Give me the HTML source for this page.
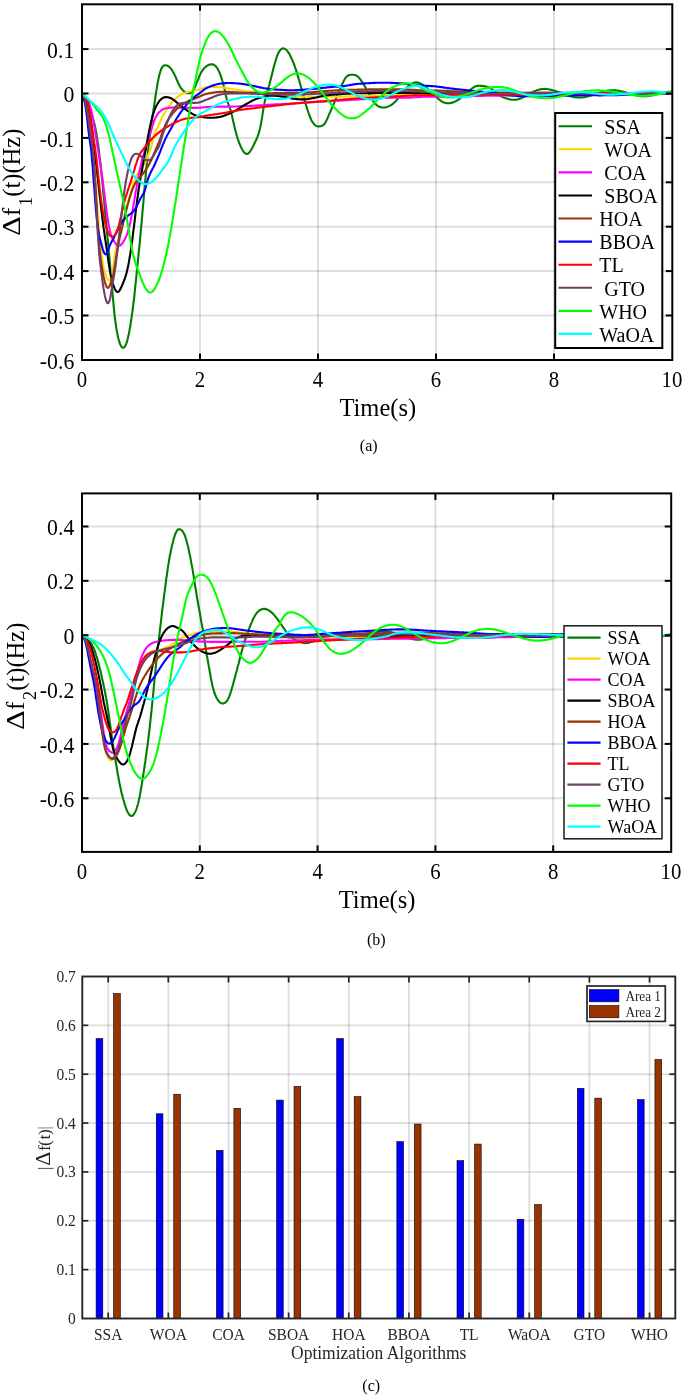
<!DOCTYPE html>
<html><head><meta charset="utf-8"><title>Frequency deviation comparison</title>
<style>html,body{margin:0;padding:0;background:#fff;}body{width:685px;height:1397px;overflow:hidden;font-family:"Liberation Serif",serif;}svg{display:block;}</style>
</head><body>
<svg width="685" height="1397" viewBox="0 0 685 1397" style="will-change:transform">
<rect width="685" height="1397" fill="#fff"/>
<g id="plota">
<clipPath id="clipa"><rect x="82" y="4.3" width="590.3" height="355.7"/></clipPath>
<g stroke="#262626" stroke-opacity="0.15" stroke-width="2">
<line x1="200" y1="4.3" x2="200" y2="360"/>
<line x1="318" y1="4.3" x2="318" y2="360"/>
<line x1="436" y1="4.3" x2="436" y2="360"/>
<line x1="554" y1="4.3" x2="554" y2="360"/>
<line x1="82" y1="49.1" x2="672.3" y2="49.1"/>
<line x1="82" y1="93.5" x2="672.3" y2="93.5"/>
<line x1="82" y1="137.9" x2="672.3" y2="137.9"/>
<line x1="82" y1="182.3" x2="672.3" y2="182.3"/>
<line x1="82" y1="226.7" x2="672.3" y2="226.7"/>
<line x1="82" y1="271.1" x2="672.3" y2="271.1"/>
<line x1="82" y1="315.5" x2="672.3" y2="315.5"/>
</g>
<g clip-path="url(#clipa)" fill="none" stroke-width="2.1" stroke-linejoin="round" stroke-linecap="round">
<path d="M82 93.5 L82.4 94.4 L82.8 95.3 L83.3 96.2 L83.7 97.1 L84.1 98 L84.5 98.9 L85 99.8 L85.4 100.7 L85.8 101.5 L86.2 102.4 L86.6 103.3 L87.1 104.2 L87.5 105.1 L87.9 106 L88.3 106.8 L88.8 107.7 L89.2 108.6 L89.6 109.5 L90 110.5 L90.4 111.5 L90.9 112.5 L91.3 113.6 L91.7 114.7 L92.1 115.9 L92.6 117.2 L93 118.6 L93.4 120 L93.8 121.6 L94.3 123.2 L94.7 125 L95.1 126.9 L95.5 129 L95.9 131.1 L96.4 133.5 L96.8 135.9 L97.2 138.6 L97.6 141.4 L98.1 144.3 L98.5 147.4 L98.9 150.7 L99.3 154.1 L99.7 157.7 L100.2 161.3 L100.6 165.1 L101 169.1 L101.4 173.1 L101.9 177.3 L102.3 181.5 L102.7 185.8 L103.1 190.3 L103.5 194.8 L104 199.3 L104.4 203.9 L104.8 208.5 L105.2 213.1 L105.7 217.7 L106.1 222.3 L106.5 226.9 L106.9 231.4 L107.3 235.8 L107.8 240.3 L108.2 244.7 L108.6 249.2 L109 253.7 L109.5 258.2 L109.9 262.9 L110.3 267.6 L110.7 272.4 L111.1 277.3 L111.6 282.2 L112 287.2 L112.4 292.1 L112.8 296.9 L113.3 301.6 L113.7 306.1 L114.1 310.3 L114.5 314.3 L114.9 318 L115.4 321.4 L115.8 324.5 L116.2 327.3 L116.6 329.9 L117.1 332.3 L117.5 334.5 L117.9 336.5 L118.3 338.3 L118.8 339.9 L119.2 341.4 L119.6 342.7 L120 343.9 L120.4 344.9 L120.9 345.7 L121.3 346.4 L121.7 347 L122.1 347.4 L122.6 347.7 L123 347.8 L123.4 347.7 L123.8 347.6 L124.2 347.3 L124.7 346.8 L125.1 346.2 L125.5 345.4 L125.9 344.5 L126.4 343.4 L126.8 342.2 L127.2 340.7 L127.6 339.2 L128 337.5 L128.5 335.6 L128.9 333.5 L129.3 331.4 L129.7 329 L130.2 326.6 L130.6 324 L131 321.3 L131.4 318.5 L131.8 315.6 L132.3 312.5 L132.7 309.4 L133.1 306.1 L133.5 302.6 L134 299.1 L134.4 295.3 L134.8 291.5 L135.2 287.4 L135.6 283.3 L136.1 279.1 L136.5 274.9 L136.9 270.6 L137.3 266.4 L137.8 262.3 L138.2 258.1 L138.6 253.9 L139 249.6 L139.5 245.3 L139.9 240.9 L140.3 236.4 L140.7 231.9 L141.1 227.3 L141.6 222.6 L142 217.8 L142.4 213 L142.8 208.1 L143.3 203.3 L143.7 198.4 L144.1 193.6 L144.5 188.7 L144.9 184 L145.4 179.3 L145.8 174.7 L146.2 170.1 L146.6 165.7 L147.1 161.4 L147.5 157.1 L147.9 153 L148.3 149 L148.7 145.1 L149.2 141.4 L149.6 137.8 L150 134.4 L150.4 131.1 L150.9 128 L151.3 124.9 L151.7 122 L152.1 119.1 L152.5 116.3 L153 113.4 L153.4 110.6 L153.8 107.8 L154.2 104.9 L154.7 102.1 L155.1 99.3 L155.5 96.5 L155.9 93.7 L156.3 90.9 L156.8 88.2 L157.2 85.6 L157.6 83.2 L158 80.9 L158.5 78.8 L158.9 76.9 L159.3 75.1 L159.7 73.5 L160.2 72 L160.6 70.8 L161 69.6 L161.4 68.7 L161.8 67.8 L162.3 67.2 L162.7 66.6 L163.1 66.2 L163.5 65.8 L164 65.6 L164.4 65.4 L164.8 65.3 L165.2 65.3 L165.6 65.3 L166.1 65.3 L166.5 65.4 L166.9 65.5 L167.3 65.6 L167.8 65.8 L168.2 66.1 L168.6 66.4 L169 66.7 L169.4 67.1 L169.9 67.5 L170.3 67.9 L170.7 68.4 L171.1 68.9 L171.6 69.5 L172 70.1 L172.4 70.8 L172.8 71.5 L173.2 72.2 L173.7 73 L174.1 73.8 L174.5 74.6 L174.9 75.5 L175.4 76.4 L175.8 77.4 L176.2 78.4 L176.6 79.3 L177 80.3 L177.5 81.3 L177.9 82.3 L178.3 83.2 L178.7 84.1 L179.2 84.9 L179.6 85.7 L180 86.5 L180.4 87.2 L180.8 87.8 L181.3 88.4 L181.7 88.9 L182.1 89.5 L182.5 89.9 L183 90.4 L183.4 90.8 L183.8 91.1 L184.2 91.5 L184.7 91.8 L185.1 92.1 L185.5 92.4 L185.9 92.6 L186.3 92.8 L186.8 93 L187.2 93.1 L187.6 93.2 L188 93.3 L188.5 93.3 L188.9 93.3 L189.3 93.2 L189.7 93.1 L190.1 93 L190.6 92.8 L191 92.5 L191.4 92.2 L191.8 91.8 L192.3 91.4 L192.7 90.9 L193.1 90.3 L193.5 89.7 L193.9 89 L194.4 88.2 L194.8 87.4 L195.2 86.5 L195.6 85.5 L196.1 84.5 L196.5 83.4 L196.9 82.4 L197.3 81.3 L197.7 80.2 L198.2 79.1 L198.6 78.1 L199 77 L199.4 76 L199.9 75 L200.3 74.1 L200.7 73.3 L201.1 72.5 L201.5 71.8 L202 71.1 L202.4 70.4 L202.8 69.9 L203.2 69.3 L203.7 68.8 L204.1 68.3 L204.5 67.9 L204.9 67.5 L205.4 67.1 L205.8 66.8 L206.2 66.4 L206.6 66.1 L207 65.8 L207.5 65.6 L207.9 65.3 L208.3 65.1 L208.7 64.9 L209.2 64.8 L209.6 64.6 L210 64.5 L210.4 64.4 L210.8 64.4 L211.3 64.3 L211.7 64.3 L212.1 64.4 L212.5 64.4 L213 64.5 L213.4 64.7 L213.8 64.8 L214.2 65 L214.6 65.3 L215.1 65.6 L215.5 66 L215.9 66.4 L216.3 66.9 L216.8 67.4 L217.2 68.1 L217.6 68.7 L218 69.5 L218.4 70.3 L218.9 71.2 L219.3 72.2 L219.7 73.2 L220.1 74.3 L220.6 75.4 L221 76.6 L221.4 77.8 L221.8 79.1 L222.2 80.5 L222.7 81.9 L223.1 83.4 L223.5 85 L223.9 86.7 L224.4 88.5 L224.8 90.4 L225.2 92.4 L225.6 94.5 L226.1 96.4 L226.5 98.2 L226.9 99.8 L227.3 101.2 L227.7 102.4 L228.2 103.6 L228.6 104.6 L229 105.7 L229.4 106.8 L229.9 108 L230.3 109.3 L230.7 110.7 L231.1 112.3 L231.5 114 L232 115.8 L232.4 117.7 L232.8 119.5 L233.2 121.4 L233.7 123.3 L234.1 125.2 L234.5 127 L234.9 128.7 L235.3 130.3 L235.8 131.9 L236.2 133.5 L236.6 135 L237 136.4 L237.5 137.8 L237.9 139.1 L238.3 140.3 L238.7 141.5 L239.1 142.7 L239.6 143.8 L240 144.8 L240.4 145.8 L240.8 146.8 L241.3 147.7 L241.7 148.5 L242.1 149.3 L242.5 150.1 L242.9 150.8 L243.4 151.4 L243.8 151.9 L244.2 152.4 L244.6 152.9 L245.1 153.2 L245.5 153.5 L245.9 153.7 L246.3 153.9 L246.7 153.9 L247.2 153.9 L247.6 153.8 L248 153.6 L248.4 153.3 L248.9 152.9 L249.3 152.5 L249.7 152 L250.1 151.4 L250.6 150.8 L251 150.1 L251.4 149.4 L251.8 148.7 L252.2 147.9 L252.7 147.1 L253.1 146.2 L253.5 145.4 L253.9 144.5 L254.4 143.6 L254.8 142.8 L255.2 141.9 L255.6 141 L256 140.2 L256.5 139.3 L256.9 138.3 L257.3 137.3 L257.7 136.2 L258.2 135 L258.6 133.7 L259 132.3 L260 128.4 L261 123.6 L262 117.9 L262.9 111.8 L263.9 106 L264.9 100.9 L265.9 96.5 L266.9 92.7 L267.9 89.5 L268.9 86.2 L269.8 82.7 L270.8 79 L271.8 75.1 L272.8 71.1 L273.8 67.1 L274.8 63.4 L275.8 60 L276.7 57 L277.7 54.5 L278.7 52.4 L279.7 50.8 L280.7 49.6 L281.7 48.8 L282.7 48.4 L283.6 48.4 L284.6 48.7 L285.6 49.3 L286.6 50.2 L287.6 51.4 L288.6 52.8 L289.6 54.4 L290.5 56.3 L291.5 58.3 L292.5 60.6 L293.5 63 L294.5 65.6 L295.5 68.4 L296.5 71.4 L297.4 74.6 L298.4 77.9 L299.4 81.3 L300.4 84.9 L301.4 88.4 L302.4 92 L303.4 95.6 L304.3 99.2 L305.3 102.7 L306.3 106.1 L307.3 109.3 L308.3 112.3 L309.3 115 L310.3 117.5 L311.2 119.7 L312.2 121.7 L313.2 123.2 L314.2 124.4 L315.2 125.3 L316.2 125.9 L317.2 126.2 L318.1 126.4 L319.1 126.4 L320.1 126.3 L321.1 126.1 L322.1 125.8 L323.1 125.2 L324.1 124.3 L325 123.1 L326 121.4 L327 119.4 L328 117.1 L329 114.7 L330 112.4 L331 110.1 L331.9 108 L332.9 105.9 L333.9 103.7 L334.9 101.3 L335.9 98.9 L336.9 96.4 L337.9 94 L338.8 91.7 L339.8 89.4 L340.8 87.3 L341.8 85.1 L342.8 82.9 L343.8 80.9 L344.8 79 L345.7 77.5 L346.7 76.5 L347.7 75.7 L348.7 75.2 L349.7 74.9 L350.7 74.7 L351.7 74.7 L352.6 74.7 L353.6 74.8 L354.6 75 L355.6 75.3 L356.6 75.8 L357.6 76.4 L358.6 77.3 L359.5 78.4 L360.5 79.6 L361.5 81.1 L362.5 82.6 L363.5 84.2 L364.5 85.9 L365.5 87.5 L366.4 89.2 L367.4 90.9 L368.4 92.6 L369.4 94.5 L370.4 96.4 L371.4 98.2 L372.4 99.9 L373.3 101.4 L374.3 102.7 L375.3 103.8 L376.3 104.8 L377.3 105.6 L378.3 106.2 L379.3 106.7 L380.2 107.1 L381.2 107.3 L382.2 107.5 L383.2 107.5 L384.2 107.5 L385.2 107.4 L386.2 107.2 L387.1 106.9 L388.1 106.5 L389.1 106.1 L390.1 105.6 L391.1 105 L392.1 104.4 L393.1 103.7 L394 102.8 L395 101.9 L396 100.9 L397 99.7 L398 98.5 L399 97.2 L400 95.9 L400.9 94.6 L401.9 93.3 L402.9 92 L403.9 90.8 L404.9 89.6 L405.9 88.5 L406.9 87.5 L407.8 86.5 L408.8 85.6 L409.8 84.9 L410.8 84.2 L411.8 83.6 L412.8 83.1 L413.8 82.8 L414.7 82.5 L415.7 82.4 L416.7 82.4 L417.7 82.6 L418.7 82.8 L419.7 83.2 L420.7 83.6 L421.6 84.1 L422.6 84.7 L423.6 85.4 L424.6 86.1 L425.6 86.9 L426.6 87.7 L427.6 88.6 L428.5 89.5 L429.5 90.4 L430.5 91.3 L431.5 92.3 L432.5 93.3 L433.5 94.2 L434.5 95.2 L435.4 96.2 L436.4 97.1 L437.4 98 L438.4 98.9 L439.4 99.7 L440.4 100.5 L441.4 101.1 L442.3 101.7 L443.3 102.2 L444.3 102.6 L445.3 102.9 L446.3 103.1 L447.3 103.3 L448.3 103.3 L449.2 103.3 L450.2 103.1 L451.2 102.9 L452.2 102.7 L453.2 102.3 L454.2 101.9 L455.2 101.5 L456.1 101 L457.1 100.4 L458.1 99.8 L459.1 99.1 L460.1 98.5 L461.1 97.7 L462.1 97 L463 96.2 L464 95.4 L465 94.5 L466 93.7 L467 92.8 L468 92 L468.9 91.1 L469.9 90.2 L470.9 89.3 L471.9 88.5 L472.9 87.8 L473.9 87.1 L474.9 86.6 L475.8 86.3 L476.8 86 L477.8 85.9 L478.8 85.8 L479.8 85.8 L480.8 85.9 L481.8 85.9 L482.7 86 L483.7 86.1 L484.7 86.2 L485.7 86.4 L486.7 86.7 L487.7 87 L488.7 87.3 L489.6 87.8 L490.6 88.3 L491.6 88.9 L492.6 89.6 L493.6 90.4 L494.6 91.2 L495.6 92.1 L496.5 93 L497.5 93.8 L498.5 94.6 L499.5 95.4 L500.5 96 L501.5 96.6 L502.5 97 L503.4 97.4 L504.4 97.7 L505.4 98.1 L506.4 98.4 L507.4 98.7 L508.4 98.9 L509.4 99.2 L510.3 99.4 L511.3 99.6 L512.3 99.7 L513.3 99.8 L514.3 99.8 L515.3 99.7 L516.3 99.6 L517.2 99.4 L518.2 99.2 L519.2 98.9 L520.2 98.6 L521.2 98.2 L522.2 97.8 L523.2 97.4 L524.1 96.9 L525.1 96.4 L526.1 95.8 L527.1 95.2 L528.1 94.7 L529.1 94.1 L530.1 93.5 L531 92.9 L532 92.4 L533 91.9 L534 91.4 L535 91 L536 90.6 L537 90.2 L537.9 89.9 L538.9 89.7 L539.9 89.4 L540.9 89.3 L541.9 89.1 L542.9 89 L543.9 89 L544.8 88.9 L545.8 89 L546.8 89 L547.8 89.2 L548.8 89.3 L549.8 89.5 L550.8 89.7 L551.7 89.9 L552.7 90.2 L553.7 90.5 L554.7 90.8 L555.7 91.1 L556.7 91.4 L557.7 91.8 L558.6 92.1 L559.6 92.5 L560.6 92.8 L561.6 93.2 L562.6 93.6 L563.6 93.9 L564.6 94.3 L565.5 94.7 L566.5 95 L567.5 95.3 L568.5 95.7 L569.5 96 L570.5 96.2 L571.5 96.5 L572.4 96.7 L573.4 97 L574.4 97.1 L575.4 97.3 L576.4 97.4 L577.4 97.5 L578.4 97.5 L579.3 97.6 L580.3 97.5 L581.3 97.5 L582.3 97.4 L583.3 97.2 L584.3 97.1 L585.3 96.9 L586.2 96.7 L587.2 96.5 L588.2 96.2 L589.2 96 L590.2 95.7 L591.2 95.4 L592.2 95.1 L593.1 94.8 L594.1 94.5 L595.1 94.2 L596.1 93.8 L597.1 93.5 L598.1 93.2 L599.1 92.9 L600 92.6 L601 92.3 L602 92 L603 91.7 L604 91.5 L605 91.2 L606 91 L606.9 90.8 L607.9 90.6 L608.9 90.5 L609.9 90.4 L610.9 90.3 L611.9 90.2 L612.9 90.2 L613.8 90.2 L614.8 90.3 L615.8 90.4 L616.8 90.5 L617.8 90.6 L618.8 90.8 L619.8 91 L620.7 91.2 L621.7 91.4 L622.7 91.6 L623.7 91.9 L624.7 92.1 L625.7 92.4 L626.7 92.7 L627.6 93 L628.6 93.3 L629.6 93.6 L630.6 93.8 L631.6 94.1 L632.6 94.4 L633.6 94.6 L634.5 94.9 L635.5 95.1 L636.5 95.4 L637.5 95.6 L638.5 95.7 L639.5 95.9 L640.5 96 L641.4 96.2 L642.4 96.2 L643.4 96.3 L644.4 96.3 L645.4 96.3 L646.4 96.2 L647.4 96.1 L648.3 96 L649.3 95.9 L650.3 95.7 L651.3 95.5 L652.3 95.3 L653.3 95.1 L654.3 94.9 L655.2 94.6 L656.2 94.4 L657.2 94.2 L658.2 93.9 L659.2 93.6 L660.2 93.4 L661.2 93.2 L662.1 92.9 L663.1 92.7 L664.1 92.5 L665.1 92.3 L666.1 92.2 L667.1 92 L668.1 91.9 L669 91.8 L670 91.7 L671 91.7 L672 91.7" stroke="#007d00"/>
<path d="M82 93.5 L82.4 94.5 L82.8 95.6 L83.3 96.6 L83.7 97.8 L84.1 98.9 L84.5 100.2 L85 101.6 L85.4 103 L85.8 104.6 L86.2 106.3 L86.6 108.2 L87.1 110.2 L87.5 112.4 L87.9 114.7 L88.3 117.1 L88.8 119.7 L89.2 122.4 L89.6 125.2 L90 128.2 L90.4 131.2 L90.9 134.4 L91.3 137.7 L91.7 141.1 L92.1 144.6 L92.6 148.3 L93 152.1 L93.4 156.2 L93.8 160.4 L94.3 164.9 L94.7 169.7 L95.1 174.7 L95.5 180.1 L95.9 185.7 L96.4 191.7 L96.8 197.8 L97.2 204 L97.6 210.2 L98.1 216.3 L98.5 222.2 L98.9 227.8 L99.3 233 L99.7 237.8 L100.2 242.3 L100.6 246.4 L101 250.2 L101.4 253.7 L101.9 257 L102.3 259.9 L102.7 262.6 L103.1 265 L103.5 267.2 L104 269.2 L104.4 271 L104.8 272.6 L105.2 274 L105.7 275.2 L106.1 276.3 L106.5 277.3 L106.9 278.1 L107.3 278.8 L107.8 279.3 L108.2 279.8 L108.6 280.1 L109 280.2 L109.5 280.2 L109.9 279.9 L110.3 279.4 L110.7 278.6 L111.1 277.5 L111.6 276.1 L112 274.2 L112.4 272 L112.8 269.3 L113.3 266.3 L113.7 263.1 L114.1 259.9 L114.5 256.8 L114.9 254.1 L115.4 251.7 L115.8 249.7 L116.2 247.8 L116.6 246 L117.1 244.2 L117.5 242.4 L117.9 240.7 L118.3 238.9 L118.8 237.1 L119.2 235.4 L119.6 233.6 L120 231.9 L120.4 230.2 L120.9 228.5 L121.3 226.8 L121.7 225.1 L122.1 223.5 L122.6 221.9 L123 220.3 L123.4 218.7 L123.8 217.2 L124.2 215.7 L124.7 214.1 L125.1 212.6 L125.5 211.1 L125.9 209.6 L126.4 208.1 L126.8 206.6 L127.2 205.2 L127.6 203.7 L128 202.2 L128.5 200.7 L128.9 199.2 L129.3 197.7 L129.7 196.3 L130.2 194.8 L130.6 193.3 L131 191.9 L131.4 190.5 L131.8 189.1 L132.3 187.7 L132.7 186.4 L133.1 185 L133.5 183.8 L134 182.5 L134.4 181.3 L134.8 180.2 L135.2 179.1 L135.6 178 L136.1 177 L136.5 176 L136.9 175.1 L137.3 174.2 L137.8 173.3 L138.2 172.5 L138.6 171.8 L139 171.1 L139.5 170.4 L139.9 169.8 L140.3 169.2 L140.7 168.7 L141.1 168.2 L141.6 167.7 L142 167.2 L142.4 166.7 L142.8 166.2 L143.3 165.7 L143.7 165.1 L144.1 164.5 L144.5 163.9 L144.9 163.2 L145.4 162.4 L145.8 161.5 L146.2 160.6 L146.6 159.5 L147.1 158.4 L147.5 157.3 L147.9 156.1 L148.3 154.9 L148.7 153.8 L149.2 152.7 L149.6 151.6 L150 150.5 L150.4 149.3 L150.9 148 L151.3 146.5 L151.7 144.8 L152.1 143 L152.5 141.1 L153 139.3 L153.4 137.6 L153.8 136.2 L154.2 134.8 L154.7 133.7 L155.1 132.6 L155.5 131.6 L155.9 130.7 L156.3 129.8 L156.8 128.9 L157.2 128.1 L157.6 127.2 L158 126.3 L158.5 125.4 L158.9 124.4 L159.3 123.5 L159.7 122.5 L160.2 121.5 L160.6 120.6 L161 119.7 L161.4 118.8 L161.8 117.9 L162.3 117 L162.7 116.2 L163.1 115.5 L163.5 114.8 L164 114 L164.4 113.4 L164.8 112.7 L165.2 112 L165.6 111.4 L166.1 110.7 L166.5 110.1 L166.9 109.4 L167.3 108.7 L167.8 108.1 L168.2 107.4 L168.6 106.8 L169 106.1 L169.4 105.5 L169.9 104.9 L170.3 104.3 L170.7 103.8 L171.1 103.2 L171.6 102.7 L172 102.2 L172.4 101.7 L172.8 101.2 L173.2 100.8 L173.7 100.3 L174.1 99.9 L174.5 99.5 L174.9 99.1 L175.4 98.7 L175.8 98.3 L176.2 98 L176.6 97.6 L177 97.2 L177.5 96.9 L177.9 96.6 L178.3 96.3 L178.7 96 L179.2 95.7 L179.6 95.4 L180 95.1 L180.4 94.9 L180.8 94.6 L181.3 94.4 L181.7 94.2 L182.1 94 L182.5 93.8 L183 93.6 L183.4 93.4 L183.8 93.3 L184.2 93.1 L184.7 93 L185.1 92.8 L185.5 92.7 L185.9 92.6 L186.3 92.5 L186.8 92.3 L187.2 92.2 L187.6 92.1 L188 92 L188.5 91.9 L188.9 91.8 L189.3 91.6 L189.7 91.5 L190.1 91.4 L190.6 91.3 L191 91.2 L191.4 91.1 L191.8 91 L192.3 90.9 L192.7 90.8 L193.1 90.7 L193.5 90.6 L193.9 90.6 L194.4 90.5 L194.8 90.4 L195.2 90.3 L195.6 90.3 L196.1 90.2 L196.5 90.1 L196.9 90 L197.3 90 L197.7 89.9 L198.2 89.8 L198.6 89.7 L199 89.6 L199.4 89.5 L199.9 89.3 L200.3 89.2 L200.7 89 L201.1 88.9 L201.5 88.7 L202 88.6 L202.4 88.4 L202.8 88.3 L203.2 88.1 L203.7 88 L204.1 87.8 L204.5 87.7 L204.9 87.6 L205.4 87.5 L205.8 87.4 L206.2 87.3 L206.6 87.3 L207 87.2 L207.5 87.2 L207.9 87.1 L208.3 87.1 L208.7 87.1 L209.2 87.1 L209.6 87 L210 87 L210.4 87 L210.8 87 L211.3 87 L211.7 87 L212.1 87 L212.5 87 L213 87 L213.4 87 L213.8 87 L214.2 87 L214.6 87 L215.1 87 L215.5 87 L215.9 87 L216.3 87 L216.8 87 L217.2 87 L217.6 87 L218 87.1 L218.4 87.1 L218.9 87.1 L219.3 87.2 L219.7 87.2 L220.1 87.2 L220.6 87.3 L221 87.3 L221.4 87.4 L221.8 87.4 L222.2 87.5 L222.7 87.5 L223.1 87.6 L223.5 87.7 L223.9 87.7 L224.4 87.8 L224.8 87.8 L225.2 87.9 L225.6 88 L226.1 88 L226.5 88.1 L226.9 88.2 L227.3 88.3 L227.7 88.3 L228.2 88.4 L228.6 88.5 L229 88.5 L229.4 88.6 L229.9 88.7 L230.3 88.7 L230.7 88.8 L231.1 88.9 L231.5 88.9 L232 89 L232.4 89.1 L232.8 89.1 L233.2 89.2 L233.7 89.3 L234.1 89.3 L234.5 89.4 L234.9 89.5 L235.3 89.5 L235.8 89.6 L236.2 89.7 L236.6 89.7 L237 89.8 L237.5 89.9 L237.9 89.9 L238.3 90 L238.7 90 L239.1 90.1 L239.6 90.2 L240 90.2 L240.4 90.3 L240.8 90.3 L241.3 90.4 L241.7 90.5 L242.1 90.5 L242.5 90.6 L242.9 90.6 L243.4 90.7 L243.8 90.7 L244.2 90.8 L244.6 90.8 L245.1 90.9 L245.5 91 L245.9 91 L246.3 91.1 L246.7 91.1 L247.2 91.2 L247.6 91.2 L248 91.3 L248.4 91.3 L248.9 91.4 L249.3 91.4 L249.7 91.5 L250.1 91.6 L250.6 91.6 L251 91.7 L251.4 91.7 L251.8 91.8 L252.2 91.8 L252.7 91.9 L253.1 91.9 L253.5 92 L253.9 92 L254.4 92.1 L254.8 92.1 L255.2 92.2 L255.6 92.2 L256 92.3 L256.5 92.4 L256.9 92.4 L257.3 92.5 L257.7 92.5 L258.2 92.6 L258.6 92.6 L259 92.7 L260 92.8 L261 92.9 L262 93.1 L262.9 93.2 L263.9 93.4 L264.9 93.5 L265.9 93.6 L266.9 93.8 L267.9 93.9 L268.9 94.1 L269.8 94.2 L270.8 94.4 L271.8 94.5 L272.8 94.7 L273.8 94.8 L274.8 95 L275.8 95.1 L276.7 95.2 L277.7 95.4 L278.7 95.5 L279.7 95.6 L280.7 95.7 L281.7 95.8 L282.7 95.9 L283.6 96 L284.6 96.1 L285.6 96.1 L286.6 96.2 L287.6 96.3 L288.6 96.3 L289.6 96.4 L290.5 96.5 L291.5 96.5 L292.5 96.6 L293.5 96.6 L294.5 96.6 L295.5 96.7 L296.5 96.7 L297.4 96.7 L298.4 96.7 L299.4 96.7 L300.4 96.7 L301.4 96.7 L302.4 96.7 L303.4 96.7 L304.3 96.7 L305.3 96.7 L306.3 96.7 L307.3 96.7 L308.3 96.7 L309.3 96.7 L310.3 96.7 L311.2 96.7 L312.2 96.7 L313.2 96.7 L314.2 96.7 L315.2 96.7 L316.2 96.7 L317.2 96.7 L318.1 96.7 L319.1 96.7 L320.1 96.7 L321.1 96.7 L322.1 96.7 L323.1 96.7 L324.1 96.8 L325 96.8 L326 96.8 L327 96.8 L328 96.8 L329 96.8 L330 96.7 L331 96.7 L331.9 96.7 L332.9 96.7 L333.9 96.7 L334.9 96.7 L335.9 96.7 L336.9 96.6 L337.9 96.6 L338.8 96.6 L339.8 96.6 L340.8 96.5 L341.8 96.5 L342.8 96.5 L343.8 96.5 L344.8 96.4 L345.7 96.4 L346.7 96.4 L347.7 96.4 L348.7 96.4 L349.7 96.3 L350.7 96.3 L351.7 96.3 L352.6 96.3 L353.6 96.3 L354.6 96.3 L355.6 96.2 L356.6 96.2 L357.6 96.2 L358.6 96.2 L359.5 96.2 L360.5 96.2 L361.5 96.1 L362.5 96.1 L363.5 96.1 L364.5 96.1 L365.5 96.1 L366.4 96 L367.4 96 L368.4 96 L369.4 95.9 L370.4 95.9 L371.4 95.9 L372.4 95.8 L373.3 95.8 L374.3 95.8 L375.3 95.7 L376.3 95.7 L377.3 95.6 L378.3 95.6 L379.3 95.6 L380.2 95.5 L381.2 95.5 L382.2 95.4 L383.2 95.4 L384.2 95.4 L385.2 95.3 L386.2 95.3 L387.1 95.3 L388.1 95.2 L389.1 95.2 L390.1 95.2 L391.1 95.1 L392.1 95.1 L393.1 95.1 L394 95.1 L395 95 L396 95 L397 95 L398 94.9 L399 94.9 L400 94.9 L400.9 94.9 L401.9 94.8 L402.9 94.8 L403.9 94.8 L404.9 94.7 L405.9 94.7 L406.9 94.7 L407.8 94.6 L408.8 94.6 L409.8 94.5 L410.8 94.5 L411.8 94.5 L412.8 94.4 L413.8 94.4 L414.7 94.4 L415.7 94.3 L416.7 94.3 L417.7 94.3 L418.7 94.3 L419.7 94.2 L420.7 94.2 L421.6 94.2 L422.6 94.2 L423.6 94.2 L424.6 94.1 L425.6 94.1 L426.6 94.1 L427.6 94.1 L428.5 94.1 L429.5 94.1 L430.5 94.1 L431.5 94 L432.5 94 L433.5 94 L434.5 94 L435.4 94 L436.4 94 L437.4 94 L438.4 94 L439.4 94 L440.4 94 L441.4 94 L442.3 94 L443.3 94 L444.3 94 L445.3 94 L446.3 93.9 L447.3 93.9 L448.3 93.9 L449.2 93.9 L450.2 93.9 L451.2 93.9 L452.2 93.9 L453.2 93.9 L454.2 93.9 L455.2 93.9 L456.1 93.9 L457.1 93.9 L458.1 93.9 L459.1 93.9 L460.1 93.9 L461.1 93.9 L462.1 93.9 L463 93.9 L464 93.9 L465 93.9 L466 93.9 L467 93.9 L468 93.9 L468.9 93.9 L469.9 93.9 L470.9 93.9 L471.9 93.9 L472.9 93.9 L473.9 93.9 L474.9 93.9 L475.8 93.9 L476.8 93.9 L477.8 93.8 L478.8 93.8 L479.8 93.8 L480.8 93.8 L481.8 93.8 L482.7 93.8 L483.7 93.8 L484.7 93.8 L485.7 93.8 L486.7 93.8 L487.7 93.8 L488.7 93.8 L489.6 93.8 L490.6 93.8 L491.6 93.8 L492.6 93.8 L493.6 93.8 L494.6 93.8 L495.6 93.8 L496.5 93.8 L497.5 93.8 L498.5 93.8 L499.5 93.8 L500.5 93.8 L501.5 93.8 L502.5 93.8 L503.4 93.8 L504.4 93.8 L505.4 93.8 L506.4 93.8 L507.4 93.8 L508.4 93.8 L509.4 93.8 L510.3 93.8 L511.3 93.8 L512.3 93.8 L513.3 93.8 L514.3 93.8 L515.3 93.8 L516.3 93.7 L517.2 93.7 L518.2 93.7 L519.2 93.7 L520.2 93.7 L521.2 93.7 L522.2 93.7 L523.2 93.7 L524.1 93.7 L525.1 93.7 L526.1 93.7 L527.1 93.7 L528.1 93.7 L529.1 93.7 L530.1 93.7 L531 93.7 L532 93.7 L533 93.7 L534 93.7 L535 93.7 L536 93.7 L537 93.7 L537.9 93.7 L538.9 93.7 L539.9 93.7 L540.9 93.7 L541.9 93.7 L542.9 93.7 L543.9 93.7 L544.8 93.7 L545.8 93.7 L546.8 93.7 L547.8 93.7 L548.8 93.7 L549.8 93.7 L550.8 93.7 L551.7 93.7 L552.7 93.7 L553.7 93.7 L554.7 93.7 L555.7 93.7 L556.7 93.7 L557.7 93.7 L558.6 93.7 L559.6 93.7 L560.6 93.7 L561.6 93.7 L562.6 93.7 L563.6 93.7 L564.6 93.7 L565.5 93.6 L566.5 93.6 L567.5 93.6 L568.5 93.6 L569.5 93.6 L570.5 93.6 L571.5 93.6 L572.4 93.6 L573.4 93.6 L574.4 93.6 L575.4 93.6 L576.4 93.6 L577.4 93.6 L578.4 93.6 L579.3 93.6 L580.3 93.6 L581.3 93.6 L582.3 93.6 L583.3 93.6 L584.3 93.6 L585.3 93.6 L586.2 93.6 L587.2 93.6 L588.2 93.6 L589.2 93.6 L590.2 93.6 L591.2 93.6 L592.2 93.6 L593.1 93.6 L594.1 93.6 L595.1 93.6 L596.1 93.6 L597.1 93.6 L598.1 93.6 L599.1 93.6 L600 93.6 L601 93.6 L602 93.6 L603 93.6 L604 93.6 L605 93.6 L606 93.6 L606.9 93.6 L607.9 93.6 L608.9 93.6 L609.9 93.6 L610.9 93.6 L611.9 93.6 L612.9 93.6 L613.8 93.6 L614.8 93.6 L615.8 93.6 L616.8 93.6 L617.8 93.6 L618.8 93.6 L619.8 93.6 L620.7 93.6 L621.7 93.6 L622.7 93.6 L623.7 93.6 L624.7 93.6 L625.7 93.6 L626.7 93.6 L627.6 93.6 L628.6 93.6 L629.6 93.6 L630.6 93.6 L631.6 93.6 L632.6 93.5 L633.6 93.5 L634.5 93.5 L635.5 93.5 L636.5 93.5 L637.5 93.5 L638.5 93.5 L639.5 93.5 L640.5 93.5 L641.4 93.5 L642.4 93.5 L643.4 93.5 L644.4 93.5 L645.4 93.5 L646.4 93.5 L647.4 93.5 L648.3 93.5 L649.3 93.5 L650.3 93.5 L651.3 93.5 L652.3 93.5 L653.3 93.5 L654.3 93.5 L655.2 93.5 L656.2 93.5 L657.2 93.5 L658.2 93.5 L659.2 93.5 L660.2 93.5 L661.2 93.5 L662.1 93.5 L663.1 93.5 L664.1 93.5 L665.1 93.5 L666.1 93.5 L667.1 93.5 L668.1 93.5 L669 93.5 L670 93.5 L671 93.5 L672 93.5" stroke="#ffd500"/>
<path d="M82 93.5 L82.4 93.8 L82.8 94.2 L83.3 94.5 L83.7 94.9 L84.1 95.3 L84.5 95.7 L85 96.1 L85.4 96.6 L85.8 97.1 L86.2 97.7 L86.6 98.3 L87.1 99 L87.5 99.8 L87.9 100.6 L88.3 101.5 L88.8 102.5 L89.2 103.6 L89.6 104.8 L90 106.1 L90.4 107.5 L90.9 109.1 L91.3 110.7 L91.7 112.5 L92.1 114.5 L92.6 116.6 L93 118.8 L93.4 121.2 L93.8 123.7 L94.3 126.3 L94.7 128.9 L95.1 131.6 L95.5 134.2 L95.9 136.9 L96.4 139.5 L96.8 142.1 L97.2 144.6 L97.6 147.2 L98.1 149.7 L98.5 152.3 L98.9 154.9 L99.3 157.5 L99.7 160.2 L100.2 162.9 L100.6 165.7 L101 168.5 L101.4 171.4 L101.9 174.3 L102.3 177.3 L102.7 180.4 L103.1 183.7 L103.5 186.9 L104 190.3 L104.4 193.7 L104.8 197.1 L105.2 200.5 L105.7 203.9 L106.1 207.2 L106.5 210.4 L106.9 213.5 L107.3 216.5 L107.8 219.4 L108.2 222.1 L108.6 224.5 L109 226.8 L109.5 228.8 L109.9 230.7 L110.3 232.3 L110.7 233.8 L111.1 235.1 L111.6 236.2 L112 237.3 L112.4 238.2 L112.8 239.1 L113.3 239.9 L113.7 240.6 L114.1 241.3 L114.5 242 L114.9 242.6 L115.4 243.2 L115.8 243.8 L116.2 244.3 L116.6 244.7 L117.1 245.1 L117.5 245.4 L117.9 245.6 L118.3 245.8 L118.8 245.8 L119.2 245.8 L119.6 245.7 L120 245.5 L120.4 245.3 L120.9 244.9 L121.3 244.5 L121.7 244.1 L122.1 243.6 L122.6 243 L123 242.4 L123.4 241.7 L123.8 241 L124.2 240.3 L124.7 239.5 L125.1 238.7 L125.5 237.8 L125.9 236.9 L126.4 235.9 L126.8 234.8 L127.2 233.7 L127.6 232.5 L128 231.1 L128.5 229.7 L128.9 228.2 L129.3 226.6 L129.7 224.8 L130.2 222.9 L130.6 220.9 L131 218.9 L131.4 216.7 L131.8 214.5 L132.3 212.1 L132.7 209.8 L133.1 207.4 L133.5 204.9 L134 202.4 L134.4 199.9 L134.8 197.4 L135.2 194.9 L135.6 192.4 L136.1 189.9 L136.5 187.4 L136.9 185 L137.3 182.6 L137.8 180.3 L138.2 178.1 L138.6 175.9 L139 173.7 L139.5 171.7 L139.9 169.7 L140.3 167.7 L140.7 165.8 L141.1 164 L141.6 162.2 L142 160.5 L142.4 158.8 L142.8 157.2 L143.3 155.7 L143.7 154.2 L144.1 152.7 L144.5 151.3 L144.9 149.9 L145.4 148.6 L145.8 147.3 L146.2 146 L146.6 144.7 L147.1 143.4 L147.5 142.1 L147.9 140.9 L148.3 139.6 L148.7 138.3 L149.2 137 L149.6 135.7 L150 134.3 L150.4 132.9 L150.9 131.5 L151.3 130 L151.7 128.6 L152.1 127.1 L152.5 125.7 L153 124.3 L153.4 123 L153.8 121.8 L154.2 120.6 L154.7 119.5 L155.1 118.6 L155.5 117.7 L155.9 116.9 L156.3 116.1 L156.8 115.4 L157.2 114.8 L157.6 114.1 L158 113.6 L158.5 113 L158.9 112.6 L159.3 112.1 L159.7 111.7 L160.2 111.3 L160.6 110.9 L161 110.6 L161.4 110.2 L161.8 110 L162.3 109.7 L162.7 109.5 L163.1 109.3 L163.5 109.1 L164 108.9 L164.4 108.7 L164.8 108.6 L165.2 108.5 L165.6 108.4 L166.1 108.2 L166.5 108.2 L166.9 108.1 L167.3 108 L167.8 107.9 L168.2 107.9 L168.6 107.8 L169 107.7 L169.4 107.7 L169.9 107.7 L170.3 107.6 L170.7 107.6 L171.1 107.6 L171.6 107.5 L172 107.5 L172.4 107.5 L172.8 107.5 L173.2 107.5 L173.7 107.5 L174.1 107.5 L174.5 107.5 L174.9 107.5 L175.4 107.5 L175.8 107.5 L176.2 107.5 L176.6 107.5 L177 107.5 L177.5 107.5 L177.9 107.5 L178.3 107.5 L178.7 107.5 L179.2 107.6 L179.6 107.6 L180 107.6 L180.4 107.6 L180.8 107.6 L181.3 107.6 L181.7 107.6 L182.1 107.6 L182.5 107.7 L183 107.7 L183.4 107.7 L183.8 107.7 L184.2 107.7 L184.7 107.7 L185.1 107.8 L185.5 107.8 L185.9 107.8 L186.3 107.8 L186.8 107.8 L187.2 107.8 L187.6 107.8 L188 107.9 L188.5 107.9 L188.9 107.9 L189.3 107.9 L189.7 107.9 L190.1 107.9 L190.6 107.9 L191 107.9 L191.4 107.9 L191.8 107.9 L192.3 107.9 L192.7 107.9 L193.1 107.9 L193.5 107.9 L193.9 107.9 L194.4 107.9 L194.8 107.9 L195.2 107.9 L195.6 107.9 L196.1 107.9 L196.5 107.9 L196.9 107.9 L197.3 107.9 L197.7 107.8 L198.2 107.8 L198.6 107.8 L199 107.8 L199.4 107.7 L199.9 107.7 L200.3 107.7 L200.7 107.6 L201.1 107.6 L201.5 107.6 L202 107.5 L202.4 107.5 L202.8 107.4 L203.2 107.4 L203.7 107.4 L204.1 107.3 L204.5 107.3 L204.9 107.2 L205.4 107.2 L205.8 107.2 L206.2 107.1 L206.6 107.1 L207 107.1 L207.5 107 L207.9 107 L208.3 107 L208.7 107 L209.2 106.9 L209.6 106.9 L210 106.9 L210.4 106.9 L210.8 106.9 L211.3 106.8 L211.7 106.8 L212.1 106.8 L212.5 106.8 L213 106.8 L213.4 106.8 L213.8 106.7 L214.2 106.7 L214.6 106.7 L215.1 106.7 L215.5 106.7 L215.9 106.7 L216.3 106.7 L216.8 106.7 L217.2 106.7 L217.6 106.7 L218 106.7 L218.4 106.7 L218.9 106.7 L219.3 106.7 L219.7 106.6 L220.1 106.6 L220.6 106.6 L221 106.6 L221.4 106.6 L221.8 106.6 L222.2 106.6 L222.7 106.6 L223.1 106.6 L223.5 106.6 L223.9 106.6 L224.4 106.6 L224.8 106.6 L225.2 106.6 L225.6 106.6 L226.1 106.6 L226.5 106.6 L226.9 106.6 L227.3 106.6 L227.7 106.6 L228.2 106.6 L228.6 106.6 L229 106.6 L229.4 106.6 L229.9 106.6 L230.3 106.6 L230.7 106.6 L231.1 106.6 L231.5 106.6 L232 106.6 L232.4 106.6 L232.8 106.6 L233.2 106.5 L233.7 106.5 L234.1 106.5 L234.5 106.5 L234.9 106.5 L235.3 106.5 L235.8 106.5 L236.2 106.5 L236.6 106.5 L237 106.5 L237.5 106.5 L237.9 106.4 L238.3 106.4 L238.7 106.4 L239.1 106.4 L239.6 106.4 L240 106.4 L240.4 106.4 L240.8 106.3 L241.3 106.3 L241.7 106.3 L242.1 106.3 L242.5 106.3 L242.9 106.3 L243.4 106.3 L243.8 106.2 L244.2 106.2 L244.6 106.2 L245.1 106.2 L245.5 106.2 L245.9 106.1 L246.3 106.1 L246.7 106.1 L247.2 106.1 L247.6 106.1 L248 106 L248.4 106 L248.9 106 L249.3 106 L249.7 106 L250.1 105.9 L250.6 105.9 L251 105.9 L251.4 105.9 L251.8 105.9 L252.2 105.8 L252.7 105.8 L253.1 105.8 L253.5 105.8 L253.9 105.7 L254.4 105.7 L254.8 105.7 L255.2 105.7 L255.6 105.6 L256 105.6 L256.5 105.6 L256.9 105.6 L257.3 105.5 L257.7 105.5 L258.2 105.5 L258.6 105.4 L259 105.4 L260 105.4 L261 105.3 L262 105.2 L262.9 105.2 L263.9 105.1 L264.9 105 L265.9 105 L266.9 104.9 L267.9 104.9 L268.9 104.8 L269.8 104.8 L270.8 104.7 L271.8 104.6 L272.8 104.6 L273.8 104.5 L274.8 104.5 L275.8 104.4 L276.7 104.4 L277.7 104.3 L278.7 104.3 L279.7 104.2 L280.7 104.2 L281.7 104.1 L282.7 104.1 L283.6 104 L284.6 103.9 L285.6 103.9 L286.6 103.8 L287.6 103.8 L288.6 103.7 L289.6 103.7 L290.5 103.6 L291.5 103.5 L292.5 103.5 L293.5 103.4 L294.5 103.3 L295.5 103.3 L296.5 103.2 L297.4 103.2 L298.4 103.1 L299.4 103 L300.4 103 L301.4 102.9 L302.4 102.8 L303.4 102.8 L304.3 102.7 L305.3 102.7 L306.3 102.6 L307.3 102.5 L308.3 102.5 L309.3 102.4 L310.3 102.3 L311.2 102.3 L312.2 102.2 L313.2 102.2 L314.2 102.1 L315.2 102 L316.2 102 L317.2 101.9 L318.1 101.9 L319.1 101.8 L320.1 101.7 L321.1 101.7 L322.1 101.6 L323.1 101.6 L324.1 101.5 L325 101.5 L326 101.4 L327 101.3 L328 101.3 L329 101.2 L330 101.2 L331 101.1 L331.9 101.1 L332.9 101 L333.9 101 L334.9 100.9 L335.9 100.8 L336.9 100.8 L337.9 100.7 L338.8 100.7 L339.8 100.6 L340.8 100.5 L341.8 100.5 L342.8 100.4 L343.8 100.4 L344.8 100.3 L345.7 100.2 L346.7 100.2 L347.7 100.1 L348.7 100.1 L349.7 100 L350.7 99.9 L351.7 99.9 L352.6 99.8 L353.6 99.8 L354.6 99.7 L355.6 99.6 L356.6 99.6 L357.6 99.5 L358.6 99.4 L359.5 99.4 L360.5 99.3 L361.5 99.3 L362.5 99.2 L363.5 99.1 L364.5 99.1 L365.5 99 L366.4 98.9 L367.4 98.9 L368.4 98.8 L369.4 98.7 L370.4 98.7 L371.4 98.6 L372.4 98.5 L373.3 98.5 L374.3 98.4 L375.3 98.4 L376.3 98.3 L377.3 98.3 L378.3 98.2 L379.3 98.2 L380.2 98.1 L381.2 98.1 L382.2 98 L383.2 98 L384.2 97.9 L385.2 97.9 L386.2 97.9 L387.1 97.9 L388.1 97.8 L389.1 97.8 L390.1 97.8 L391.1 97.8 L392.1 97.8 L393.1 97.8 L394 97.8 L395 97.8 L396 97.8 L397 97.8 L398 97.8 L399 97.8 L400 97.8 L400.9 97.8 L401.9 97.8 L402.9 97.8 L403.9 97.7 L404.9 97.7 L405.9 97.7 L406.9 97.7 L407.8 97.7 L408.8 97.7 L409.8 97.6 L410.8 97.6 L411.8 97.5 L412.8 97.5 L413.8 97.4 L414.7 97.3 L415.7 97.3 L416.7 97.2 L417.7 97.1 L418.7 97.1 L419.7 97 L420.7 96.9 L421.6 96.9 L422.6 96.8 L423.6 96.7 L424.6 96.7 L425.6 96.7 L426.6 96.7 L427.6 96.6 L428.5 96.6 L429.5 96.6 L430.5 96.6 L431.5 96.6 L432.5 96.7 L433.5 96.7 L434.5 96.7 L435.4 96.7 L436.4 96.7 L437.4 96.7 L438.4 96.7 L439.4 96.7 L440.4 96.7 L441.4 96.7 L442.3 96.7 L443.3 96.7 L444.3 96.7 L445.3 96.7 L446.3 96.7 L447.3 96.7 L448.3 96.6 L449.2 96.6 L450.2 96.6 L451.2 96.6 L452.2 96.6 L453.2 96.5 L454.2 96.5 L455.2 96.5 L456.1 96.5 L457.1 96.4 L458.1 96.4 L459.1 96.4 L460.1 96.4 L461.1 96.3 L462.1 96.3 L463 96.3 L464 96.3 L465 96.2 L466 96.2 L467 96.2 L468 96.2 L468.9 96.1 L469.9 96.1 L470.9 96.1 L471.9 96.1 L472.9 96 L473.9 96 L474.9 96 L475.8 96 L476.8 96 L477.8 95.9 L478.8 95.9 L479.8 95.9 L480.8 95.9 L481.8 95.9 L482.7 95.9 L483.7 95.9 L484.7 95.8 L485.7 95.8 L486.7 95.8 L487.7 95.8 L488.7 95.8 L489.6 95.8 L490.6 95.8 L491.6 95.8 L492.6 95.8 L493.6 95.7 L494.6 95.7 L495.6 95.7 L496.5 95.7 L497.5 95.7 L498.5 95.7 L499.5 95.6 L500.5 95.6 L501.5 95.6 L502.5 95.6 L503.4 95.5 L504.4 95.5 L505.4 95.5 L506.4 95.4 L507.4 95.4 L508.4 95.4 L509.4 95.4 L510.3 95.3 L511.3 95.3 L512.3 95.3 L513.3 95.2 L514.3 95.2 L515.3 95.2 L516.3 95.1 L517.2 95.1 L518.2 95.1 L519.2 95 L520.2 95 L521.2 94.9 L522.2 94.9 L523.2 94.9 L524.1 94.8 L525.1 94.8 L526.1 94.8 L527.1 94.7 L528.1 94.7 L529.1 94.7 L530.1 94.6 L531 94.6 L532 94.6 L533 94.5 L534 94.5 L535 94.5 L536 94.4 L537 94.4 L537.9 94.4 L538.9 94.4 L539.9 94.3 L540.9 94.3 L541.9 94.3 L542.9 94.2 L543.9 94.2 L544.8 94.2 L545.8 94.2 L546.8 94.1 L547.8 94.1 L548.8 94.1 L549.8 94 L550.8 94 L551.7 94 L552.7 94 L553.7 94 L554.7 93.9 L555.7 93.9 L556.7 93.9 L557.7 93.9 L558.6 93.8 L559.6 93.8 L560.6 93.8 L561.6 93.8 L562.6 93.8 L563.6 93.7 L564.6 93.7 L565.5 93.7 L566.5 93.7 L567.5 93.7 L568.5 93.6 L569.5 93.6 L570.5 93.6 L571.5 93.6 L572.4 93.6 L573.4 93.6 L574.4 93.6 L575.4 93.5 L576.4 93.5 L577.4 93.5 L578.4 93.5 L579.3 93.5 L580.3 93.5 L581.3 93.5 L582.3 93.5 L583.3 93.4 L584.3 93.4 L585.3 93.4 L586.2 93.4 L587.2 93.4 L588.2 93.4 L589.2 93.4 L590.2 93.4 L591.2 93.4 L592.2 93.4 L593.1 93.4 L594.1 93.4 L595.1 93.3 L596.1 93.3 L597.1 93.3 L598.1 93.3 L599.1 93.3 L600 93.3 L601 93.3 L602 93.3 L603 93.3 L604 93.3 L605 93.3 L606 93.3 L606.9 93.3 L607.9 93.3 L608.9 93.3 L609.9 93.3 L610.9 93.3 L611.9 93.3 L612.9 93.3 L613.8 93.3 L614.8 93.3 L615.8 93.3 L616.8 93.3 L617.8 93.3 L618.8 93.3 L619.8 93.3 L620.7 93.3 L621.7 93.3 L622.7 93.3 L623.7 93.3 L624.7 93.3 L625.7 93.3 L626.7 93.3 L627.6 93.3 L628.6 93.3 L629.6 93.3 L630.6 93.3 L631.6 93.3 L632.6 93.3 L633.6 93.3 L634.5 93.3 L635.5 93.3 L636.5 93.3 L637.5 93.3 L638.5 93.3 L639.5 93.3 L640.5 93.3 L641.4 93.3 L642.4 93.3 L643.4 93.3 L644.4 93.3 L645.4 93.3 L646.4 93.4 L647.4 93.4 L648.3 93.4 L649.3 93.4 L650.3 93.4 L651.3 93.4 L652.3 93.4 L653.3 93.4 L654.3 93.4 L655.2 93.4 L656.2 93.4 L657.2 93.4 L658.2 93.4 L659.2 93.4 L660.2 93.4 L661.2 93.4 L662.1 93.4 L663.1 93.4 L664.1 93.5 L665.1 93.5 L666.1 93.5 L667.1 93.5 L668.1 93.5 L669 93.5 L670 93.5 L671 93.5 L672 93.5" stroke="#ff00ff"/>
<path d="M82 93.5 L82.4 93.8 L82.8 94.2 L83.3 94.5 L83.7 94.9 L84.1 95.4 L84.5 96 L85 96.6 L85.4 97.3 L85.8 98.2 L86.2 99.2 L86.6 100.3 L87.1 101.6 L87.5 103 L87.9 104.7 L88.3 106.5 L88.8 108.5 L89.2 110.6 L89.6 112.9 L90 115.3 L90.4 117.9 L90.9 120.7 L91.3 123.5 L91.7 126.5 L92.1 129.6 L92.6 132.8 L93 136.1 L93.4 139.5 L93.8 143 L94.3 146.6 L94.7 150.2 L95.1 153.9 L95.5 157.7 L95.9 161.5 L96.4 165.3 L96.8 169.1 L97.2 173 L97.6 176.9 L98.1 180.7 L98.5 184.6 L98.9 188.4 L99.3 192.2 L99.7 195.9 L100.2 199.7 L100.6 203.3 L101 207 L101.4 210.5 L101.9 214 L102.3 217.4 L102.7 220.8 L103.1 224 L103.5 227.2 L104 230.3 L104.4 233.3 L104.8 236.3 L105.2 239.2 L105.7 242.1 L106.1 245 L106.5 247.9 L106.9 250.9 L107.3 253.8 L107.8 256.8 L108.2 259.8 L108.6 262.6 L109 265.4 L109.5 268.1 L109.9 270.6 L110.3 272.9 L110.7 275.1 L111.1 277 L111.6 278.8 L112 280.5 L112.4 282 L112.8 283.4 L113.3 284.8 L113.7 286 L114.1 287.2 L114.5 288.2 L114.9 289.2 L115.4 290 L115.8 290.7 L116.2 291.2 L116.6 291.6 L117.1 291.9 L117.5 292 L117.9 292 L118.3 291.8 L118.8 291.4 L119.2 291 L119.6 290.4 L120 289.7 L120.4 288.9 L120.9 288.1 L121.3 287.2 L121.7 286.2 L122.1 285.3 L122.6 284.3 L123 283.3 L123.4 282.2 L123.8 281.2 L124.2 280.1 L124.7 279 L125.1 277.8 L125.5 276.5 L125.9 275.1 L126.4 273.7 L126.8 272.1 L127.2 270.3 L127.6 268.5 L128 266.5 L128.5 264.3 L128.9 262.1 L129.3 259.7 L129.7 257.2 L130.2 254.5 L130.6 251.8 L131 248.9 L131.4 246 L131.8 242.9 L132.3 239.8 L132.7 236.5 L133.1 233.2 L133.5 229.9 L134 226.4 L134.4 223 L134.8 219.6 L135.2 216.1 L135.6 212.6 L136.1 209.2 L136.5 205.8 L136.9 202.5 L137.3 199.2 L137.8 196 L138.2 192.9 L138.6 189.9 L139 187 L139.5 184.2 L139.9 181.6 L140.3 179.2 L140.7 176.8 L141.1 174.5 L141.6 172.3 L142 170 L142.4 167.8 L142.8 165.5 L143.3 163.1 L143.7 160.8 L144.1 158.5 L144.5 156.1 L144.9 153.7 L145.4 151.4 L145.8 149 L146.2 146.6 L146.6 144.2 L147.1 141.8 L147.5 139.5 L147.9 137.2 L148.3 135 L148.7 132.8 L149.2 130.6 L149.6 128.6 L150 126.6 L150.4 124.6 L150.9 122.8 L151.3 121 L151.7 119.3 L152.1 117.7 L152.5 116.1 L153 114.7 L153.4 113.3 L153.8 112.1 L154.2 110.9 L154.7 109.7 L155.1 108.7 L155.5 107.7 L155.9 106.8 L156.3 105.9 L156.8 105.1 L157.2 104.4 L157.6 103.6 L158 103 L158.5 102.3 L158.9 101.7 L159.3 101.1 L159.7 100.6 L160.2 100.1 L160.6 99.7 L161 99.3 L161.4 98.9 L161.8 98.6 L162.3 98.3 L162.7 98 L163.1 97.8 L163.5 97.6 L164 97.5 L164.4 97.3 L164.8 97.3 L165.2 97.2 L165.6 97.1 L166.1 97.1 L166.5 97.1 L166.9 97.2 L167.3 97.2 L167.8 97.3 L168.2 97.3 L168.6 97.4 L169 97.5 L169.4 97.7 L169.9 97.8 L170.3 98 L170.7 98.1 L171.1 98.3 L171.6 98.5 L172 98.8 L172.4 99 L172.8 99.3 L173.2 99.6 L173.7 99.9 L174.1 100.2 L174.5 100.5 L174.9 100.8 L175.4 101.2 L175.8 101.5 L176.2 101.9 L176.6 102.3 L177 102.6 L177.5 103 L177.9 103.4 L178.3 103.7 L178.7 104.1 L179.2 104.5 L179.6 104.8 L180 105.2 L180.4 105.5 L180.8 105.9 L181.3 106.2 L181.7 106.5 L182.1 106.9 L182.5 107.2 L183 107.5 L183.4 107.8 L183.8 108.1 L184.2 108.4 L184.7 108.8 L185.1 109.1 L185.5 109.4 L185.9 109.6 L186.3 109.9 L186.8 110.2 L187.2 110.5 L187.6 110.8 L188 111.1 L188.5 111.4 L188.9 111.7 L189.3 112 L189.7 112.2 L190.1 112.5 L190.6 112.8 L191 113.1 L191.4 113.3 L191.8 113.6 L192.3 113.8 L192.7 114.1 L193.1 114.3 L193.5 114.5 L193.9 114.7 L194.4 114.9 L194.8 115.1 L195.2 115.3 L195.6 115.5 L196.1 115.6 L196.5 115.8 L196.9 115.9 L197.3 116 L197.7 116.1 L198.2 116.2 L198.6 116.3 L199 116.4 L199.4 116.5 L199.9 116.6 L200.3 116.6 L200.7 116.7 L201.1 116.8 L201.5 116.9 L202 117 L202.4 117 L202.8 117.1 L203.2 117.2 L203.7 117.2 L204.1 117.3 L204.5 117.4 L204.9 117.4 L205.4 117.5 L205.8 117.5 L206.2 117.5 L206.6 117.6 L207 117.6 L207.5 117.6 L207.9 117.7 L208.3 117.7 L208.7 117.7 L209.2 117.7 L209.6 117.7 L210 117.7 L210.4 117.7 L210.8 117.7 L211.3 117.7 L211.7 117.7 L212.1 117.7 L212.5 117.7 L213 117.7 L213.4 117.7 L213.8 117.7 L214.2 117.6 L214.6 117.6 L215.1 117.6 L215.5 117.6 L215.9 117.5 L216.3 117.5 L216.8 117.4 L217.2 117.4 L217.6 117.3 L218 117.3 L218.4 117.2 L218.9 117.1 L219.3 117.1 L219.7 117 L220.1 116.9 L220.6 116.8 L221 116.7 L221.4 116.6 L221.8 116.5 L222.2 116.4 L222.7 116.2 L223.1 116.1 L223.5 116 L223.9 115.8 L224.4 115.6 L224.8 115.5 L225.2 115.3 L225.6 115.1 L226.1 115 L226.5 114.8 L226.9 114.6 L227.3 114.4 L227.7 114.2 L228.2 114 L228.6 113.8 L229 113.7 L229.4 113.5 L229.9 113.3 L230.3 113.1 L230.7 112.9 L231.1 112.7 L231.5 112.5 L232 112.3 L232.4 112.1 L232.8 112 L233.2 111.8 L233.7 111.5 L234.1 111.3 L234.5 111.1 L234.9 110.9 L235.3 110.7 L235.8 110.5 L236.2 110.2 L236.6 110 L237 109.7 L237.5 109.5 L237.9 109.2 L238.3 108.9 L238.7 108.6 L239.1 108.4 L239.6 108.1 L240 107.8 L240.4 107.5 L240.8 107.3 L241.3 107 L241.7 106.7 L242.1 106.5 L242.5 106.2 L242.9 106 L243.4 105.7 L243.8 105.5 L244.2 105.2 L244.6 105 L245.1 104.7 L245.5 104.5 L245.9 104.2 L246.3 104 L246.7 103.8 L247.2 103.5 L247.6 103.3 L248 103.1 L248.4 102.8 L248.9 102.6 L249.3 102.4 L249.7 102.1 L250.1 101.9 L250.6 101.7 L251 101.4 L251.4 101.2 L251.8 101 L252.2 100.7 L252.7 100.5 L253.1 100.3 L253.5 100.1 L253.9 99.9 L254.4 99.7 L254.8 99.5 L255.2 99.4 L255.6 99.2 L256 99.1 L256.5 98.9 L256.9 98.8 L257.3 98.6 L257.7 98.5 L258.2 98.3 L258.6 98.2 L259 98.1 L260 97.8 L261 97.5 L262 97.2 L262.9 96.9 L263.9 96.6 L264.9 96.4 L265.9 96.1 L266.9 96 L267.9 95.8 L268.9 95.7 L269.8 95.7 L270.8 95.7 L271.8 95.7 L272.8 95.7 L273.8 95.7 L274.8 95.8 L275.8 95.8 L276.7 95.9 L277.7 96 L278.7 96.1 L279.7 96.2 L280.7 96.4 L281.7 96.5 L282.7 96.7 L283.6 96.8 L284.6 97 L285.6 97.2 L286.6 97.4 L287.6 97.6 L288.6 97.8 L289.6 98 L290.5 98.2 L291.5 98.4 L292.5 98.6 L293.5 98.7 L294.5 98.8 L295.5 99 L296.5 99.1 L297.4 99.1 L298.4 99.2 L299.4 99.3 L300.4 99.4 L301.4 99.4 L302.4 99.4 L303.4 99.4 L304.3 99.4 L305.3 99.3 L306.3 99.2 L307.3 99.1 L308.3 99 L309.3 98.8 L310.3 98.7 L311.2 98.5 L312.2 98.3 L313.2 98.1 L314.2 97.9 L315.2 97.7 L316.2 97.5 L317.2 97.2 L318.1 97 L319.1 96.7 L320.1 96.5 L321.1 96.3 L322.1 96.1 L323.1 95.9 L324.1 95.7 L325 95.6 L326 95.4 L327 95.3 L328 95.2 L329 95.1 L330 95 L331 94.9 L331.9 94.8 L332.9 94.7 L333.9 94.6 L334.9 94.5 L335.9 94.5 L336.9 94.4 L337.9 94.3 L338.8 94.2 L339.8 94.2 L340.8 94.1 L341.8 94 L342.8 93.9 L343.8 93.9 L344.8 93.8 L345.7 93.8 L346.7 93.7 L347.7 93.7 L348.7 93.6 L349.7 93.6 L350.7 93.5 L351.7 93.5 L352.6 93.5 L353.6 93.4 L354.6 93.4 L355.6 93.4 L356.6 93.3 L357.6 93.3 L358.6 93.3 L359.5 93.3 L360.5 93.3 L361.5 93.2 L362.5 93.2 L363.5 93.2 L364.5 93.2 L365.5 93.2 L366.4 93.2 L367.4 93.1 L368.4 93.1 L369.4 93.1 L370.4 93.1 L371.4 93.1 L372.4 93.1 L373.3 93.1 L374.3 93.1 L375.3 93.1 L376.3 93 L377.3 93 L378.3 93 L379.3 93 L380.2 93 L381.2 93 L382.2 93 L383.2 93 L384.2 93 L385.2 93 L386.2 93 L387.1 93 L388.1 93 L389.1 93 L390.1 93 L391.1 93 L392.1 93 L393.1 93 L394 93 L395 93 L396 93 L397 93 L398 93 L399 93 L400 93 L400.9 93 L401.9 93 L402.9 93 L403.9 93 L404.9 93 L405.9 93 L406.9 93 L407.8 93 L408.8 93 L409.8 93 L410.8 93 L411.8 93 L412.8 93.1 L413.8 93.1 L414.7 93.1 L415.7 93.1 L416.7 93.1 L417.7 93.1 L418.7 93.1 L419.7 93.1 L420.7 93.1 L421.6 93.1 L422.6 93.1 L423.6 93.2 L424.6 93.2 L425.6 93.2 L426.6 93.2 L427.6 93.2 L428.5 93.2 L429.5 93.2 L430.5 93.2 L431.5 93.2 L432.5 93.2 L433.5 93.3 L434.5 93.3 L435.4 93.3 L436.4 93.3 L437.4 93.3 L438.4 93.3 L439.4 93.3 L440.4 93.3 L441.4 93.3 L442.3 93.3 L443.3 93.3 L444.3 93.4 L445.3 93.4 L446.3 93.4 L447.3 93.4 L448.3 93.4 L449.2 93.4 L450.2 93.4 L451.2 93.4 L452.2 93.4 L453.2 93.4 L454.2 93.4 L455.2 93.4 L456.1 93.5 L457.1 93.5 L458.1 93.5 L459.1 93.5 L460.1 93.5 L461.1 93.5 L462.1 93.5 L463 93.5 L464 93.5 L465 93.5 L466 93.5 L467 93.5 L468 93.5 L468.9 93.5 L469.9 93.5 L470.9 93.6 L471.9 93.6 L472.9 93.6 L473.9 93.6 L474.9 93.6 L475.8 93.6 L476.8 93.6 L477.8 93.6 L478.8 93.6 L479.8 93.6 L480.8 93.6 L481.8 93.6 L482.7 93.6 L483.7 93.6 L484.7 93.6 L485.7 93.6 L486.7 93.6 L487.7 93.6 L488.7 93.6 L489.6 93.6 L490.6 93.7 L491.6 93.7 L492.6 93.7 L493.6 93.7 L494.6 93.7 L495.6 93.7 L496.5 93.7 L497.5 93.7 L498.5 93.7 L499.5 93.7 L500.5 93.7 L501.5 93.7 L502.5 93.7 L503.4 93.7 L504.4 93.7 L505.4 93.7 L506.4 93.7 L507.4 93.7 L508.4 93.7 L509.4 93.7 L510.3 93.7 L511.3 93.7 L512.3 93.7 L513.3 93.7 L514.3 93.7 L515.3 93.7 L516.3 93.7 L517.2 93.7 L518.2 93.7 L519.2 93.7 L520.2 93.7 L521.2 93.7 L522.2 93.7 L523.2 93.7 L524.1 93.8 L525.1 93.8 L526.1 93.8 L527.1 93.8 L528.1 93.8 L529.1 93.8 L530.1 93.8 L531 93.8 L532 93.8 L533 93.8 L534 93.8 L535 93.8 L536 93.8 L537 93.8 L537.9 93.8 L538.9 93.8 L539.9 93.8 L540.9 93.8 L541.9 93.8 L542.9 93.8 L543.9 93.8 L544.8 93.8 L545.8 93.8 L546.8 93.8 L547.8 93.8 L548.8 93.8 L549.8 93.8 L550.8 93.8 L551.7 93.8 L552.7 93.8 L553.7 93.8 L554.7 93.8 L555.7 93.8 L556.7 93.8 L557.7 93.8 L558.6 93.8 L559.6 93.8 L560.6 93.8 L561.6 93.8 L562.6 93.8 L563.6 93.8 L564.6 93.8 L565.5 93.8 L566.5 93.8 L567.5 93.8 L568.5 93.8 L569.5 93.8 L570.5 93.8 L571.5 93.8 L572.4 93.8 L573.4 93.8 L574.4 93.8 L575.4 93.8 L576.4 93.8 L577.4 93.8 L578.4 93.8 L579.3 93.8 L580.3 93.8 L581.3 93.8 L582.3 93.7 L583.3 93.7 L584.3 93.7 L585.3 93.7 L586.2 93.7 L587.2 93.7 L588.2 93.7 L589.2 93.7 L590.2 93.7 L591.2 93.7 L592.2 93.7 L593.1 93.7 L594.1 93.7 L595.1 93.7 L596.1 93.7 L597.1 93.7 L598.1 93.7 L599.1 93.7 L600 93.7 L601 93.7 L602 93.7 L603 93.7 L604 93.7 L605 93.7 L606 93.7 L606.9 93.7 L607.9 93.7 L608.9 93.7 L609.9 93.7 L610.9 93.7 L611.9 93.7 L612.9 93.7 L613.8 93.7 L614.8 93.7 L615.8 93.7 L616.8 93.7 L617.8 93.7 L618.8 93.7 L619.8 93.7 L620.7 93.7 L621.7 93.7 L622.7 93.7 L623.7 93.7 L624.7 93.7 L625.7 93.6 L626.7 93.6 L627.6 93.6 L628.6 93.6 L629.6 93.6 L630.6 93.6 L631.6 93.6 L632.6 93.6 L633.6 93.6 L634.5 93.6 L635.5 93.6 L636.5 93.6 L637.5 93.6 L638.5 93.6 L639.5 93.6 L640.5 93.6 L641.4 93.6 L642.4 93.6 L643.4 93.6 L644.4 93.6 L645.4 93.6 L646.4 93.6 L647.4 93.6 L648.3 93.6 L649.3 93.6 L650.3 93.6 L651.3 93.6 L652.3 93.6 L653.3 93.6 L654.3 93.6 L655.2 93.6 L656.2 93.6 L657.2 93.6 L658.2 93.5 L659.2 93.5 L660.2 93.5 L661.2 93.5 L662.1 93.5 L663.1 93.5 L664.1 93.5 L665.1 93.5 L666.1 93.5 L667.1 93.5 L668.1 93.5 L669 93.5 L670 93.5 L671 93.5 L672 93.5" stroke="#000000"/>
<path d="M82 93.5 L82.4 94.6 L82.8 95.7 L83.3 96.8 L83.7 98 L84.1 99.2 L84.5 100.6 L85 102 L85.4 103.6 L85.8 105.4 L86.2 107.3 L86.6 109.3 L87.1 111.6 L87.5 114 L87.9 116.5 L88.3 119.2 L88.8 121.9 L89.2 124.8 L89.6 127.8 L90 130.8 L90.4 134 L90.9 137.2 L91.3 140.4 L91.7 143.7 L92.1 147.2 L92.6 150.9 L93 154.8 L93.4 159.1 L93.8 163.7 L94.3 168.8 L94.7 174.3 L95.1 180.4 L95.5 187.2 L95.9 194.3 L96.4 201.8 L96.8 209.4 L97.2 216.8 L97.6 223.8 L98.1 230.3 L98.5 236.3 L98.9 241.6 L99.3 246.5 L99.7 250.8 L100.2 254.8 L100.6 258.3 L101 261.6 L101.4 264.5 L101.9 267.2 L102.3 269.7 L102.7 272 L103.1 274.2 L103.5 276.3 L104 278.2 L104.4 280 L104.8 281.7 L105.2 283.2 L105.7 284.5 L106.1 285.6 L106.5 286.5 L106.9 287.2 L107.3 287.7 L107.8 287.9 L108.2 287.8 L108.6 287.5 L109 286.9 L109.5 286.1 L109.9 285.2 L110.3 284.1 L110.7 282.9 L111.1 281.7 L111.6 280.4 L112 279 L112.4 277.5 L112.8 275.9 L113.3 274.2 L113.7 272.3 L114.1 270.1 L114.5 267.8 L114.9 265.3 L115.4 262.6 L115.8 259.9 L116.2 257.2 L116.6 254.5 L117.1 251.8 L117.5 249.3 L117.9 246.9 L118.3 244.6 L118.8 242.4 L119.2 240.4 L119.6 238.4 L120 236.5 L120.4 234.6 L120.9 232.8 L121.3 231 L121.7 229.2 L122.1 227.5 L122.6 225.7 L123 223.9 L123.4 222.1 L123.8 220.4 L124.2 218.6 L124.7 216.8 L125.1 215.1 L125.5 213.4 L125.9 211.7 L126.4 210 L126.8 208.3 L127.2 206.7 L127.6 205.1 L128 203.5 L128.5 202 L128.9 200.5 L129.3 199 L129.7 197.6 L130.2 196.2 L130.6 194.8 L131 193.5 L131.4 192.3 L131.8 191.1 L132.3 189.9 L132.7 188.8 L133.1 187.7 L133.5 186.7 L134 185.8 L134.4 184.9 L134.8 184.1 L135.2 183.3 L135.6 182.6 L136.1 181.9 L136.5 181.3 L136.9 180.8 L137.3 180.2 L137.8 179.8 L138.2 179.3 L138.6 178.9 L139 178.4 L139.5 178 L139.9 177.6 L140.3 177.1 L140.7 176.6 L141.1 176.1 L141.6 175.5 L142 175 L142.4 174.4 L142.8 173.9 L143.3 173.3 L143.7 172.7 L144.1 172.1 L144.5 171.5 L144.9 170.8 L145.4 170.2 L145.8 169.6 L146.2 169 L146.6 168.3 L147.1 167.7 L147.5 167 L147.9 166.4 L148.3 165.7 L148.7 164.9 L149.2 164.2 L149.6 163.4 L150 162.6 L150.4 161.8 L150.9 160.9 L151.3 160 L151.7 159.1 L152.1 158.1 L152.5 157.2 L153 156.2 L153.4 155.2 L153.8 154.2 L154.2 153.2 L154.7 152.2 L155.1 151.2 L155.5 150.3 L155.9 149.3 L156.3 148.3 L156.8 147.3 L157.2 146.3 L157.6 145.3 L158 144.3 L158.5 143.2 L158.9 142.1 L159.3 141 L159.7 139.9 L160.2 138.7 L160.6 137.5 L161 136.4 L161.4 135.2 L161.8 134 L162.3 132.9 L162.7 131.7 L163.1 130.6 L163.5 129.5 L164 128.4 L164.4 127.3 L164.8 126.3 L165.2 125.3 L165.6 124.4 L166.1 123.5 L166.5 122.6 L166.9 121.8 L167.3 121.1 L167.8 120.3 L168.2 119.6 L168.6 119 L169 118.3 L169.4 117.7 L169.9 117.1 L170.3 116.6 L170.7 116 L171.1 115.5 L171.6 114.9 L172 114.4 L172.4 113.9 L172.8 113.3 L173.2 112.8 L173.7 112.3 L174.1 111.9 L174.5 111.4 L174.9 110.9 L175.4 110.5 L175.8 110.1 L176.2 109.6 L176.6 109.2 L177 108.8 L177.5 108.4 L177.9 108.1 L178.3 107.7 L178.7 107.4 L179.2 107 L179.6 106.7 L180 106.4 L180.4 106.1 L180.8 105.8 L181.3 105.5 L181.7 105.2 L182.1 104.9 L182.5 104.6 L183 104.3 L183.4 104.1 L183.8 103.8 L184.2 103.5 L184.7 103.2 L185.1 103 L185.5 102.7 L185.9 102.4 L186.3 102.2 L186.8 102 L187.2 101.7 L187.6 101.5 L188 101.3 L188.5 101.1 L188.9 100.9 L189.3 100.7 L189.7 100.5 L190.1 100.3 L190.6 100.2 L191 100 L191.4 99.8 L191.8 99.7 L192.3 99.5 L192.7 99.4 L193.1 99.2 L193.5 99 L193.9 98.9 L194.4 98.7 L194.8 98.5 L195.2 98.4 L195.6 98.2 L196.1 98 L196.5 97.9 L196.9 97.7 L197.3 97.5 L197.7 97.3 L198.2 97.1 L198.6 97 L199 96.8 L199.4 96.6 L199.9 96.4 L200.3 96.2 L200.7 96 L201.1 95.8 L201.5 95.7 L202 95.5 L202.4 95.3 L202.8 95.1 L203.2 94.9 L203.7 94.8 L204.1 94.6 L204.5 94.5 L204.9 94.3 L205.4 94.2 L205.8 94.1 L206.2 93.9 L206.6 93.8 L207 93.7 L207.5 93.6 L207.9 93.5 L208.3 93.5 L208.7 93.4 L209.2 93.3 L209.6 93.2 L210 93.1 L210.4 93.1 L210.8 93 L211.3 92.9 L211.7 92.9 L212.1 92.8 L212.5 92.7 L213 92.6 L213.4 92.6 L213.8 92.5 L214.2 92.5 L214.6 92.4 L215.1 92.3 L215.5 92.3 L215.9 92.2 L216.3 92.2 L216.8 92.1 L217.2 92.1 L217.6 92 L218 92 L218.4 92 L218.9 91.9 L219.3 91.9 L219.7 91.9 L220.1 91.9 L220.6 91.8 L221 91.8 L221.4 91.8 L221.8 91.8 L222.2 91.8 L222.7 91.8 L223.1 91.8 L223.5 91.8 L223.9 91.8 L224.4 91.8 L224.8 91.8 L225.2 91.8 L225.6 91.8 L226.1 91.8 L226.5 91.8 L226.9 91.8 L227.3 91.9 L227.7 91.9 L228.2 91.9 L228.6 91.9 L229 91.9 L229.4 91.9 L229.9 92 L230.3 92 L230.7 92 L231.1 92 L231.5 92.1 L232 92.1 L232.4 92.1 L232.8 92.1 L233.2 92.1 L233.7 92.2 L234.1 92.2 L234.5 92.2 L234.9 92.2 L235.3 92.3 L235.8 92.3 L236.2 92.3 L236.6 92.3 L237 92.4 L237.5 92.4 L237.9 92.4 L238.3 92.4 L238.7 92.5 L239.1 92.5 L239.6 92.5 L240 92.5 L240.4 92.5 L240.8 92.6 L241.3 92.6 L241.7 92.6 L242.1 92.6 L242.5 92.6 L242.9 92.6 L243.4 92.7 L243.8 92.7 L244.2 92.7 L244.6 92.7 L245.1 92.7 L245.5 92.7 L245.9 92.7 L246.3 92.7 L246.7 92.7 L247.2 92.8 L247.6 92.8 L248 92.8 L248.4 92.8 L248.9 92.8 L249.3 92.8 L249.7 92.8 L250.1 92.8 L250.6 92.8 L251 92.8 L251.4 92.8 L251.8 92.8 L252.2 92.8 L252.7 92.8 L253.1 92.9 L253.5 92.9 L253.9 92.9 L254.4 92.9 L254.8 92.9 L255.2 92.9 L255.6 92.9 L256 92.9 L256.5 92.9 L256.9 92.9 L257.3 93 L257.7 93 L258.2 93 L258.6 93 L259 93 L260 93 L261 93.1 L262 93.1 L262.9 93.1 L263.9 93.1 L264.9 93.1 L265.9 93.2 L266.9 93.2 L267.9 93.2 L268.9 93.2 L269.8 93.2 L270.8 93.2 L271.8 93.2 L272.8 93.2 L273.8 93.1 L274.8 93.1 L275.8 93.1 L276.7 93.1 L277.7 93.1 L278.7 93.1 L279.7 93.1 L280.7 93 L281.7 93 L282.7 93 L283.6 93 L284.6 93 L285.6 93 L286.6 92.9 L287.6 92.9 L288.6 92.9 L289.6 92.9 L290.5 92.9 L291.5 92.9 L292.5 92.9 L293.5 92.9 L294.5 92.9 L295.5 92.8 L296.5 92.8 L297.4 92.8 L298.4 92.8 L299.4 92.8 L300.4 92.7 L301.4 92.7 L302.4 92.7 L303.4 92.7 L304.3 92.6 L305.3 92.6 L306.3 92.5 L307.3 92.5 L308.3 92.4 L309.3 92.4 L310.3 92.3 L311.2 92.2 L312.2 92.2 L313.2 92.1 L314.2 92 L315.2 91.9 L316.2 91.8 L317.2 91.8 L318.1 91.7 L319.1 91.6 L320.1 91.5 L321.1 91.4 L322.1 91.3 L323.1 91.2 L324.1 91.2 L325 91.1 L326 91 L327 91 L328 90.9 L329 90.8 L330 90.8 L331 90.7 L331.9 90.6 L332.9 90.6 L333.9 90.5 L334.9 90.5 L335.9 90.4 L336.9 90.4 L337.9 90.3 L338.8 90.3 L339.8 90.2 L340.8 90.2 L341.8 90.1 L342.8 90.1 L343.8 90 L344.8 90 L345.7 90 L346.7 89.9 L347.7 89.9 L348.7 89.9 L349.7 89.8 L350.7 89.8 L351.7 89.8 L352.6 89.8 L353.6 89.7 L354.6 89.7 L355.6 89.7 L356.6 89.7 L357.6 89.6 L358.6 89.6 L359.5 89.6 L360.5 89.6 L361.5 89.6 L362.5 89.5 L363.5 89.5 L364.5 89.5 L365.5 89.5 L366.4 89.5 L367.4 89.5 L368.4 89.4 L369.4 89.4 L370.4 89.4 L371.4 89.4 L372.4 89.4 L373.3 89.4 L374.3 89.4 L375.3 89.3 L376.3 89.3 L377.3 89.3 L378.3 89.3 L379.3 89.3 L380.2 89.3 L381.2 89.3 L382.2 89.3 L383.2 89.3 L384.2 89.3 L385.2 89.3 L386.2 89.2 L387.1 89.2 L388.1 89.2 L389.1 89.2 L390.1 89.2 L391.1 89.2 L392.1 89.2 L393.1 89.2 L394 89.2 L395 89.3 L396 89.3 L397 89.3 L398 89.3 L399 89.3 L400 89.3 L400.9 89.3 L401.9 89.3 L402.9 89.4 L403.9 89.4 L404.9 89.4 L405.9 89.5 L406.9 89.5 L407.8 89.5 L408.8 89.6 L409.8 89.6 L410.8 89.7 L411.8 89.7 L412.8 89.8 L413.8 89.8 L414.7 89.9 L415.7 90 L416.7 90 L417.7 90.1 L418.7 90.2 L419.7 90.2 L420.7 90.3 L421.6 90.4 L422.6 90.4 L423.6 90.4 L424.6 90.5 L425.6 90.5 L426.6 90.5 L427.6 90.5 L428.5 90.5 L429.5 90.5 L430.5 90.5 L431.5 90.5 L432.5 90.5 L433.5 90.5 L434.5 90.5 L435.4 90.5 L436.4 90.5 L437.4 90.5 L438.4 90.6 L439.4 90.6 L440.4 90.6 L441.4 90.7 L442.3 90.7 L443.3 90.7 L444.3 90.8 L445.3 90.8 L446.3 90.9 L447.3 90.9 L448.3 91 L449.2 91 L450.2 91.1 L451.2 91.2 L452.2 91.2 L453.2 91.3 L454.2 91.3 L455.2 91.4 L456.1 91.4 L457.1 91.5 L458.1 91.6 L459.1 91.6 L460.1 91.7 L461.1 91.7 L462.1 91.8 L463 91.8 L464 91.9 L465 91.9 L466 91.9 L467 92 L468 92 L468.9 92.1 L469.9 92.1 L470.9 92.1 L471.9 92.2 L472.9 92.2 L473.9 92.2 L474.9 92.2 L475.8 92.3 L476.8 92.3 L477.8 92.3 L478.8 92.3 L479.8 92.4 L480.8 92.4 L481.8 92.4 L482.7 92.4 L483.7 92.4 L484.7 92.4 L485.7 92.5 L486.7 92.5 L487.7 92.5 L488.7 92.5 L489.6 92.5 L490.6 92.5 L491.6 92.5 L492.6 92.5 L493.6 92.5 L494.6 92.5 L495.6 92.6 L496.5 92.6 L497.5 92.6 L498.5 92.6 L499.5 92.6 L500.5 92.6 L501.5 92.6 L502.5 92.6 L503.4 92.6 L504.4 92.6 L505.4 92.6 L506.4 92.6 L507.4 92.6 L508.4 92.6 L509.4 92.6 L510.3 92.6 L511.3 92.6 L512.3 92.6 L513.3 92.6 L514.3 92.6 L515.3 92.6 L516.3 92.6 L517.2 92.6 L518.2 92.6 L519.2 92.6 L520.2 92.6 L521.2 92.6 L522.2 92.7 L523.2 92.7 L524.1 92.7 L525.1 92.7 L526.1 92.7 L527.1 92.7 L528.1 92.7 L529.1 92.7 L530.1 92.7 L531 92.7 L532 92.7 L533 92.7 L534 92.7 L535 92.7 L536 92.7 L537 92.7 L537.9 92.7 L538.9 92.7 L539.9 92.7 L540.9 92.7 L541.9 92.7 L542.9 92.7 L543.9 92.7 L544.8 92.7 L545.8 92.7 L546.8 92.7 L547.8 92.8 L548.8 92.8 L549.8 92.8 L550.8 92.8 L551.7 92.8 L552.7 92.8 L553.7 92.8 L554.7 92.8 L555.7 92.8 L556.7 92.8 L557.7 92.8 L558.6 92.8 L559.6 92.8 L560.6 92.8 L561.6 92.8 L562.6 92.8 L563.6 92.8 L564.6 92.8 L565.5 92.8 L566.5 92.8 L567.5 92.8 L568.5 92.9 L569.5 92.9 L570.5 92.9 L571.5 92.9 L572.4 92.9 L573.4 92.9 L574.4 92.9 L575.4 92.9 L576.4 92.9 L577.4 92.9 L578.4 92.9 L579.3 92.9 L580.3 92.9 L581.3 92.9 L582.3 92.9 L583.3 92.9 L584.3 92.9 L585.3 92.9 L586.2 93 L587.2 93 L588.2 93 L589.2 93 L590.2 93 L591.2 93 L592.2 93 L593.1 93 L594.1 93 L595.1 93 L596.1 93 L597.1 93 L598.1 93 L599.1 93 L600 93 L601 93 L602 93 L603 93 L604 93.1 L605 93.1 L606 93.1 L606.9 93.1 L607.9 93.1 L608.9 93.1 L609.9 93.1 L610.9 93.1 L611.9 93.1 L612.9 93.1 L613.8 93.1 L614.8 93.1 L615.8 93.1 L616.8 93.1 L617.8 93.1 L618.8 93.1 L619.8 93.2 L620.7 93.2 L621.7 93.2 L622.7 93.2 L623.7 93.2 L624.7 93.2 L625.7 93.2 L626.7 93.2 L627.6 93.2 L628.6 93.2 L629.6 93.2 L630.6 93.2 L631.6 93.2 L632.6 93.2 L633.6 93.2 L634.5 93.2 L635.5 93.3 L636.5 93.3 L637.5 93.3 L638.5 93.3 L639.5 93.3 L640.5 93.3 L641.4 93.3 L642.4 93.3 L643.4 93.3 L644.4 93.3 L645.4 93.3 L646.4 93.3 L647.4 93.3 L648.3 93.3 L649.3 93.3 L650.3 93.4 L651.3 93.4 L652.3 93.4 L653.3 93.4 L654.3 93.4 L655.2 93.4 L656.2 93.4 L657.2 93.4 L658.2 93.4 L659.2 93.4 L660.2 93.4 L661.2 93.4 L662.1 93.4 L663.1 93.4 L664.1 93.4 L665.1 93.5 L666.1 93.5 L667.1 93.5 L668.1 93.5 L669 93.5 L670 93.5 L671 93.5 L672 93.5" stroke="#993300"/>
<path d="M82 93.5 L82.4 94.8 L82.8 96.1 L83.3 97.3 L83.7 98.5 L84.1 99.8 L84.5 101.4 L85 103.2 L85.4 105.4 L85.8 108 L86.2 110.9 L86.6 114.2 L87.1 117.8 L87.5 121.6 L87.9 125.5 L88.3 129.4 L88.8 133.1 L89.2 136.5 L89.6 139.4 L90 142.1 L90.4 144.8 L90.9 147.8 L91.3 151.5 L91.7 155.8 L92.1 160.6 L92.6 165.8 L93 171.3 L93.4 177 L93.8 182.7 L94.3 188.4 L94.7 194 L95.1 199.5 L95.5 204.7 L95.9 209.8 L96.4 214.5 L96.8 218.9 L97.2 222.8 L97.6 226.3 L98.1 229.3 L98.5 231.9 L98.9 234.2 L99.3 236.2 L99.7 238 L100.2 239.6 L100.6 241.2 L101 242.8 L101.4 244.4 L101.9 246 L102.3 247.5 L102.7 249 L103.1 250.3 L103.5 251.5 L104 252.5 L104.4 253.3 L104.8 253.8 L105.2 254.1 L105.7 254.1 L106.1 253.8 L106.5 253.3 L106.9 252.6 L107.3 251.7 L107.8 250.8 L108.2 249.7 L108.6 248.6 L109 247.5 L109.5 246.4 L109.9 245.4 L110.3 244.4 L110.7 243.5 L111.1 242.7 L111.6 241.8 L112 241.1 L112.4 240.3 L112.8 239.5 L113.3 238.8 L113.7 238 L114.1 237.2 L114.5 236.4 L114.9 235.5 L115.4 234.6 L115.8 233.8 L116.2 232.9 L116.6 232 L117.1 231.1 L117.5 230.2 L117.9 229.3 L118.3 228.5 L118.8 227.6 L119.2 226.8 L119.6 226 L120 225.2 L120.4 224.5 L120.9 223.8 L121.3 223.1 L121.7 222.5 L122.1 221.9 L122.6 221.3 L123 220.7 L123.4 220.2 L123.8 219.7 L124.2 219.2 L124.7 218.7 L125.1 218.3 L125.5 217.8 L125.9 217.4 L126.4 217 L126.8 216.7 L127.2 216.3 L127.6 216 L128 215.6 L128.5 215.3 L128.9 215 L129.3 214.7 L129.7 214.4 L130.2 214.1 L130.6 213.8 L131 213.5 L131.4 213.2 L131.8 212.8 L132.3 212.5 L132.7 212.1 L133.1 211.7 L133.5 211.2 L134 210.7 L134.4 210.2 L134.8 209.6 L135.2 209 L135.6 208.3 L136.1 207.6 L136.5 206.8 L136.9 205.9 L137.3 205.1 L137.8 204.2 L138.2 203.3 L138.6 202.3 L139 201.4 L139.5 200.5 L139.9 199.6 L140.3 198.8 L140.7 198 L141.1 197.3 L141.6 196.6 L142 196 L142.4 195.3 L142.8 194.6 L143.3 193.9 L143.7 193.1 L144.1 192.2 L144.5 191.1 L144.9 189.9 L145.4 188.5 L145.8 187 L146.2 185.3 L146.6 183.7 L147.1 182.2 L147.5 180.7 L147.9 179.4 L148.3 178.1 L148.7 177 L149.2 175.9 L149.6 174.9 L150 173.9 L150.4 173 L150.9 172.1 L151.3 171.3 L151.7 170.5 L152.1 169.7 L152.5 168.8 L153 168 L153.4 167.2 L153.8 166.3 L154.2 165.5 L154.7 164.6 L155.1 163.7 L155.5 162.7 L155.9 161.8 L156.3 160.8 L156.8 159.8 L157.2 158.8 L157.6 157.8 L158 156.8 L158.5 155.8 L158.9 154.8 L159.3 153.7 L159.7 152.7 L160.2 151.6 L160.6 150.5 L161 149.5 L161.4 148.4 L161.8 147.3 L162.3 146.3 L162.7 145.2 L163.1 144.2 L163.5 143.2 L164 142.2 L164.4 141.2 L164.8 140.2 L165.2 139.3 L165.6 138.3 L166.1 137.5 L166.5 136.6 L166.9 135.8 L167.3 135 L167.8 134.2 L168.2 133.5 L168.6 132.8 L169 132 L169.4 131.3 L169.9 130.6 L170.3 129.9 L170.7 129.1 L171.1 128.4 L171.6 127.6 L172 126.9 L172.4 126.1 L172.8 125.3 L173.2 124.5 L173.7 123.8 L174.1 123 L174.5 122.2 L174.9 121.5 L175.4 120.7 L175.8 120 L176.2 119.3 L176.6 118.6 L177 117.9 L177.5 117.3 L177.9 116.6 L178.3 115.9 L178.7 115.3 L179.2 114.7 L179.6 114 L180 113.4 L180.4 112.8 L180.8 112.2 L181.3 111.6 L181.7 111 L182.1 110.4 L182.5 109.8 L183 109.3 L183.4 108.7 L183.8 108.2 L184.2 107.6 L184.7 107.1 L185.1 106.6 L185.5 106 L185.9 105.5 L186.3 105 L186.8 104.5 L187.2 104.1 L187.6 103.6 L188 103.1 L188.5 102.6 L188.9 102.2 L189.3 101.7 L189.7 101.3 L190.1 100.8 L190.6 100.4 L191 100 L191.4 99.6 L191.8 99.2 L192.3 98.8 L192.7 98.4 L193.1 98.1 L193.5 97.7 L193.9 97.4 L194.4 97 L194.8 96.7 L195.2 96.4 L195.6 96 L196.1 95.7 L196.5 95.4 L196.9 95.1 L197.3 94.8 L197.7 94.5 L198.2 94.2 L198.6 93.9 L199 93.6 L199.4 93.3 L199.9 92.9 L200.3 92.6 L200.7 92.3 L201.1 92 L201.5 91.6 L202 91.3 L202.4 91 L202.8 90.6 L203.2 90.3 L203.7 90 L204.1 89.7 L204.5 89.4 L204.9 89.1 L205.4 88.8 L205.8 88.6 L206.2 88.3 L206.6 88.1 L207 87.9 L207.5 87.7 L207.9 87.4 L208.3 87.2 L208.7 87.1 L209.2 86.9 L209.6 86.7 L210 86.5 L210.4 86.4 L210.8 86.2 L211.3 86 L211.7 85.9 L212.1 85.7 L212.5 85.6 L213 85.5 L213.4 85.3 L213.8 85.2 L214.2 85 L214.6 84.9 L215.1 84.8 L215.5 84.7 L215.9 84.6 L216.3 84.5 L216.8 84.3 L217.2 84.2 L217.6 84.2 L218 84.1 L218.4 84 L218.9 83.9 L219.3 83.8 L219.7 83.7 L220.1 83.7 L220.6 83.6 L221 83.5 L221.4 83.5 L221.8 83.4 L222.2 83.4 L222.7 83.3 L223.1 83.3 L223.5 83.3 L223.9 83.2 L224.4 83.2 L224.8 83.2 L225.2 83.1 L225.6 83.1 L226.1 83.1 L226.5 83.1 L226.9 83.1 L227.3 83 L227.7 83 L228.2 83 L228.6 83 L229 83 L229.4 83 L229.9 83 L230.3 83 L230.7 83 L231.1 83 L231.5 83.1 L232 83.1 L232.4 83.1 L232.8 83.1 L233.2 83.1 L233.7 83.1 L234.1 83.2 L234.5 83.2 L234.9 83.2 L235.3 83.2 L235.8 83.3 L236.2 83.3 L236.6 83.3 L237 83.4 L237.5 83.4 L237.9 83.5 L238.3 83.5 L238.7 83.5 L239.1 83.6 L239.6 83.6 L240 83.7 L240.4 83.7 L240.8 83.8 L241.3 83.8 L241.7 83.9 L242.1 83.9 L242.5 84 L242.9 84.1 L243.4 84.1 L243.8 84.2 L244.2 84.2 L244.6 84.3 L245.1 84.4 L245.5 84.4 L245.9 84.5 L246.3 84.6 L246.7 84.6 L247.2 84.7 L247.6 84.8 L248 84.9 L248.4 84.9 L248.9 85 L249.3 85.1 L249.7 85.2 L250.1 85.3 L250.6 85.3 L251 85.4 L251.4 85.5 L251.8 85.6 L252.2 85.7 L252.7 85.8 L253.1 85.9 L253.5 86 L253.9 86.1 L254.4 86.1 L254.8 86.2 L255.2 86.3 L255.6 86.4 L256 86.5 L256.5 86.6 L256.9 86.7 L257.3 86.8 L257.7 86.9 L258.2 87 L258.6 87.1 L259 87.2 L260 87.4 L261 87.6 L262 87.8 L262.9 88 L263.9 88.2 L264.9 88.3 L265.9 88.5 L266.9 88.6 L267.9 88.7 L268.9 88.9 L269.8 89 L270.8 89.1 L271.8 89.2 L272.8 89.3 L273.8 89.4 L274.8 89.5 L275.8 89.5 L276.7 89.6 L277.7 89.7 L278.7 89.8 L279.7 89.8 L280.7 89.9 L281.7 89.9 L282.7 90 L283.6 90 L284.6 90.1 L285.6 90.1 L286.6 90.1 L287.6 90.2 L288.6 90.2 L289.6 90.2 L290.5 90.2 L291.5 90.2 L292.5 90.2 L293.5 90.2 L294.5 90.2 L295.5 90.1 L296.5 90.1 L297.4 90.1 L298.4 90 L299.4 90 L300.4 89.9 L301.4 89.9 L302.4 89.8 L303.4 89.7 L304.3 89.7 L305.3 89.6 L306.3 89.5 L307.3 89.4 L308.3 89.4 L309.3 89.3 L310.3 89.2 L311.2 89.1 L312.2 89 L313.2 88.9 L314.2 88.8 L315.2 88.7 L316.2 88.6 L317.2 88.5 L318.1 88.4 L319.1 88.3 L320.1 88.2 L321.1 88.1 L322.1 88 L323.1 87.9 L324.1 87.8 L325 87.7 L326 87.6 L327 87.4 L328 87.3 L329 87.2 L330 87.1 L331 87 L331.9 87 L332.9 86.9 L333.9 86.8 L334.9 86.7 L335.9 86.7 L336.9 86.6 L337.9 86.6 L338.8 86.5 L339.8 86.5 L340.8 86.4 L341.8 86.3 L342.8 86.2 L343.8 86.1 L344.8 86 L345.7 85.8 L346.7 85.7 L347.7 85.5 L348.7 85.3 L349.7 85.1 L350.7 84.9 L351.7 84.7 L352.6 84.6 L353.6 84.4 L354.6 84.3 L355.6 84.1 L356.6 84 L357.6 83.9 L358.6 83.8 L359.5 83.8 L360.5 83.7 L361.5 83.6 L362.5 83.6 L363.5 83.5 L364.5 83.4 L365.5 83.4 L366.4 83.3 L367.4 83.3 L368.4 83.2 L369.4 83.1 L370.4 83.1 L371.4 83 L372.4 83 L373.3 82.9 L374.3 82.9 L375.3 82.9 L376.3 82.8 L377.3 82.8 L378.3 82.8 L379.3 82.7 L380.2 82.7 L381.2 82.7 L382.2 82.7 L383.2 82.7 L384.2 82.7 L385.2 82.7 L386.2 82.7 L387.1 82.7 L388.1 82.8 L389.1 82.8 L390.1 82.8 L391.1 82.9 L392.1 82.9 L393.1 82.9 L394 83 L395 83 L396 83.1 L397 83.1 L398 83.2 L399 83.2 L400 83.3 L400.9 83.4 L401.9 83.4 L402.9 83.5 L403.9 83.6 L404.9 83.7 L405.9 83.7 L406.9 83.8 L407.8 83.9 L408.8 84 L409.8 84.1 L410.8 84.2 L411.8 84.3 L412.8 84.4 L413.8 84.6 L414.7 84.7 L415.7 84.8 L416.7 84.9 L417.7 85.1 L418.7 85.2 L419.7 85.3 L420.7 85.4 L421.6 85.5 L422.6 85.6 L423.6 85.7 L424.6 85.7 L425.6 85.8 L426.6 85.8 L427.6 85.9 L428.5 85.9 L429.5 86 L430.5 86 L431.5 86.1 L432.5 86.1 L433.5 86.2 L434.5 86.3 L435.4 86.4 L436.4 86.5 L437.4 86.6 L438.4 86.7 L439.4 86.9 L440.4 87 L441.4 87.1 L442.3 87.3 L443.3 87.4 L444.3 87.6 L445.3 87.7 L446.3 87.8 L447.3 88 L448.3 88.1 L449.2 88.2 L450.2 88.4 L451.2 88.5 L452.2 88.6 L453.2 88.8 L454.2 88.9 L455.2 89 L456.1 89.1 L457.1 89.2 L458.1 89.3 L459.1 89.4 L460.1 89.5 L461.1 89.6 L462.1 89.7 L463 89.8 L464 89.9 L465 90 L466 90.1 L467 90.2 L468 90.3 L468.9 90.4 L469.9 90.5 L470.9 90.6 L471.9 90.7 L472.9 90.8 L473.9 90.9 L474.9 91 L475.8 91.1 L476.8 91.2 L477.8 91.3 L478.8 91.4 L479.8 91.5 L480.8 91.6 L481.8 91.7 L482.7 91.8 L483.7 92 L484.7 92.1 L485.7 92.2 L486.7 92.3 L487.7 92.4 L488.7 92.6 L489.6 92.7 L490.6 92.8 L491.6 92.9 L492.6 93.1 L493.6 93.2 L494.6 93.3 L495.6 93.5 L496.5 93.6 L497.5 93.8 L498.5 93.9 L499.5 94 L500.5 94.2 L501.5 94.3 L502.5 94.4 L503.4 94.6 L504.4 94.7 L505.4 94.8 L506.4 94.9 L507.4 95.1 L508.4 95.2 L509.4 95.3 L510.3 95.4 L511.3 95.5 L512.3 95.6 L513.3 95.7 L514.3 95.8 L515.3 95.8 L516.3 95.9 L517.2 96 L518.2 96.1 L519.2 96.1 L520.2 96.2 L521.2 96.2 L522.2 96.2 L523.2 96.3 L524.1 96.3 L525.1 96.3 L526.1 96.3 L527.1 96.3 L528.1 96.3 L529.1 96.3 L530.1 96.3 L531 96.3 L532 96.3 L533 96.3 L534 96.3 L535 96.3 L536 96.3 L537 96.3 L537.9 96.3 L538.9 96.3 L539.9 96.3 L540.9 96.3 L541.9 96.3 L542.9 96.3 L543.9 96.3 L544.8 96.2 L545.8 96.2 L546.8 96.2 L547.8 96.2 L548.8 96.2 L549.8 96.2 L550.8 96.2 L551.7 96.2 L552.7 96.1 L553.7 96.1 L554.7 96.1 L555.7 96.1 L556.7 96.1 L557.7 96 L558.6 96 L559.6 96 L560.6 95.9 L561.6 95.9 L562.6 95.9 L563.6 95.8 L564.6 95.8 L565.5 95.7 L566.5 95.7 L567.5 95.7 L568.5 95.6 L569.5 95.6 L570.5 95.6 L571.5 95.5 L572.4 95.5 L573.4 95.5 L574.4 95.5 L575.4 95.4 L576.4 95.4 L577.4 95.4 L578.4 95.4 L579.3 95.4 L580.3 95.4 L581.3 95.4 L582.3 95.3 L583.3 95.3 L584.3 95.3 L585.3 95.3 L586.2 95.3 L587.2 95.3 L588.2 95.3 L589.2 95.3 L590.2 95.3 L591.2 95.3 L592.2 95.3 L593.1 95.3 L594.1 95.3 L595.1 95.3 L596.1 95.3 L597.1 95.3 L598.1 95.4 L599.1 95.4 L600 95.4 L601 95.4 L602 95.4 L603 95.3 L604 95.3 L605 95.3 L606 95.3 L606.9 95.3 L607.9 95.3 L608.9 95.3 L609.9 95.3 L610.9 95.3 L611.9 95.3 L612.9 95.2 L613.8 95.2 L614.8 95.2 L615.8 95.2 L616.8 95.1 L617.8 95.1 L618.8 95.1 L619.8 95 L620.7 95 L621.7 94.9 L622.7 94.9 L623.7 94.8 L624.7 94.8 L625.7 94.7 L626.7 94.7 L627.6 94.6 L628.6 94.6 L629.6 94.5 L630.6 94.5 L631.6 94.4 L632.6 94.4 L633.6 94.3 L634.5 94.3 L635.5 94.2 L636.5 94.2 L637.5 94.2 L638.5 94.1 L639.5 94.1 L640.5 94 L641.4 94 L642.4 93.9 L643.4 93.9 L644.4 93.9 L645.4 93.8 L646.4 93.8 L647.4 93.8 L648.3 93.8 L649.3 93.7 L650.3 93.7 L651.3 93.7 L652.3 93.7 L653.3 93.7 L654.3 93.6 L655.2 93.6 L656.2 93.6 L657.2 93.6 L658.2 93.6 L659.2 93.6 L660.2 93.6 L661.2 93.6 L662.1 93.6 L663.1 93.5 L664.1 93.5 L665.1 93.5 L666.1 93.5 L667.1 93.5 L668.1 93.5 L669 93.5 L670 93.5 L671 93.5 L672 93.5" stroke="#0000ff"/>
<path d="M82 93.5 L82.4 94 L82.8 94.5 L83.3 95 L83.7 95.5 L84.1 96.1 L84.5 96.6 L85 97.1 L85.4 97.6 L85.8 98.1 L86.2 98.7 L86.6 99.5 L87.1 100.5 L87.5 101.7 L87.9 103.2 L88.3 105 L88.8 107.1 L89.2 109.5 L89.6 112.1 L90 115 L90.4 118.1 L90.9 121.3 L91.3 124.6 L91.7 127.9 L92.1 131.1 L92.6 134.1 L93 136.9 L93.4 139.3 L93.8 141.5 L94.3 143.7 L94.7 145.9 L95.1 148.4 L95.5 151.3 L95.9 154.5 L96.4 158 L96.8 161.7 L97.2 165.6 L97.6 169.5 L98.1 173.5 L98.5 177.5 L98.9 181.4 L99.3 185.2 L99.7 188.9 L100.2 192.3 L100.6 195.7 L101 198.9 L101.4 201.9 L101.9 204.8 L102.3 207.6 L102.7 210.3 L103.1 212.7 L103.5 215.1 L104 217.3 L104.4 219.4 L104.8 221.4 L105.2 223.2 L105.7 224.9 L106.1 226.5 L106.5 227.9 L106.9 229.2 L107.3 230.4 L107.8 231.5 L108.2 232.5 L108.6 233.4 L109 234.1 L109.5 234.8 L109.9 235.3 L110.3 235.8 L110.7 236.2 L111.1 236.4 L111.6 236.6 L112 236.7 L112.4 236.7 L112.8 236.7 L113.3 236.5 L113.7 236.3 L114.1 235.9 L114.5 235.5 L114.9 235 L115.4 234.3 L115.8 233.6 L116.2 232.8 L116.6 231.9 L117.1 230.8 L117.5 229.7 L117.9 228.4 L118.3 227.1 L118.8 225.6 L119.2 224 L119.6 222.4 L120 220.6 L120.4 218.8 L120.9 216.9 L121.3 215 L121.7 213.1 L122.1 211.2 L122.6 209.3 L123 207.5 L123.4 205.6 L123.8 203.9 L124.2 202.2 L124.7 200.6 L125.1 199.1 L125.5 197.6 L125.9 196.2 L126.4 194.9 L126.8 193.6 L127.2 192.3 L127.6 191 L128 189.8 L128.5 188.5 L128.9 187.3 L129.3 186 L129.7 184.8 L130.2 183.5 L130.6 182.2 L131 180.9 L131.4 179.5 L131.8 178.2 L132.3 176.7 L132.7 175.3 L133.1 173.9 L133.5 172.5 L134 171 L134.4 169.6 L134.8 168.2 L135.2 166.8 L135.6 165.4 L136.1 164 L136.5 162.7 L136.9 161.4 L137.3 160.2 L137.8 159 L138.2 157.9 L138.6 156.8 L139 155.8 L139.5 154.8 L139.9 154 L140.3 153.2 L140.7 152.5 L141.1 151.9 L141.6 151.3 L142 150.8 L142.4 150.3 L142.8 149.7 L143.3 149.2 L143.7 148.7 L144.1 148.1 L144.5 147.6 L144.9 147.1 L145.4 146.5 L145.8 146 L146.2 145.5 L146.6 144.9 L147.1 144.4 L147.5 143.9 L147.9 143.4 L148.3 142.9 L148.7 142.4 L149.2 141.9 L149.6 141.4 L150 140.9 L150.4 140.4 L150.9 140 L151.3 139.5 L151.7 139.1 L152.1 138.6 L152.5 138.2 L153 137.8 L153.4 137.3 L153.8 136.9 L154.2 136.5 L154.7 136.1 L155.1 135.7 L155.5 135.3 L155.9 135 L156.3 134.6 L156.8 134.2 L157.2 133.9 L157.6 133.5 L158 133.2 L158.5 132.8 L158.9 132.5 L159.3 132.2 L159.7 131.8 L160.2 131.5 L160.6 131.2 L161 130.9 L161.4 130.6 L161.8 130.3 L162.3 130 L162.7 129.7 L163.1 129.4 L163.5 129.2 L164 128.9 L164.4 128.6 L164.8 128.3 L165.2 128.1 L165.6 127.8 L166.1 127.6 L166.5 127.3 L166.9 127 L167.3 126.8 L167.8 126.5 L168.2 126.3 L168.6 126.1 L169 125.8 L169.4 125.6 L169.9 125.3 L170.3 125.1 L170.7 124.9 L171.1 124.6 L171.6 124.4 L172 124.2 L172.4 124 L172.8 123.7 L173.2 123.5 L173.7 123.3 L174.1 123.1 L174.5 122.9 L174.9 122.7 L175.4 122.5 L175.8 122.3 L176.2 122.1 L176.6 121.9 L177 121.7 L177.5 121.5 L177.9 121.3 L178.3 121.1 L178.7 120.9 L179.2 120.7 L179.6 120.6 L180 120.4 L180.4 120.2 L180.8 120.1 L181.3 119.9 L181.7 119.8 L182.1 119.6 L182.5 119.5 L183 119.4 L183.4 119.2 L183.8 119.1 L184.2 119 L184.7 118.9 L185.1 118.8 L185.5 118.7 L185.9 118.6 L186.3 118.5 L186.8 118.5 L187.2 118.4 L187.6 118.3 L188 118.3 L188.5 118.2 L188.9 118.2 L189.3 118.1 L189.7 118.1 L190.1 118 L190.6 118 L191 117.9 L191.4 117.9 L191.8 117.8 L192.3 117.8 L192.7 117.8 L193.1 117.7 L193.5 117.7 L193.9 117.7 L194.4 117.6 L194.8 117.6 L195.2 117.6 L195.6 117.5 L196.1 117.5 L196.5 117.4 L196.9 117.4 L197.3 117.3 L197.7 117.3 L198.2 117.2 L198.6 117.2 L199 117.1 L199.4 117 L199.9 117 L200.3 116.9 L200.7 116.8 L201.1 116.7 L201.5 116.6 L202 116.5 L202.4 116.4 L202.8 116.3 L203.2 116.2 L203.7 116.2 L204.1 116.1 L204.5 116 L204.9 115.9 L205.4 115.8 L205.8 115.7 L206.2 115.6 L206.6 115.6 L207 115.5 L207.5 115.4 L207.9 115.3 L208.3 115.3 L208.7 115.2 L209.2 115.1 L209.6 115.1 L210 115 L210.4 115 L210.8 114.9 L211.3 114.8 L211.7 114.8 L212.1 114.7 L212.5 114.7 L213 114.6 L213.4 114.6 L213.8 114.5 L214.2 114.4 L214.6 114.4 L215.1 114.3 L215.5 114.3 L215.9 114.2 L216.3 114.2 L216.8 114.1 L217.2 114 L217.6 114 L218 113.9 L218.4 113.9 L218.9 113.8 L219.3 113.7 L219.7 113.7 L220.1 113.6 L220.6 113.5 L221 113.5 L221.4 113.4 L221.8 113.3 L222.2 113.2 L222.7 113.2 L223.1 113.1 L223.5 113 L223.9 113 L224.4 112.9 L224.8 112.8 L225.2 112.7 L225.6 112.7 L226.1 112.6 L226.5 112.5 L226.9 112.4 L227.3 112.3 L227.7 112.3 L228.2 112.2 L228.6 112.1 L229 112 L229.4 111.9 L229.9 111.9 L230.3 111.8 L230.7 111.7 L231.1 111.6 L231.5 111.5 L232 111.5 L232.4 111.4 L232.8 111.3 L233.2 111.2 L233.7 111.1 L234.1 111.1 L234.5 111 L234.9 110.9 L235.3 110.8 L235.8 110.7 L236.2 110.7 L236.6 110.6 L237 110.5 L237.5 110.4 L237.9 110.4 L238.3 110.3 L238.7 110.2 L239.1 110.1 L239.6 110.1 L240 110 L240.4 109.9 L240.8 109.9 L241.3 109.8 L241.7 109.7 L242.1 109.7 L242.5 109.6 L242.9 109.5 L243.4 109.5 L243.8 109.4 L244.2 109.4 L244.6 109.3 L245.1 109.3 L245.5 109.2 L245.9 109.1 L246.3 109.1 L246.7 109 L247.2 109 L247.6 108.9 L248 108.9 L248.4 108.8 L248.9 108.8 L249.3 108.7 L249.7 108.7 L250.1 108.6 L250.6 108.6 L251 108.5 L251.4 108.5 L251.8 108.4 L252.2 108.4 L252.7 108.3 L253.1 108.3 L253.5 108.2 L253.9 108.2 L254.4 108.1 L254.8 108 L255.2 108 L255.6 107.9 L256 107.9 L256.5 107.8 L256.9 107.8 L257.3 107.7 L257.7 107.7 L258.2 107.6 L258.6 107.5 L259 107.5 L260 107.4 L261 107.2 L262 107.1 L262.9 107 L263.9 106.9 L264.9 106.8 L265.9 106.7 L266.9 106.6 L267.9 106.5 L268.9 106.4 L269.8 106.3 L270.8 106.1 L271.8 106 L272.8 105.9 L273.8 105.8 L274.8 105.7 L275.8 105.6 L276.7 105.5 L277.7 105.4 L278.7 105.2 L279.7 105.1 L280.7 105 L281.7 104.9 L282.7 104.8 L283.6 104.6 L284.6 104.5 L285.6 104.4 L286.6 104.3 L287.6 104.2 L288.6 104.1 L289.6 104 L290.5 103.9 L291.5 103.8 L292.5 103.7 L293.5 103.6 L294.5 103.5 L295.5 103.4 L296.5 103.3 L297.4 103.3 L298.4 103.2 L299.4 103.1 L300.4 103 L301.4 102.9 L302.4 102.8 L303.4 102.8 L304.3 102.7 L305.3 102.6 L306.3 102.5 L307.3 102.4 L308.3 102.4 L309.3 102.3 L310.3 102.2 L311.2 102.1 L312.2 102 L313.2 102 L314.2 101.9 L315.2 101.8 L316.2 101.7 L317.2 101.6 L318.1 101.6 L319.1 101.5 L320.1 101.4 L321.1 101.3 L322.1 101.3 L323.1 101.2 L324.1 101.1 L325 101.1 L326 101 L327 100.9 L328 100.9 L329 100.8 L330 100.7 L331 100.7 L331.9 100.6 L332.9 100.5 L333.9 100.4 L334.9 100.4 L335.9 100.3 L336.9 100.2 L337.9 100.1 L338.8 100 L339.8 99.9 L340.8 99.8 L341.8 99.7 L342.8 99.6 L343.8 99.5 L344.8 99.4 L345.7 99.3 L346.7 99.3 L347.7 99.2 L348.7 99.1 L349.7 99 L350.7 98.9 L351.7 98.8 L352.6 98.8 L353.6 98.7 L354.6 98.6 L355.6 98.5 L356.6 98.5 L357.6 98.4 L358.6 98.3 L359.5 98.3 L360.5 98.2 L361.5 98.1 L362.5 98.1 L363.5 98 L364.5 97.9 L365.5 97.9 L366.4 97.8 L367.4 97.8 L368.4 97.7 L369.4 97.7 L370.4 97.6 L371.4 97.6 L372.4 97.5 L373.3 97.5 L374.3 97.4 L375.3 97.4 L376.3 97.3 L377.3 97.3 L378.3 97.2 L379.3 97.2 L380.2 97.1 L381.2 97.1 L382.2 97 L383.2 97 L384.2 96.9 L385.2 96.9 L386.2 96.8 L387.1 96.8 L388.1 96.8 L389.1 96.7 L390.1 96.7 L391.1 96.6 L392.1 96.6 L393.1 96.5 L394 96.5 L395 96.4 L396 96.4 L397 96.3 L398 96.3 L399 96.2 L400 96.2 L400.9 96.1 L401.9 96.1 L402.9 96 L403.9 96 L404.9 95.9 L405.9 95.9 L406.9 95.8 L407.8 95.7 L408.8 95.7 L409.8 95.6 L410.8 95.6 L411.8 95.6 L412.8 95.5 L413.8 95.5 L414.7 95.4 L415.7 95.4 L416.7 95.4 L417.7 95.3 L418.7 95.3 L419.7 95.3 L420.7 95.3 L421.6 95.2 L422.6 95.2 L423.6 95.2 L424.6 95.2 L425.6 95.2 L426.6 95.2 L427.6 95.1 L428.5 95.1 L429.5 95.1 L430.5 95.1 L431.5 95.1 L432.5 95.1 L433.5 95.1 L434.5 95 L435.4 95 L436.4 95 L437.4 95 L438.4 95 L439.4 95 L440.4 95 L441.4 95 L442.3 94.9 L443.3 94.9 L444.3 94.9 L445.3 94.9 L446.3 94.9 L447.3 94.9 L448.3 94.9 L449.2 94.9 L450.2 94.9 L451.2 94.9 L452.2 94.9 L453.2 94.9 L454.2 94.8 L455.2 94.8 L456.1 94.8 L457.1 94.8 L458.1 94.8 L459.1 94.8 L460.1 94.8 L461.1 94.8 L462.1 94.8 L463 94.8 L464 94.8 L465 94.8 L466 94.8 L467 94.8 L468 94.8 L468.9 94.8 L469.9 94.8 L470.9 94.8 L471.9 94.8 L472.9 94.8 L473.9 94.8 L474.9 94.8 L475.8 94.8 L476.8 94.8 L477.8 94.8 L478.8 94.8 L479.8 94.8 L480.8 94.8 L481.8 94.8 L482.7 94.8 L483.7 94.8 L484.7 94.8 L485.7 94.8 L486.7 94.8 L487.7 94.8 L488.7 94.8 L489.6 94.8 L490.6 94.8 L491.6 94.8 L492.6 94.8 L493.6 94.8 L494.6 94.8 L495.6 94.8 L496.5 94.8 L497.5 94.8 L498.5 94.8 L499.5 94.8 L500.5 94.8 L501.5 94.8 L502.5 94.8 L503.4 94.8 L504.4 94.8 L505.4 94.8 L506.4 94.8 L507.4 94.8 L508.4 94.8 L509.4 94.8 L510.3 94.8 L511.3 94.8 L512.3 94.8 L513.3 94.8 L514.3 94.8 L515.3 94.8 L516.3 94.8 L517.2 94.8 L518.2 94.8 L519.2 94.8 L520.2 94.8 L521.2 94.7 L522.2 94.7 L523.2 94.7 L524.1 94.7 L525.1 94.7 L526.1 94.6 L527.1 94.6 L528.1 94.6 L529.1 94.6 L530.1 94.5 L531 94.5 L532 94.5 L533 94.5 L534 94.4 L535 94.4 L536 94.4 L537 94.4 L537.9 94.3 L538.9 94.3 L539.9 94.3 L540.9 94.2 L541.9 94.2 L542.9 94.2 L543.9 94.2 L544.8 94.1 L545.8 94.1 L546.8 94.1 L547.8 94 L548.8 94 L549.8 94 L550.8 93.9 L551.7 93.9 L552.7 93.9 L553.7 93.8 L554.7 93.8 L555.7 93.8 L556.7 93.8 L557.7 93.7 L558.6 93.7 L559.6 93.7 L560.6 93.6 L561.6 93.6 L562.6 93.6 L563.6 93.6 L564.6 93.5 L565.5 93.5 L566.5 93.5 L567.5 93.5 L568.5 93.4 L569.5 93.4 L570.5 93.4 L571.5 93.4 L572.4 93.3 L573.4 93.3 L574.4 93.3 L575.4 93.3 L576.4 93.3 L577.4 93.3 L578.4 93.2 L579.3 93.2 L580.3 93.2 L581.3 93.2 L582.3 93.2 L583.3 93.2 L584.3 93.1 L585.3 93.1 L586.2 93.1 L587.2 93.1 L588.2 93.1 L589.2 93.1 L590.2 93.1 L591.2 93.1 L592.2 93.1 L593.1 93.1 L594.1 93 L595.1 93 L596.1 93 L597.1 93 L598.1 93 L599.1 93 L600 93 L601 93 L602 93 L603 93 L604 93 L605 93 L606 93 L606.9 93 L607.9 93 L608.9 93 L609.9 93 L610.9 93 L611.9 93 L612.9 93 L613.8 93 L614.8 93 L615.8 93 L616.8 93 L617.8 93 L618.8 93 L619.8 93 L620.7 93 L621.7 93 L622.7 93 L623.7 93 L624.7 93 L625.7 93 L626.7 93 L627.6 93 L628.6 93 L629.6 93 L630.6 93.1 L631.6 93.1 L632.6 93.1 L633.6 93.1 L634.5 93.1 L635.5 93.1 L636.5 93.1 L637.5 93.1 L638.5 93.1 L639.5 93.1 L640.5 93.1 L641.4 93.1 L642.4 93.2 L643.4 93.2 L644.4 93.2 L645.4 93.2 L646.4 93.2 L647.4 93.2 L648.3 93.2 L649.3 93.2 L650.3 93.2 L651.3 93.2 L652.3 93.3 L653.3 93.3 L654.3 93.3 L655.2 93.3 L656.2 93.3 L657.2 93.3 L658.2 93.3 L659.2 93.3 L660.2 93.4 L661.2 93.4 L662.1 93.4 L663.1 93.4 L664.1 93.4 L665.1 93.4 L666.1 93.4 L667.1 93.4 L668.1 93.5 L669 93.5 L670 93.5 L671 93.5 L672 93.5" stroke="#ff0000"/>
<path d="M82 93.5 L82.4 94.2 L82.8 94.9 L83.3 95.6 L83.7 96.5 L84.1 97.6 L84.5 98.8 L85 100.2 L85.4 101.8 L85.8 103.7 L86.2 105.9 L86.6 108.2 L87.1 110.7 L87.5 113.5 L87.9 116.4 L88.3 119.4 L88.8 122.6 L89.2 125.8 L89.6 129 L90 132.2 L90.4 135.2 L90.9 138 L91.3 140.7 L91.7 143.4 L92.1 146.3 L92.6 149.6 L93 153.5 L93.4 157.9 L93.8 163 L94.3 168.7 L94.7 175.1 L95.1 182.3 L95.5 190.1 L95.9 198.3 L96.4 206.8 L96.8 215.3 L97.2 223.4 L97.6 230.9 L98.1 237.8 L98.5 244 L98.9 249.5 L99.3 254.4 L99.7 258.8 L100.2 262.8 L100.6 266.4 L101 269.8 L101.4 273.1 L101.9 276.4 L102.3 279.5 L102.7 282.6 L103.1 285.5 L103.5 288.2 L104 290.8 L104.4 293.2 L104.8 295.4 L105.2 297.3 L105.7 299 L106.1 300.4 L106.5 301.6 L106.9 302.4 L107.3 303 L107.8 303.2 L108.2 303.1 L108.6 302.6 L109 301.8 L109.5 300.7 L109.9 299.2 L110.3 297.4 L110.7 295.2 L111.1 292.7 L111.6 290.1 L112 287.4 L112.4 284.7 L112.8 282.1 L113.3 279.7 L113.7 277.4 L114.1 275.2 L114.5 272.8 L114.9 270.2 L115.4 267.3 L115.8 264.1 L116.2 260.7 L116.6 257.2 L117.1 253.6 L117.5 249.9 L117.9 246.3 L118.3 242.6 L118.8 238.9 L119.2 235.1 L119.6 231.4 L120 227.7 L120.4 224 L120.9 220.2 L121.3 216.5 L121.7 212.8 L122.1 209.2 L122.6 205.6 L123 202.1 L123.4 198.7 L123.8 195.4 L124.2 192.2 L124.7 189.1 L125.1 186.3 L125.5 183.6 L125.9 181 L126.4 178.7 L126.8 176.5 L127.2 174.5 L127.6 172.5 L128 170.6 L128.5 168.7 L128.9 166.9 L129.3 165.1 L129.7 163.5 L130.2 162 L130.6 160.7 L131 159.5 L131.4 158.5 L131.8 157.6 L132.3 156.8 L132.7 156.2 L133.1 155.6 L133.5 155.1 L134 154.7 L134.4 154.4 L134.8 154.1 L135.2 153.9 L135.6 153.8 L136.1 153.7 L136.5 153.7 L136.9 153.8 L137.3 153.9 L137.8 154.1 L138.2 154.3 L138.6 154.5 L139 154.8 L139.5 155.1 L139.9 155.4 L140.3 155.8 L140.7 156.1 L141.1 156.5 L141.6 156.8 L142 157.2 L142.4 157.6 L142.8 157.9 L143.3 158.2 L143.7 158.5 L144.1 158.9 L144.5 159.1 L144.9 159.4 L145.4 159.6 L145.8 159.8 L146.2 160 L146.6 160.1 L147.1 160.2 L147.5 160.3 L147.9 160.3 L148.3 160.3 L148.7 160.2 L149.2 160.1 L149.6 159.9 L150 159.7 L150.4 159.4 L150.9 159.1 L151.3 158.7 L151.7 158.2 L152.1 157.8 L152.5 157.2 L153 156.6 L153.4 155.9 L153.8 155.2 L154.2 154.5 L154.7 153.7 L155.1 153 L155.5 152.2 L155.9 151.4 L156.3 150.7 L156.8 150 L157.2 149.4 L157.6 148.7 L158 148 L158.5 147.2 L158.9 146.3 L159.3 145.3 L159.7 144.1 L160.2 142.8 L160.6 141.4 L161 140 L161.4 138.6 L161.8 137.2 L162.3 135.8 L162.7 134.5 L163.1 133.3 L163.5 132.1 L164 130.9 L164.4 129.8 L164.8 128.6 L165.2 127.5 L165.6 126.5 L166.1 125.4 L166.5 124.3 L166.9 123.2 L167.3 122.1 L167.8 121.1 L168.2 120 L168.6 119 L169 118 L169.4 117 L169.9 116 L170.3 115.1 L170.7 114.2 L171.1 113.4 L171.6 112.6 L172 111.8 L172.4 111.1 L172.8 110.4 L173.2 109.7 L173.7 109.1 L174.1 108.5 L174.5 108 L174.9 107.4 L175.4 106.9 L175.8 106.5 L176.2 106.1 L176.6 105.7 L177 105.3 L177.5 105 L177.9 104.7 L178.3 104.4 L178.7 104.1 L179.2 103.9 L179.6 103.7 L180 103.6 L180.4 103.4 L180.8 103.3 L181.3 103.2 L181.7 103.1 L182.1 103.1 L182.5 103 L183 103 L183.4 102.9 L183.8 102.9 L184.2 102.9 L184.7 102.9 L185.1 102.8 L185.5 102.8 L185.9 102.8 L186.3 102.8 L186.8 102.8 L187.2 102.8 L187.6 102.8 L188 102.8 L188.5 102.8 L188.9 102.8 L189.3 102.8 L189.7 102.8 L190.1 102.8 L190.6 102.8 L191 102.8 L191.4 102.8 L191.8 102.8 L192.3 102.8 L192.7 102.8 L193.1 102.8 L193.5 102.9 L193.9 102.9 L194.4 102.9 L194.8 102.9 L195.2 102.9 L195.6 102.9 L196.1 102.8 L196.5 102.8 L196.9 102.8 L197.3 102.7 L197.7 102.7 L198.2 102.6 L198.6 102.6 L199 102.5 L199.4 102.4 L199.9 102.3 L200.3 102.2 L200.7 102 L201.1 101.9 L201.5 101.7 L202 101.6 L202.4 101.4 L202.8 101.2 L203.2 101 L203.7 100.8 L204.1 100.7 L204.5 100.5 L204.9 100.3 L205.4 100.1 L205.8 100 L206.2 99.8 L206.6 99.6 L207 99.5 L207.5 99.3 L207.9 99.1 L208.3 99 L208.7 98.8 L209.2 98.7 L209.6 98.5 L210 98.3 L210.4 98.2 L210.8 98 L211.3 97.8 L211.7 97.7 L212.1 97.5 L212.5 97.3 L213 97.1 L213.4 97 L213.8 96.8 L214.2 96.6 L214.6 96.4 L215.1 96.2 L215.5 96.1 L215.9 95.9 L216.3 95.7 L216.8 95.6 L217.2 95.4 L217.6 95.3 L218 95.1 L218.4 95 L218.9 94.9 L219.3 94.8 L219.7 94.7 L220.1 94.6 L220.6 94.5 L221 94.4 L221.4 94.3 L221.8 94.2 L222.2 94.1 L222.7 94 L223.1 94 L223.5 93.9 L223.9 93.9 L224.4 93.8 L224.8 93.8 L225.2 93.7 L225.6 93.7 L226.1 93.7 L226.5 93.6 L226.9 93.6 L227.3 93.6 L227.7 93.6 L228.2 93.5 L228.6 93.5 L229 93.5 L229.4 93.5 L229.9 93.5 L230.3 93.5 L230.7 93.5 L231.1 93.5 L231.5 93.4 L232 93.4 L232.4 93.4 L232.8 93.4 L233.2 93.4 L233.7 93.4 L234.1 93.4 L234.5 93.4 L234.9 93.4 L235.3 93.4 L235.8 93.4 L236.2 93.4 L236.6 93.4 L237 93.4 L237.5 93.4 L237.9 93.4 L238.3 93.4 L238.7 93.4 L239.1 93.4 L239.6 93.4 L240 93.4 L240.4 93.4 L240.8 93.4 L241.3 93.4 L241.7 93.4 L242.1 93.4 L242.5 93.4 L242.9 93.4 L243.4 93.4 L243.8 93.4 L244.2 93.4 L244.6 93.4 L245.1 93.4 L245.5 93.4 L245.9 93.4 L246.3 93.5 L246.7 93.5 L247.2 93.5 L247.6 93.5 L248 93.5 L248.4 93.5 L248.9 93.5 L249.3 93.5 L249.7 93.5 L250.1 93.6 L250.6 93.6 L251 93.6 L251.4 93.6 L251.8 93.6 L252.2 93.6 L252.7 93.7 L253.1 93.7 L253.5 93.7 L253.9 93.7 L254.4 93.7 L254.8 93.7 L255.2 93.8 L255.6 93.8 L256 93.8 L256.5 93.8 L256.9 93.8 L257.3 93.9 L257.7 93.9 L258.2 93.9 L258.6 93.9 L259 93.9 L260 94 L261 94 L262 94.1 L262.9 94.1 L263.9 94.2 L264.9 94.2 L265.9 94.2 L266.9 94.3 L267.9 94.3 L268.9 94.3 L269.8 94.4 L270.8 94.4 L271.8 94.4 L272.8 94.4 L273.8 94.5 L274.8 94.5 L275.8 94.5 L276.7 94.5 L277.7 94.5 L278.7 94.5 L279.7 94.5 L280.7 94.5 L281.7 94.5 L282.7 94.6 L283.6 94.6 L284.6 94.6 L285.6 94.6 L286.6 94.6 L287.6 94.6 L288.6 94.6 L289.6 94.6 L290.5 94.6 L291.5 94.6 L292.5 94.6 L293.5 94.6 L294.5 94.6 L295.5 94.6 L296.5 94.6 L297.4 94.5 L298.4 94.5 L299.4 94.5 L300.4 94.5 L301.4 94.5 L302.4 94.5 L303.4 94.4 L304.3 94.4 L305.3 94.4 L306.3 94.3 L307.3 94.3 L308.3 94.3 L309.3 94.2 L310.3 94.2 L311.2 94.1 L312.2 94.1 L313.2 94 L314.2 94 L315.2 93.9 L316.2 93.8 L317.2 93.8 L318.1 93.7 L319.1 93.7 L320.1 93.6 L321.1 93.6 L322.1 93.5 L323.1 93.5 L324.1 93.4 L325 93.4 L326 93.3 L327 93.3 L328 93.2 L329 93.2 L330 93.2 L331 93.1 L331.9 93.1 L332.9 93 L333.9 93 L334.9 92.9 L335.9 92.9 L336.9 92.8 L337.9 92.8 L338.8 92.7 L339.8 92.7 L340.8 92.6 L341.8 92.5 L342.8 92.5 L343.8 92.4 L344.8 92.4 L345.7 92.3 L346.7 92.2 L347.7 92.2 L348.7 92.1 L349.7 92.1 L350.7 92 L351.7 91.9 L352.6 91.9 L353.6 91.8 L354.6 91.8 L355.6 91.7 L356.6 91.7 L357.6 91.6 L358.6 91.6 L359.5 91.5 L360.5 91.5 L361.5 91.4 L362.5 91.4 L363.5 91.4 L364.5 91.3 L365.5 91.3 L366.4 91.3 L367.4 91.2 L368.4 91.2 L369.4 91.2 L370.4 91.2 L371.4 91.2 L372.4 91.1 L373.3 91.1 L374.3 91.1 L375.3 91.1 L376.3 91.1 L377.3 91.1 L378.3 91.1 L379.3 91.1 L380.2 91.1 L381.2 91.1 L382.2 91.1 L383.2 91.1 L384.2 91.1 L385.2 91.1 L386.2 91.1 L387.1 91.1 L388.1 91.1 L389.1 91.1 L390.1 91.1 L391.1 91.1 L392.1 91.1 L393.1 91.1 L394 91.1 L395 91.1 L396 91.2 L397 91.2 L398 91.2 L399 91.2 L400 91.2 L400.9 91.2 L401.9 91.2 L402.9 91.2 L403.9 91.2 L404.9 91.3 L405.9 91.3 L406.9 91.3 L407.8 91.3 L408.8 91.3 L409.8 91.3 L410.8 91.4 L411.8 91.4 L412.8 91.4 L413.8 91.4 L414.7 91.4 L415.7 91.5 L416.7 91.5 L417.7 91.5 L418.7 91.5 L419.7 91.6 L420.7 91.6 L421.6 91.6 L422.6 91.7 L423.6 91.7 L424.6 91.7 L425.6 91.7 L426.6 91.8 L427.6 91.8 L428.5 91.9 L429.5 91.9 L430.5 91.9 L431.5 92 L432.5 92 L433.5 92 L434.5 92.1 L435.4 92.1 L436.4 92.2 L437.4 92.2 L438.4 92.2 L439.4 92.3 L440.4 92.3 L441.4 92.4 L442.3 92.4 L443.3 92.4 L444.3 92.5 L445.3 92.5 L446.3 92.6 L447.3 92.6 L448.3 92.6 L449.2 92.7 L450.2 92.7 L451.2 92.8 L452.2 92.8 L453.2 92.9 L454.2 92.9 L455.2 92.9 L456.1 93 L457.1 93 L458.1 93.1 L459.1 93.1 L460.1 93.1 L461.1 93.2 L462.1 93.2 L463 93.3 L464 93.3 L465 93.3 L466 93.4 L467 93.4 L468 93.4 L468.9 93.5 L469.9 93.5 L470.9 93.5 L471.9 93.6 L472.9 93.6 L473.9 93.6 L474.9 93.6 L475.8 93.7 L476.8 93.7 L477.8 93.7 L478.8 93.7 L479.8 93.8 L480.8 93.8 L481.8 93.8 L482.7 93.8 L483.7 93.8 L484.7 93.8 L485.7 93.8 L486.7 93.9 L487.7 93.9 L488.7 93.9 L489.6 93.9 L490.6 93.9 L491.6 93.9 L492.6 93.9 L493.6 93.9 L494.6 93.9 L495.6 93.9 L496.5 93.9 L497.5 93.8 L498.5 93.8 L499.5 93.8 L500.5 93.8 L501.5 93.8 L502.5 93.8 L503.4 93.7 L504.4 93.7 L505.4 93.7 L506.4 93.7 L507.4 93.6 L508.4 93.6 L509.4 93.6 L510.3 93.5 L511.3 93.5 L512.3 93.5 L513.3 93.4 L514.3 93.4 L515.3 93.4 L516.3 93.3 L517.2 93.3 L518.2 93.2 L519.2 93.2 L520.2 93.2 L521.2 93.1 L522.2 93.1 L523.2 93.1 L524.1 93 L525.1 93 L526.1 93 L527.1 92.9 L528.1 92.9 L529.1 92.9 L530.1 92.8 L531 92.8 L532 92.8 L533 92.8 L534 92.7 L535 92.7 L536 92.7 L537 92.7 L537.9 92.7 L538.9 92.7 L539.9 92.7 L540.9 92.7 L541.9 92.7 L542.9 92.7 L543.9 92.7 L544.8 92.7 L545.8 92.7 L546.8 92.7 L547.8 92.7 L548.8 92.7 L549.8 92.7 L550.8 92.7 L551.7 92.7 L552.7 92.7 L553.7 92.7 L554.7 92.8 L555.7 92.8 L556.7 92.8 L557.7 92.8 L558.6 92.8 L559.6 92.9 L560.6 92.9 L561.6 92.9 L562.6 92.9 L563.6 93 L564.6 93 L565.5 93 L566.5 93 L567.5 93.1 L568.5 93.1 L569.5 93.1 L570.5 93.2 L571.5 93.2 L572.4 93.2 L573.4 93.2 L574.4 93.3 L575.4 93.3 L576.4 93.3 L577.4 93.3 L578.4 93.4 L579.3 93.4 L580.3 93.4 L581.3 93.4 L582.3 93.5 L583.3 93.5 L584.3 93.5 L585.3 93.5 L586.2 93.6 L587.2 93.6 L588.2 93.6 L589.2 93.6 L590.2 93.6 L591.2 93.7 L592.2 93.7 L593.1 93.7 L594.1 93.7 L595.1 93.7 L596.1 93.7 L597.1 93.7 L598.1 93.8 L599.1 93.8 L600 93.8 L601 93.8 L602 93.8 L603 93.8 L604 93.8 L605 93.8 L606 93.8 L606.9 93.9 L607.9 93.9 L608.9 93.9 L609.9 93.9 L610.9 93.9 L611.9 93.9 L612.9 93.9 L613.8 93.9 L614.8 93.9 L615.8 93.9 L616.8 93.9 L617.8 93.9 L618.8 93.9 L619.8 93.9 L620.7 93.9 L621.7 93.9 L622.7 93.9 L623.7 93.9 L624.7 93.9 L625.7 93.9 L626.7 93.9 L627.6 93.9 L628.6 93.9 L629.6 93.9 L630.6 93.9 L631.6 93.9 L632.6 93.9 L633.6 93.9 L634.5 93.9 L635.5 93.9 L636.5 93.9 L637.5 93.8 L638.5 93.8 L639.5 93.8 L640.5 93.8 L641.4 93.8 L642.4 93.8 L643.4 93.8 L644.4 93.8 L645.4 93.8 L646.4 93.8 L647.4 93.8 L648.3 93.8 L649.3 93.7 L650.3 93.7 L651.3 93.7 L652.3 93.7 L653.3 93.7 L654.3 93.7 L655.2 93.7 L656.2 93.7 L657.2 93.7 L658.2 93.7 L659.2 93.6 L660.2 93.6 L661.2 93.6 L662.1 93.6 L663.1 93.6 L664.1 93.6 L665.1 93.6 L666.1 93.6 L667.1 93.6 L668.1 93.5 L669 93.5 L670 93.5 L671 93.5 L672 93.5" stroke="#6e4068"/>
<path d="M82 93.5 L82.4 93.9 L82.8 94.3 L83.3 94.7 L83.7 95.1 L84.1 95.5 L84.5 95.9 L85 96.3 L85.4 96.7 L85.8 97.1 L86.2 97.5 L86.6 97.9 L87.1 98.3 L87.5 98.7 L87.9 99.1 L88.3 99.5 L88.8 99.9 L89.2 100.3 L89.6 100.7 L90 101.2 L90.4 101.6 L90.9 102.1 L91.3 102.6 L91.7 103 L92.1 103.5 L92.6 104.1 L93 104.6 L93.4 105.1 L93.8 105.7 L94.3 106.2 L94.7 106.8 L95.1 107.3 L95.5 107.9 L95.9 108.4 L96.4 108.9 L96.8 109.5 L97.2 110 L97.6 110.5 L98.1 111 L98.5 111.5 L98.9 112 L99.3 112.5 L99.7 113 L100.2 113.5 L100.6 114.1 L101 114.7 L101.4 115.3 L101.9 115.9 L102.3 116.6 L102.7 117.4 L103.1 118.2 L103.5 119.1 L104 120 L104.4 121 L104.8 122 L105.2 123.1 L105.7 124.3 L106.1 125.5 L106.5 126.8 L106.9 128.1 L107.3 129.5 L107.8 131 L108.2 132.5 L108.6 134.1 L109 135.8 L109.5 137.5 L109.9 139.3 L110.3 141.2 L110.7 143.1 L111.1 145 L111.6 147 L112 149 L112.4 151 L112.8 152.9 L113.3 154.9 L113.7 156.9 L114.1 158.9 L114.5 160.9 L114.9 162.9 L115.4 164.8 L115.8 166.8 L116.2 168.8 L116.6 170.7 L117.1 172.7 L117.5 174.6 L117.9 176.6 L118.3 178.5 L118.8 180.4 L119.2 182.3 L119.6 184.2 L120 186.1 L120.4 188 L120.9 189.9 L121.3 191.8 L121.7 193.7 L122.1 195.6 L122.6 197.6 L123 199.5 L123.4 201.5 L123.8 203.5 L124.2 205.5 L124.7 207.6 L125.1 209.7 L125.5 211.8 L125.9 214 L126.4 216.3 L126.8 218.6 L127.2 220.9 L127.6 223.3 L128 225.8 L128.5 228.3 L128.9 230.9 L129.3 233.4 L129.7 236 L130.2 238.6 L130.6 241.1 L131 243.6 L131.4 245.9 L131.8 248.2 L132.3 250.4 L132.7 252.4 L133.1 254.3 L133.5 256.1 L134 257.7 L134.4 259.3 L134.8 260.8 L135.2 262.2 L135.6 263.5 L136.1 264.7 L136.5 265.9 L136.9 267.1 L137.3 268.3 L137.8 269.4 L138.2 270.5 L138.6 271.6 L139 272.8 L139.5 273.9 L139.9 275.1 L140.3 276.2 L140.7 277.3 L141.1 278.4 L141.6 279.5 L142 280.6 L142.4 281.7 L142.8 282.7 L143.3 283.7 L143.7 284.7 L144.1 285.6 L144.5 286.4 L144.9 287.3 L145.4 288 L145.8 288.8 L146.2 289.4 L146.6 290 L147.1 290.6 L147.5 291 L147.9 291.4 L148.3 291.8 L148.7 292.1 L149.2 292.3 L149.6 292.4 L150 292.5 L150.4 292.5 L150.9 292.4 L151.3 292.3 L151.7 292.1 L152.1 291.8 L152.5 291.4 L153 291 L153.4 290.5 L153.8 290 L154.2 289.4 L154.7 288.8 L155.1 288.1 L155.5 287.3 L155.9 286.6 L156.3 285.7 L156.8 284.9 L157.2 284 L157.6 283 L158 282.1 L158.5 281 L158.9 280 L159.3 278.9 L159.7 277.7 L160.2 276.5 L160.6 275.3 L161 274 L161.4 272.6 L161.8 271.3 L162.3 269.8 L162.7 268.3 L163.1 266.8 L163.5 265.2 L164 263.6 L164.4 261.9 L164.8 260.1 L165.2 258.4 L165.6 256.5 L166.1 254.7 L166.5 252.7 L166.9 250.8 L167.3 248.8 L167.8 246.7 L168.2 244.6 L168.6 242.5 L169 240.3 L169.4 238.1 L169.9 235.8 L170.3 233.5 L170.7 231.2 L171.1 228.8 L171.6 226.4 L172 223.9 L172.4 221.4 L172.8 218.9 L173.2 216.4 L173.7 213.8 L174.1 211.1 L174.5 208.5 L174.9 205.8 L175.4 203.1 L175.8 200.4 L176.2 197.6 L176.6 194.9 L177 192.1 L177.5 189.3 L177.9 186.5 L178.3 183.7 L178.7 180.9 L179.2 178 L179.6 175.2 L180 172.4 L180.4 169.5 L180.8 166.7 L181.3 163.9 L181.7 161.1 L182.1 158.3 L182.5 155.5 L183 152.8 L183.4 150.1 L183.8 147.4 L184.2 144.8 L184.7 142.1 L185.1 139.5 L185.5 136.9 L185.9 134.3 L186.3 131.7 L186.8 129.1 L187.2 126.5 L187.6 123.9 L188 121.2 L188.5 118.5 L188.9 115.9 L189.3 113.2 L189.7 110.5 L190.1 107.9 L190.6 105.2 L191 102.6 L191.4 100 L191.8 97.5 L192.3 95.2 L192.7 92.9 L193.1 90.8 L193.5 88.9 L193.9 87 L194.4 85.1 L194.8 83.3 L195.2 81.4 L195.6 79.4 L196.1 77.3 L196.5 75.2 L196.9 73 L197.3 70.9 L197.7 68.8 L198.2 66.7 L198.6 64.7 L199 62.7 L199.4 60.9 L199.9 59.2 L200.3 57.6 L200.7 56.1 L201.1 54.7 L201.5 53.3 L202 52 L202.4 50.7 L202.8 49.5 L203.2 48.3 L203.7 47.1 L204.1 46 L204.5 44.8 L204.9 43.8 L205.4 42.7 L205.8 41.7 L206.2 40.7 L206.6 39.8 L207 38.9 L207.5 38 L207.9 37.3 L208.3 36.5 L208.7 35.8 L209.2 35.2 L209.6 34.7 L210 34.1 L210.4 33.7 L210.8 33.2 L211.3 32.9 L211.7 32.5 L212.1 32.2 L212.5 32 L213 31.7 L213.4 31.5 L213.8 31.4 L214.2 31.3 L214.6 31.2 L215.1 31.1 L215.5 31.1 L215.9 31.2 L216.3 31.3 L216.8 31.4 L217.2 31.5 L217.6 31.7 L218 31.9 L218.4 32.1 L218.9 32.4 L219.3 32.7 L219.7 33 L220.1 33.4 L220.6 33.7 L221 34.1 L221.4 34.6 L221.8 35 L222.2 35.4 L222.7 35.9 L223.1 36.4 L223.5 36.9 L223.9 37.4 L224.4 38 L224.8 38.6 L225.2 39.2 L225.6 39.8 L226.1 40.4 L226.5 41.1 L226.9 41.8 L227.3 42.5 L227.7 43.2 L228.2 43.9 L228.6 44.7 L229 45.5 L229.4 46.3 L229.9 47.1 L230.3 48 L230.7 48.8 L231.1 49.7 L231.5 50.6 L232 51.4 L232.4 52.3 L232.8 53.2 L233.2 54.1 L233.7 55 L234.1 55.9 L234.5 56.7 L234.9 57.6 L235.3 58.5 L235.8 59.3 L236.2 60.2 L236.6 61 L237 61.9 L237.5 62.7 L237.9 63.5 L238.3 64.4 L238.7 65.2 L239.1 66 L239.6 66.8 L240 67.6 L240.4 68.5 L240.8 69.3 L241.3 70.1 L241.7 70.9 L242.1 71.7 L242.5 72.5 L242.9 73.4 L243.4 74.1 L243.8 74.9 L244.2 75.7 L244.6 76.5 L245.1 77.3 L245.5 78 L245.9 78.7 L246.3 79.5 L246.7 80.2 L247.2 80.9 L247.6 81.5 L248 82.2 L248.4 82.8 L248.9 83.4 L249.3 84 L249.7 84.6 L250.1 85.1 L250.6 85.7 L251 86.2 L251.4 86.7 L251.8 87.1 L252.2 87.6 L252.7 88 L253.1 88.4 L253.5 88.8 L253.9 89.2 L254.4 89.5 L254.8 89.9 L255.2 90.2 L255.6 90.5 L256 90.7 L256.5 91 L256.9 91.2 L257.3 91.5 L257.7 91.7 L258.2 91.8 L258.6 92 L259 92.1 L260 92.4 L261 92.6 L262 92.7 L262.9 92.6 L263.9 92.5 L264.9 92.3 L265.9 92.1 L266.9 91.7 L267.9 91.3 L268.9 90.9 L269.8 90.4 L270.8 89.8 L271.8 89.2 L272.8 88.7 L273.8 88.1 L274.8 87.4 L275.8 86.8 L276.7 86.2 L277.7 85.5 L278.7 84.7 L279.7 83.9 L280.7 83 L281.7 82.1 L282.7 81.2 L283.6 80.3 L284.6 79.4 L285.6 78.6 L286.6 77.8 L287.6 77.1 L288.6 76.5 L289.6 75.9 L290.5 75.4 L291.5 74.9 L292.5 74.5 L293.5 74.1 L294.5 73.8 L295.5 73.6 L296.5 73.5 L297.4 73.4 L298.4 73.5 L299.4 73.6 L300.4 73.8 L301.4 74 L302.4 74.4 L303.4 74.8 L304.3 75.2 L305.3 75.7 L306.3 76.3 L307.3 76.9 L308.3 77.6 L309.3 78.4 L310.3 79.2 L311.2 80.1 L312.2 81.1 L313.2 82.1 L314.2 83.1 L315.2 84.2 L316.2 85.3 L317.2 86.4 L318.1 87.5 L319.1 88.6 L320.1 89.8 L321.1 91 L322.1 92.3 L323.1 93.6 L324.1 94.9 L325 96.3 L326 97.7 L327 99 L328 100.3 L329 101.6 L330 102.8 L331 104 L331.9 105.1 L332.9 106.2 L333.9 107.2 L334.9 108.2 L335.9 109.2 L336.9 110.2 L337.9 111.2 L338.8 112.1 L339.8 112.9 L340.8 113.8 L341.8 114.5 L342.8 115.2 L343.8 115.9 L344.8 116.5 L345.7 117 L346.7 117.4 L347.7 117.7 L348.7 118 L349.7 118.2 L350.7 118.3 L351.7 118.4 L352.6 118.3 L353.6 118.3 L354.6 118.1 L355.6 117.9 L356.6 117.5 L357.6 117.1 L358.6 116.6 L359.5 116 L360.5 115.4 L361.5 114.7 L362.5 113.9 L363.5 113.1 L364.5 112.3 L365.5 111.5 L366.4 110.7 L367.4 109.9 L368.4 109.1 L369.4 108.2 L370.4 107.3 L371.4 106.3 L372.4 105.3 L373.3 104.3 L374.3 103.2 L375.3 102.2 L376.3 101.1 L377.3 100.1 L378.3 99.1 L379.3 98.1 L380.2 97.2 L381.2 96.3 L382.2 95.4 L383.2 94.5 L384.2 93.6 L385.2 92.7 L386.2 91.8 L387.1 91 L388.1 90.2 L389.1 89.4 L390.1 88.8 L391.1 88.2 L392.1 87.6 L393.1 87.1 L394 86.6 L395 86.2 L396 85.8 L397 85.4 L398 85 L399 84.7 L400 84.4 L400.9 84.1 L401.9 83.9 L402.9 83.7 L403.9 83.6 L404.9 83.5 L405.9 83.4 L406.9 83.4 L407.8 83.5 L408.8 83.5 L409.8 83.6 L410.8 83.8 L411.8 84 L412.8 84.2 L413.8 84.5 L414.7 84.8 L415.7 85.2 L416.7 85.5 L417.7 86 L418.7 86.4 L419.7 86.9 L420.7 87.5 L421.6 88 L422.6 88.6 L423.6 89.2 L424.6 89.8 L425.6 90.3 L426.6 90.8 L427.6 91.2 L428.5 91.6 L429.5 91.9 L430.5 92.3 L431.5 92.6 L432.5 93 L433.5 93.4 L434.5 93.8 L435.4 94.2 L436.4 94.7 L437.4 95.1 L438.4 95.5 L439.4 95.8 L440.4 96.1 L441.4 96.4 L442.3 96.6 L443.3 96.8 L444.3 97 L445.3 97.1 L446.3 97.3 L447.3 97.4 L448.3 97.5 L449.2 97.5 L450.2 97.5 L451.2 97.5 L452.2 97.5 L453.2 97.4 L454.2 97.2 L455.2 97.1 L456.1 96.9 L457.1 96.7 L458.1 96.5 L459.1 96.3 L460.1 96.1 L461.1 95.8 L462.1 95.6 L463 95.3 L464 95 L465 94.7 L466 94.4 L467 94.1 L468 93.8 L468.9 93.4 L469.9 93.1 L470.9 92.8 L471.9 92.4 L472.9 92.1 L473.9 91.8 L474.9 91.4 L475.8 91.1 L476.8 90.8 L477.8 90.5 L478.8 90.1 L479.8 89.8 L480.8 89.6 L481.8 89.3 L482.7 89.1 L483.7 88.8 L484.7 88.6 L485.7 88.4 L486.7 88.3 L487.7 88.1 L488.7 87.9 L489.6 87.7 L490.6 87.6 L491.6 87.4 L492.6 87.3 L493.6 87.2 L494.6 87.1 L495.6 87 L496.5 87 L497.5 87 L498.5 87 L499.5 87 L500.5 87.1 L501.5 87.2 L502.5 87.3 L503.4 87.4 L504.4 87.5 L505.4 87.7 L506.4 87.9 L507.4 88.1 L508.4 88.4 L509.4 88.6 L510.3 88.9 L511.3 89.2 L512.3 89.6 L513.3 89.9 L514.3 90.3 L515.3 90.6 L516.3 91 L517.2 91.4 L518.2 91.8 L519.2 92.2 L520.2 92.6 L521.2 93 L522.2 93.3 L523.2 93.7 L524.1 94.1 L525.1 94.4 L526.1 94.8 L527.1 95.1 L528.1 95.4 L529.1 95.7 L530.1 96 L531 96.2 L532 96.5 L533 96.7 L534 96.9 L535 97.1 L536 97.3 L537 97.5 L537.9 97.7 L538.9 97.8 L539.9 97.9 L540.9 98 L541.9 98.1 L542.9 98.2 L543.9 98.3 L544.8 98.3 L545.8 98.3 L546.8 98.3 L547.8 98.3 L548.8 98.3 L549.8 98.2 L550.8 98.1 L551.7 98 L552.7 97.9 L553.7 97.7 L554.7 97.6 L555.7 97.4 L556.7 97.2 L557.7 97 L558.6 96.8 L559.6 96.6 L560.6 96.4 L561.6 96.2 L562.6 95.9 L563.6 95.7 L564.6 95.4 L565.5 95.2 L566.5 94.9 L567.5 94.7 L568.5 94.4 L569.5 94.2 L570.5 93.9 L571.5 93.7 L572.4 93.5 L573.4 93.2 L574.4 93 L575.4 92.8 L576.4 92.6 L577.4 92.4 L578.4 92.2 L579.3 92.1 L580.3 91.9 L581.3 91.7 L582.3 91.6 L583.3 91.4 L584.3 91.3 L585.3 91.2 L586.2 91 L587.2 90.9 L588.2 90.8 L589.2 90.7 L590.2 90.7 L591.2 90.6 L592.2 90.5 L593.1 90.5 L594.1 90.5 L595.1 90.4 L596.1 90.4 L597.1 90.4 L598.1 90.4 L599.1 90.4 L600 90.5 L601 90.5 L602 90.6 L603 90.6 L604 90.7 L605 90.8 L606 90.9 L606.9 91 L607.9 91.1 L608.9 91.2 L609.9 91.4 L610.9 91.5 L611.9 91.6 L612.9 91.8 L613.8 91.9 L614.8 92.1 L615.8 92.2 L616.8 92.4 L617.8 92.6 L618.8 92.7 L619.8 92.9 L620.7 93.1 L621.7 93.3 L622.7 93.4 L623.7 93.6 L624.7 93.8 L625.7 94 L626.7 94.1 L627.6 94.3 L628.6 94.5 L629.6 94.6 L630.6 94.8 L631.6 94.9 L632.6 95 L633.6 95.2 L634.5 95.3 L635.5 95.4 L636.5 95.5 L637.5 95.6 L638.5 95.7 L639.5 95.7 L640.5 95.8 L641.4 95.8 L642.4 95.8 L643.4 95.8 L644.4 95.8 L645.4 95.8 L646.4 95.7 L647.4 95.6 L648.3 95.6 L649.3 95.5 L650.3 95.4 L651.3 95.3 L652.3 95.1 L653.3 95 L654.3 94.9 L655.2 94.7 L656.2 94.6 L657.2 94.4 L658.2 94.2 L659.2 94.1 L660.2 93.9 L661.2 93.7 L662.1 93.6 L663.1 93.4 L664.1 93.2 L665.1 93.1 L666.1 92.9 L667.1 92.8 L668.1 92.6 L669 92.5 L670 92.4 L671 92.3 L672 92.3" stroke="#00ff00"/>
<path d="M82 93.5 L82.4 93.8 L82.8 94.2 L83.3 94.5 L83.7 94.9 L84.1 95.2 L84.5 95.6 L85 96 L85.4 96.3 L85.8 96.7 L86.2 97.1 L86.6 97.4 L87.1 97.8 L87.5 98.2 L87.9 98.6 L88.3 99 L88.8 99.4 L89.2 99.8 L89.6 100.2 L90 100.5 L90.4 100.9 L90.9 101.3 L91.3 101.7 L91.7 102.1 L92.1 102.5 L92.6 102.9 L93 103.2 L93.4 103.6 L93.8 104 L94.3 104.3 L94.7 104.7 L95.1 105.1 L95.5 105.4 L95.9 105.8 L96.4 106.2 L96.8 106.6 L97.2 107 L97.6 107.4 L98.1 107.8 L98.5 108.2 L98.9 108.7 L99.3 109.1 L99.7 109.6 L100.2 110.1 L100.6 110.6 L101 111.1 L101.4 111.6 L101.9 112.2 L102.3 112.8 L102.7 113.4 L103.1 114 L103.5 114.7 L104 115.3 L104.4 116 L104.8 116.8 L105.2 117.6 L105.7 118.3 L106.1 119.2 L106.5 120 L106.9 120.8 L107.3 121.7 L107.8 122.6 L108.2 123.5 L108.6 124.4 L109 125.4 L109.5 126.3 L109.9 127.3 L110.3 128.2 L110.7 129.2 L111.1 130.2 L111.6 131.1 L112 132.1 L112.4 133.1 L112.8 134.1 L113.3 135 L113.7 136 L114.1 137 L114.5 137.9 L114.9 138.9 L115.4 139.8 L115.8 140.8 L116.2 141.7 L116.6 142.6 L117.1 143.5 L117.5 144.5 L117.9 145.4 L118.3 146.3 L118.8 147.2 L119.2 148.1 L119.6 149 L120 149.9 L120.4 150.8 L120.9 151.7 L121.3 152.6 L121.7 153.5 L122.1 154.4 L122.6 155.3 L123 156.2 L123.4 157.1 L123.8 158 L124.2 158.8 L124.7 159.7 L125.1 160.6 L125.5 161.4 L125.9 162.2 L126.4 163.1 L126.8 163.9 L127.2 164.7 L127.6 165.5 L128 166.3 L128.5 167.1 L128.9 167.9 L129.3 168.6 L129.7 169.4 L130.2 170.1 L130.6 170.8 L131 171.5 L131.4 172.2 L131.8 172.9 L132.3 173.5 L132.7 174.1 L133.1 174.7 L133.5 175.3 L134 175.8 L134.4 176.3 L134.8 176.8 L135.2 177.2 L135.6 177.7 L136.1 178.1 L136.5 178.5 L136.9 178.9 L137.3 179.3 L137.8 179.6 L138.2 180 L138.6 180.4 L139 180.7 L139.5 181.1 L139.9 181.4 L140.3 181.7 L140.7 182 L141.1 182.4 L141.6 182.6 L142 182.9 L142.4 183.2 L142.8 183.4 L143.3 183.6 L143.7 183.8 L144.1 183.9 L144.5 184 L144.9 184.1 L145.4 184.1 L145.8 184.1 L146.2 184.1 L146.6 184 L147.1 183.9 L147.5 183.8 L147.9 183.7 L148.3 183.6 L148.7 183.4 L149.2 183.2 L149.6 183.1 L150 182.9 L150.4 182.7 L150.9 182.4 L151.3 182.2 L151.7 181.9 L152.1 181.6 L152.5 181.3 L153 181 L153.4 180.6 L153.8 180.2 L154.2 179.8 L154.7 179.4 L155.1 179 L155.5 178.5 L155.9 178 L156.3 177.5 L156.8 177 L157.2 176.5 L157.6 176 L158 175.4 L158.5 174.9 L158.9 174.3 L159.3 173.8 L159.7 173.2 L160.2 172.7 L160.6 172.1 L161 171.6 L161.4 171 L161.8 170.5 L162.3 169.9 L162.7 169.4 L163.1 168.8 L163.5 168.3 L164 167.8 L164.4 167.2 L164.8 166.6 L165.2 166.1 L165.6 165.5 L166.1 164.9 L166.5 164.3 L166.9 163.6 L167.3 162.9 L167.8 162.2 L168.2 161.5 L168.6 160.7 L169 159.9 L169.4 159.1 L169.9 158.2 L170.3 157.3 L170.7 156.3 L171.1 155.3 L171.6 154.3 L172 153.2 L172.4 152.1 L172.8 151.1 L173.2 150.1 L173.7 149.1 L174.1 148.2 L174.5 147.3 L174.9 146.4 L175.4 145.6 L175.8 144.8 L176.2 144.1 L176.6 143.3 L177 142.6 L177.5 141.9 L177.9 141.2 L178.3 140.5 L178.7 139.9 L179.2 139.2 L179.6 138.5 L180 137.8 L180.4 137.1 L180.8 136.5 L181.3 135.8 L181.7 135.1 L182.1 134.4 L182.5 133.7 L183 133.1 L183.4 132.4 L183.8 131.8 L184.2 131.1 L184.7 130.5 L185.1 129.9 L185.5 129.3 L185.9 128.7 L186.3 128.1 L186.8 127.6 L187.2 127 L187.6 126.5 L188 125.9 L188.5 125.4 L188.9 124.8 L189.3 124.3 L189.7 123.8 L190.1 123.2 L190.6 122.7 L191 122.2 L191.4 121.7 L191.8 121.3 L192.3 120.8 L192.7 120.3 L193.1 119.9 L193.5 119.4 L193.9 119 L194.4 118.6 L194.8 118.2 L195.2 117.8 L195.6 117.4 L196.1 117.1 L196.5 116.7 L196.9 116.4 L197.3 116 L197.7 115.7 L198.2 115.4 L198.6 115.1 L199 114.8 L199.4 114.5 L199.9 114.2 L200.3 114 L200.7 113.7 L201.1 113.5 L201.5 113.3 L202 113 L202.4 112.8 L202.8 112.6 L203.2 112.4 L203.7 112.1 L204.1 111.9 L204.5 111.7 L204.9 111.5 L205.4 111.2 L205.8 111 L206.2 110.7 L206.6 110.5 L207 110.2 L207.5 110 L207.9 109.7 L208.3 109.5 L208.7 109.2 L209.2 109 L209.6 108.7 L210 108.4 L210.4 108.2 L210.8 108 L211.3 107.7 L211.7 107.5 L212.1 107.2 L212.5 107 L213 106.8 L213.4 106.6 L213.8 106.3 L214.2 106.1 L214.6 105.9 L215.1 105.7 L215.5 105.5 L215.9 105.3 L216.3 105.1 L216.8 104.9 L217.2 104.7 L217.6 104.5 L218 104.3 L218.4 104.1 L218.9 104 L219.3 103.8 L219.7 103.6 L220.1 103.4 L220.6 103.3 L221 103.1 L221.4 102.9 L221.8 102.8 L222.2 102.6 L222.7 102.5 L223.1 102.3 L223.5 102.2 L223.9 102 L224.4 101.9 L224.8 101.8 L225.2 101.6 L225.6 101.5 L226.1 101.4 L226.5 101.2 L226.9 101.1 L227.3 101 L227.7 100.9 L228.2 100.7 L228.6 100.6 L229 100.5 L229.4 100.4 L229.9 100.3 L230.3 100.2 L230.7 100.1 L231.1 100 L231.5 99.9 L232 99.8 L232.4 99.6 L232.8 99.5 L233.2 99.4 L233.7 99.3 L234.1 99.2 L234.5 99.1 L234.9 99 L235.3 98.9 L235.8 98.8 L236.2 98.7 L236.6 98.6 L237 98.5 L237.5 98.4 L237.9 98.3 L238.3 98.2 L238.7 98.2 L239.1 98.1 L239.6 98 L240 97.9 L240.4 97.8 L240.8 97.7 L241.3 97.6 L241.7 97.6 L242.1 97.5 L242.5 97.4 L242.9 97.4 L243.4 97.3 L243.8 97.3 L244.2 97.2 L244.6 97.2 L245.1 97.1 L245.5 97.1 L245.9 97.1 L246.3 97 L246.7 97 L247.2 97 L247.6 96.9 L248 96.9 L248.4 96.9 L248.9 96.9 L249.3 96.9 L249.7 96.8 L250.1 96.8 L250.6 96.8 L251 96.8 L251.4 96.8 L251.8 96.8 L252.2 96.8 L252.7 96.7 L253.1 96.7 L253.5 96.7 L253.9 96.7 L254.4 96.7 L254.8 96.7 L255.2 96.7 L255.6 96.7 L256 96.6 L256.5 96.6 L256.9 96.6 L257.3 96.6 L257.7 96.6 L258.2 96.6 L258.6 96.7 L259 96.7 L260 96.7 L261 96.9 L262 97 L262.9 97.2 L263.9 97.4 L264.9 97.7 L265.9 97.9 L266.9 98.1 L267.9 98.2 L268.9 98.4 L269.8 98.5 L270.8 98.6 L271.8 98.7 L272.8 98.8 L273.8 98.9 L274.8 99 L275.8 99 L276.7 99.1 L277.7 99.1 L278.7 99.1 L279.7 99.1 L280.7 99.1 L281.7 99.1 L282.7 99 L283.6 98.9 L284.6 98.8 L285.6 98.7 L286.6 98.5 L287.6 98.3 L288.6 98.1 L289.6 97.9 L290.5 97.6 L291.5 97.3 L292.5 97 L293.5 96.7 L294.5 96.4 L295.5 96 L296.5 95.6 L297.4 95.1 L298.4 94.7 L299.4 94.2 L300.4 93.8 L301.4 93.3 L302.4 92.8 L303.4 92.3 L304.3 91.8 L305.3 91.3 L306.3 90.8 L307.3 90.3 L308.3 89.9 L309.3 89.4 L310.3 88.9 L311.2 88.5 L312.2 88.1 L313.2 87.7 L314.2 87.3 L315.2 87 L316.2 86.6 L317.2 86.3 L318.1 86.1 L319.1 85.8 L320.1 85.6 L321.1 85.4 L322.1 85.2 L323.1 85.1 L324.1 84.9 L325 84.8 L326 84.7 L327 84.7 L328 84.6 L329 84.6 L330 84.6 L331 84.7 L331.9 84.8 L332.9 84.9 L333.9 85 L334.9 85.2 L335.9 85.4 L336.9 85.7 L337.9 86 L338.8 86.3 L339.8 86.7 L340.8 87.1 L341.8 87.6 L342.8 88 L343.8 88.6 L344.8 89.1 L345.7 89.6 L346.7 90.1 L347.7 90.7 L348.7 91.2 L349.7 91.7 L350.7 92.2 L351.7 92.7 L352.6 93.2 L353.6 93.7 L354.6 94.2 L355.6 94.6 L356.6 95.1 L357.6 95.6 L358.6 96 L359.5 96.4 L360.5 96.8 L361.5 97.2 L362.5 97.6 L363.5 97.9 L364.5 98.3 L365.5 98.5 L366.4 98.8 L367.4 99 L368.4 99.2 L369.4 99.4 L370.4 99.5 L371.4 99.6 L372.4 99.6 L373.3 99.6 L374.3 99.6 L375.3 99.6 L376.3 99.5 L377.3 99.4 L378.3 99.2 L379.3 99.1 L380.2 98.9 L381.2 98.6 L382.2 98.3 L383.2 98 L384.2 97.7 L385.2 97.3 L386.2 96.9 L387.1 96.5 L388.1 96 L389.1 95.6 L390.1 95.1 L391.1 94.7 L392.1 94.2 L393.1 93.7 L394 93.2 L395 92.8 L396 92.3 L397 91.8 L398 91.3 L399 90.9 L400 90.4 L400.9 90 L401.9 89.5 L402.9 89.1 L403.9 88.8 L404.9 88.4 L405.9 88.1 L406.9 87.8 L407.8 87.5 L408.8 87.2 L409.8 87 L410.8 86.8 L411.8 86.5 L412.8 86.4 L413.8 86.2 L414.7 86 L415.7 85.9 L416.7 85.9 L417.7 85.8 L418.7 85.9 L419.7 86.1 L420.7 86.3 L421.6 86.7 L422.6 87.1 L423.6 87.5 L424.6 88 L425.6 88.4 L426.6 88.9 L427.6 89.3 L428.5 89.6 L429.5 90 L430.5 90.4 L431.5 90.7 L432.5 91.1 L433.5 91.5 L434.5 91.9 L435.4 92.3 L436.4 92.7 L437.4 93.1 L438.4 93.5 L439.4 93.9 L440.4 94.2 L441.4 94.5 L442.3 94.8 L443.3 95.1 L444.3 95.3 L445.3 95.6 L446.3 95.8 L447.3 96 L448.3 96.2 L449.2 96.4 L450.2 96.6 L451.2 96.8 L452.2 96.9 L453.2 97 L454.2 97.1 L455.2 97.2 L456.1 97.2 L457.1 97.3 L458.1 97.3 L459.1 97.3 L460.1 97.4 L461.1 97.4 L462.1 97.3 L463 97.3 L464 97.2 L465 97.1 L466 97 L467 96.9 L468 96.7 L468.9 96.6 L469.9 96.4 L470.9 96.1 L471.9 95.9 L472.9 95.7 L473.9 95.4 L474.9 95.1 L475.8 94.8 L476.8 94.5 L477.8 94.2 L478.8 93.9 L479.8 93.6 L480.8 93.3 L481.8 93 L482.7 92.7 L483.7 92.5 L484.7 92.2 L485.7 91.9 L486.7 91.7 L487.7 91.4 L488.7 91.2 L489.6 91.1 L490.6 90.9 L491.6 90.8 L492.6 90.7 L493.6 90.6 L494.6 90.5 L495.6 90.3 L496.5 90.2 L497.5 90.1 L498.5 90 L499.5 89.9 L500.5 89.9 L501.5 89.9 L502.5 89.9 L503.4 89.9 L504.4 90 L505.4 90.1 L506.4 90.2 L507.4 90.4 L508.4 90.5 L509.4 90.7 L510.3 90.9 L511.3 91.1 L512.3 91.3 L513.3 91.5 L514.3 91.8 L515.3 92 L516.3 92.2 L517.2 92.5 L518.2 92.8 L519.2 93 L520.2 93.2 L521.2 93.5 L522.2 93.7 L523.2 93.9 L524.1 94.1 L525.1 94.3 L526.1 94.5 L527.1 94.7 L528.1 94.8 L529.1 94.9 L530.1 95 L531 95.1 L532 95.2 L533 95.3 L534 95.3 L535 95.4 L536 95.4 L537 95.4 L537.9 95.5 L538.9 95.5 L539.9 95.5 L540.9 95.4 L541.9 95.4 L542.9 95.4 L543.9 95.3 L544.8 95.3 L545.8 95.2 L546.8 95.1 L547.8 95 L548.8 94.9 L549.8 94.8 L550.8 94.7 L551.7 94.6 L552.7 94.4 L553.7 94.3 L554.7 94.1 L555.7 94 L556.7 93.8 L557.7 93.6 L558.6 93.5 L559.6 93.3 L560.6 93.2 L561.6 93.1 L562.6 92.9 L563.6 92.8 L564.6 92.7 L565.5 92.6 L566.5 92.5 L567.5 92.4 L568.5 92.4 L569.5 92.3 L570.5 92.2 L571.5 92.2 L572.4 92.1 L573.4 92.1 L574.4 92.1 L575.4 92.1 L576.4 92 L577.4 92 L578.4 92 L579.3 92 L580.3 92.1 L581.3 92.1 L582.3 92.1 L583.3 92.2 L584.3 92.2 L585.3 92.3 L586.2 92.4 L587.2 92.4 L588.2 92.5 L589.2 92.6 L590.2 92.8 L591.2 92.9 L592.2 93 L593.1 93.1 L594.1 93.2 L595.1 93.4 L596.1 93.5 L597.1 93.6 L598.1 93.7 L599.1 93.9 L600 94 L601 94.1 L602 94.2 L603 94.3 L604 94.3 L605 94.4 L606 94.5 L606.9 94.5 L607.9 94.6 L608.9 94.6 L609.9 94.6 L610.9 94.6 L611.9 94.6 L612.9 94.6 L613.8 94.6 L614.8 94.6 L615.8 94.5 L616.8 94.5 L617.8 94.4 L618.8 94.3 L619.8 94.3 L620.7 94.2 L621.7 94.1 L622.7 94 L623.7 93.9 L624.7 93.8 L625.7 93.7 L626.7 93.6 L627.6 93.4 L628.6 93.3 L629.6 93.2 L630.6 93.1 L631.6 93 L632.6 92.9 L633.6 92.8 L634.5 92.6 L635.5 92.5 L636.5 92.4 L637.5 92.3 L638.5 92.2 L639.5 92.1 L640.5 92 L641.4 91.9 L642.4 91.8 L643.4 91.7 L644.4 91.6 L645.4 91.5 L646.4 91.5 L647.4 91.4 L648.3 91.4 L649.3 91.3 L650.3 91.3 L651.3 91.3 L652.3 91.3 L653.3 91.4 L654.3 91.4 L655.2 91.5 L656.2 91.5 L657.2 91.6 L658.2 91.7 L659.2 91.8 L660.2 91.9 L661.2 92 L662.1 92.1 L663.1 92.2 L664.1 92.3 L665.1 92.4 L666.1 92.6 L667.1 92.7 L668.1 92.8 L669 92.9 L670 93.1 L671 93.2 L672 93.3" stroke="#00ffff"/>
</g>
<g stroke="#000" stroke-width="2">
<line x1="200" y1="360" x2="200" y2="353.5"/>
<line x1="200" y1="4.3" x2="200" y2="10.8"/>
<line x1="318" y1="360" x2="318" y2="353.5"/>
<line x1="318" y1="4.3" x2="318" y2="10.8"/>
<line x1="436" y1="360" x2="436" y2="353.5"/>
<line x1="436" y1="4.3" x2="436" y2="10.8"/>
<line x1="554" y1="360" x2="554" y2="353.5"/>
<line x1="554" y1="4.3" x2="554" y2="10.8"/>
<line x1="82" y1="49.1" x2="88.5" y2="49.1"/>
<line x1="672.3" y1="49.1" x2="665.8" y2="49.1"/>
<line x1="82" y1="93.5" x2="88.5" y2="93.5"/>
<line x1="672.3" y1="93.5" x2="665.8" y2="93.5"/>
<line x1="82" y1="137.9" x2="88.5" y2="137.9"/>
<line x1="672.3" y1="137.9" x2="665.8" y2="137.9"/>
<line x1="82" y1="182.3" x2="88.5" y2="182.3"/>
<line x1="672.3" y1="182.3" x2="665.8" y2="182.3"/>
<line x1="82" y1="226.7" x2="88.5" y2="226.7"/>
<line x1="672.3" y1="226.7" x2="665.8" y2="226.7"/>
<line x1="82" y1="271.1" x2="88.5" y2="271.1"/>
<line x1="672.3" y1="271.1" x2="665.8" y2="271.1"/>
<line x1="82" y1="315.5" x2="88.5" y2="315.5"/>
<line x1="672.3" y1="315.5" x2="665.8" y2="315.5"/>
</g>
<rect x="82" y="4.3" width="590.3" height="355.7" fill="none" stroke="#000" stroke-width="2"/>
<g font-family='"Liberation Serif", serif' fill="#000">
<text transform="translate(74.3,57.7) scale(1,1.1)" font-size="21.8" text-anchor="end">0.1</text>
<text transform="translate(74.3,102.1) scale(1,1.1)" font-size="21.8" text-anchor="end">0</text>
<text transform="translate(74.3,146.5) scale(1,1.1)" font-size="21.8" text-anchor="end">-0.1</text>
<text transform="translate(74.3,190.9) scale(1,1.1)" font-size="21.8" text-anchor="end">-0.2</text>
<text transform="translate(74.3,235.3) scale(1,1.1)" font-size="21.8" text-anchor="end">-0.3</text>
<text transform="translate(74.3,279.7) scale(1,1.1)" font-size="21.8" text-anchor="end">-0.4</text>
<text transform="translate(74.3,324.1) scale(1,1.1)" font-size="21.8" text-anchor="end">-0.5</text>
<text transform="translate(74.3,368.5) scale(1,1.1)" font-size="21.8" text-anchor="end">-0.6</text>
<text transform="translate(82,386.7) scale(1,1.08)" font-size="20.8" text-anchor="middle">0</text>
<text transform="translate(200,386.7) scale(1,1.08)" font-size="20.8" text-anchor="middle">2</text>
<text transform="translate(318,386.7) scale(1,1.08)" font-size="20.8" text-anchor="middle">4</text>
<text transform="translate(436,386.7) scale(1,1.08)" font-size="20.8" text-anchor="middle">6</text>
<text transform="translate(554,386.7) scale(1,1.08)" font-size="20.8" text-anchor="middle">8</text>
<text transform="translate(672,386.7) scale(1,1.08)" font-size="20.8" text-anchor="middle">10</text>
<text transform="translate(377.8,415.8) scale(1,1.06)" font-size="24.5" text-anchor="middle">Time(s)</text>
<g transform="translate(20.3,236.0) rotate(-90)" font-size="24.6"><text transform="scale(1.216,1)" font-size="25.3">Δ</text><text x="19.9">f<tspan font-size="18.2" dy="11.9" dx="2">1</tspan><tspan dy="-11.9">(t)(Hz)</tspan></text></g>
<text x="368.7" y="450.8" font-size="16" text-anchor="middle">(a)</text>
</g>
<rect x="555.2" y="113" width="107.1" height="235" fill="#fff" stroke="#000" stroke-width="2"/>
<g font-family='"Liberation Serif", serif' fill="#000">
<line x1="558.5" y1="126.2" x2="592" y2="126.2" stroke="#007d00" stroke-width="2.1"/>
<text transform="translate(604.3,134) scale(1,1.04)" font-size="20" text-anchor="start">SSA</text>
<line x1="558.5" y1="149.28" x2="592" y2="149.28" stroke="#ffd500" stroke-width="2.1"/>
<text transform="translate(604.3,157.08) scale(1,1.04)" font-size="20" text-anchor="start">WOA</text>
<line x1="558.5" y1="172.36" x2="592" y2="172.36" stroke="#ff00ff" stroke-width="2.1"/>
<text transform="translate(604.3,180.16) scale(1,1.04)" font-size="20" text-anchor="start">COA</text>
<line x1="558.5" y1="195.44" x2="592" y2="195.44" stroke="#000000" stroke-width="2.1"/>
<text transform="translate(604.3,203.24) scale(1,1.04)" font-size="20" text-anchor="start">SBOA</text>
<line x1="558.5" y1="218.52" x2="592" y2="218.52" stroke="#993300" stroke-width="2.1"/>
<text transform="translate(599.3,226.32) scale(1,1.04)" font-size="20" text-anchor="start">HOA</text>
<line x1="558.5" y1="241.6" x2="592" y2="241.6" stroke="#0000ff" stroke-width="2.1"/>
<text transform="translate(599.3,249.4) scale(1,1.04)" font-size="20" text-anchor="start">BBOA</text>
<line x1="558.5" y1="264.68" x2="592" y2="264.68" stroke="#ff0000" stroke-width="2.1"/>
<text transform="translate(599.3,272.48) scale(1,1.04)" font-size="20" text-anchor="start">TL</text>
<line x1="558.5" y1="287.76" x2="592" y2="287.76" stroke="#6e4068" stroke-width="2.1"/>
<text transform="translate(604.3,295.56) scale(1,1.04)" font-size="20" text-anchor="start">GTO</text>
<line x1="558.5" y1="310.84" x2="592" y2="310.84" stroke="#00ff00" stroke-width="2.1"/>
<text transform="translate(599.3,318.64) scale(1,1.04)" font-size="20" text-anchor="start">WHO</text>
<line x1="558.5" y1="333.92" x2="592" y2="333.92" stroke="#00ffff" stroke-width="2.1"/>
<text transform="translate(599.3,341.72) scale(1,1.04)" font-size="20" text-anchor="start">WaOA</text>
</g>
</g>
<g id="plotb">
<clipPath id="clipb"><rect x="82" y="493.4" width="589.2" height="358.5"/></clipPath>
<g stroke="#262626" stroke-opacity="0.15" stroke-width="2">
<line x1="199.8" y1="493.4" x2="199.8" y2="851.9"/>
<line x1="317.6" y1="493.4" x2="317.6" y2="851.9"/>
<line x1="435.4" y1="493.4" x2="435.4" y2="851.9"/>
<line x1="553.2" y1="493.4" x2="553.2" y2="851.9"/>
<line x1="82" y1="526.48" x2="671.2" y2="526.48"/>
<line x1="82" y1="580.84" x2="671.2" y2="580.84"/>
<line x1="82" y1="635.2" x2="671.2" y2="635.2"/>
<line x1="82" y1="689.56" x2="671.2" y2="689.56"/>
<line x1="82" y1="743.92" x2="671.2" y2="743.92"/>
<line x1="82" y1="798.28" x2="671.2" y2="798.28"/>
</g>
<g clip-path="url(#clipb)" fill="none" stroke-width="2.1" stroke-linejoin="round" stroke-linecap="round">
<path d="M82 635.2 L82.4 635.5 L82.8 635.9 L83.3 636.2 L83.7 636.6 L84.1 636.9 L84.5 637.3 L85 637.6 L85.4 637.9 L85.8 638.3 L86.2 638.7 L86.6 639 L87.1 639.4 L87.5 639.7 L87.9 640.1 L88.3 640.5 L88.7 640.9 L89.2 641.3 L89.6 641.7 L90 642.1 L90.4 642.6 L90.9 643.1 L91.3 643.7 L91.7 644.3 L92.1 645 L92.5 645.7 L93 646.5 L93.4 647.4 L93.8 648.4 L94.2 649.4 L94.7 650.5 L95.1 651.6 L95.5 652.9 L95.9 654.1 L96.3 655.5 L96.8 656.9 L97.2 658.3 L97.6 659.8 L98 661.3 L98.4 662.9 L98.9 664.5 L99.3 666.2 L99.7 667.9 L100.1 669.6 L100.6 671.4 L101 673.2 L101.4 675.1 L101.8 676.9 L102.2 678.9 L102.7 680.8 L103.1 682.8 L103.5 684.8 L103.9 686.8 L104.4 688.8 L104.8 690.9 L105.2 693 L105.6 695.2 L106 697.4 L106.5 699.8 L106.9 702.2 L107.3 704.8 L107.7 707.5 L108.1 710.3 L108.6 713.1 L109 716.1 L109.4 719.1 L109.8 722.1 L110.3 725.2 L110.7 728.4 L111.1 731.5 L111.5 734.6 L111.9 737.6 L112.4 740.6 L112.8 743.5 L113.2 746.3 L113.6 749 L114.1 751.6 L114.5 754.2 L114.9 756.7 L115.3 759.2 L115.7 761.8 L116.2 764.3 L116.6 766.8 L117 769.3 L117.4 771.8 L117.8 774.2 L118.3 776.6 L118.7 778.9 L119.1 781.2 L119.5 783.3 L120 785.4 L120.4 787.4 L120.8 789.3 L121.2 791.2 L121.6 793 L122.1 794.7 L122.5 796.3 L122.9 798 L123.3 799.5 L123.8 801 L124.2 802.5 L124.6 803.9 L125 805.2 L125.4 806.4 L125.9 807.6 L126.3 808.8 L126.7 809.8 L127.1 810.8 L127.5 811.7 L128 812.6 L128.4 813.3 L128.8 814 L129.2 814.6 L129.7 815 L130.1 815.4 L130.5 815.7 L130.9 815.9 L131.3 816 L131.8 816 L132.2 815.8 L132.6 815.6 L133 815.3 L133.4 814.8 L133.9 814.3 L134.3 813.6 L134.7 812.9 L135.1 812.1 L135.6 811.1 L136 810.1 L136.4 809 L136.8 807.8 L137.2 806.5 L137.7 805.1 L138.1 803.6 L138.5 801.9 L138.9 800 L139.4 798.1 L139.8 795.9 L140.2 793.7 L140.6 791.3 L141 788.8 L141.5 786.3 L141.9 783.7 L142.3 781 L142.7 778.4 L143.1 775.7 L143.6 772.9 L144 770.2 L144.4 767.4 L144.8 764.5 L145.3 761.7 L145.7 758.7 L146.1 755.7 L146.5 752.7 L146.9 749.5 L147.4 746.3 L147.8 743.1 L148.2 739.7 L148.6 736.3 L149.1 732.8 L149.5 729.3 L149.9 725.6 L150.3 721.8 L150.7 718 L151.2 714 L151.6 710 L152 705.9 L152.4 701.6 L152.8 697.3 L153.3 692.9 L153.7 688.5 L154.1 684 L154.5 679.6 L155 675.3 L155.4 671 L155.8 666.8 L156.2 662.8 L156.6 658.8 L157.1 655 L157.5 651.2 L157.9 647.5 L158.3 643.8 L158.8 640.2 L159.2 636.6 L159.6 633 L160 629.4 L160.4 625.8 L160.9 622.2 L161.3 618.7 L161.7 615.1 L162.1 611.6 L162.5 608.2 L163 604.7 L163.4 601.3 L163.8 598 L164.2 594.7 L164.7 591.4 L165.1 588.1 L165.5 584.9 L165.9 581.8 L166.3 578.7 L166.8 575.6 L167.2 572.6 L167.6 569.7 L168 566.9 L168.5 564.1 L168.9 561.5 L169.3 559 L169.7 556.6 L170.1 554.4 L170.6 552.2 L171 550.2 L171.4 548.3 L171.8 546.4 L172.2 544.7 L172.7 543 L173.1 541.3 L173.5 539.8 L173.9 538.3 L174.4 536.8 L174.8 535.5 L175.2 534.3 L175.6 533.2 L176 532.3 L176.5 531.5 L176.9 530.8 L177.3 530.2 L177.7 529.8 L178.2 529.5 L178.6 529.3 L179 529.2 L179.4 529.2 L179.8 529.3 L180.3 529.4 L180.7 529.6 L181.1 529.9 L181.5 530.2 L181.9 530.6 L182.4 531.1 L182.8 531.6 L183.2 532.3 L183.6 533 L184.1 533.8 L184.5 534.7 L184.9 535.7 L185.3 536.9 L185.7 538.1 L186.2 539.5 L186.6 541 L187 542.6 L187.4 544.2 L187.9 546 L188.3 547.8 L188.7 549.7 L189.1 551.7 L189.5 553.7 L190 555.8 L190.4 557.9 L190.8 560 L191.2 562.2 L191.6 564.5 L192.1 566.8 L192.5 569.2 L192.9 571.6 L193.3 574.2 L193.8 576.8 L194.2 579.4 L194.6 582.1 L195 584.8 L195.4 587.6 L195.9 590.3 L196.3 592.9 L196.7 595.5 L197.1 598.1 L197.6 600.5 L198 602.9 L198.4 605.3 L198.8 607.5 L199.2 609.8 L199.7 612.1 L200.1 614.5 L200.5 616.9 L200.9 619.4 L201.3 621.9 L201.8 624.3 L202.2 626.5 L202.6 628.4 L203 630.4 L203.5 632.5 L203.9 634.9 L204.3 637.8 L204.7 640.9 L205.1 644.2 L205.6 647.4 L206 650.4 L206.4 653.1 L206.8 655.5 L207.3 657.8 L207.7 660.1 L208.1 662.3 L208.5 664.6 L208.9 667 L209.4 669.4 L209.8 671.8 L210.2 674.2 L210.6 676.5 L211 678.8 L211.5 681 L211.9 683.1 L212.3 685 L212.7 686.8 L213.2 688.5 L213.6 690 L214 691.4 L214.4 692.7 L214.8 693.8 L215.3 694.9 L215.7 695.9 L216.1 696.9 L216.5 697.7 L216.9 698.5 L217.4 699.2 L217.8 699.9 L218.2 700.5 L218.6 701 L219.1 701.5 L219.5 702 L219.9 702.3 L220.3 702.6 L220.7 702.9 L221.2 703.1 L221.6 703.3 L222 703.4 L222.4 703.4 L222.9 703.5 L223.3 703.4 L223.7 703.4 L224.1 703.2 L224.5 703.1 L225 702.8 L225.4 702.5 L225.8 702.2 L226.2 701.7 L226.6 701.2 L227.1 700.7 L227.5 700 L227.9 699.3 L228.3 698.5 L228.8 697.6 L229.2 696.6 L229.6 695.5 L230 694.3 L230.4 693.1 L230.9 691.8 L231.3 690.4 L231.7 689 L232.1 687.5 L232.6 686 L233 684.5 L233.4 683 L233.8 681.4 L234.2 679.9 L234.7 678.4 L235.1 676.8 L235.5 675.3 L235.9 673.7 L236.3 672.1 L236.8 670.5 L237.2 668.9 L237.6 667.3 L238 665.7 L238.5 664 L238.9 662.4 L239.3 660.8 L239.7 659.1 L240.1 657.5 L240.6 655.8 L241 654.2 L241.4 652.6 L241.8 651 L242.3 649.4 L242.7 647.9 L243.1 646.4 L243.5 645 L243.9 643.6 L244.4 642.3 L244.8 640.9 L245.2 639.7 L245.6 638.4 L246 637.2 L246.5 636 L246.9 634.8 L247.3 633.6 L247.7 632.5 L248.2 631.3 L248.6 630.2 L249 629 L249.4 627.9 L249.8 626.8 L250.3 625.7 L250.7 624.6 L251.1 623.6 L251.5 622.6 L252 621.6 L252.4 620.6 L252.8 619.7 L253.2 618.8 L253.6 618 L254.1 617.2 L254.5 616.4 L254.9 615.7 L255.3 615 L255.7 614.4 L256.2 613.8 L256.6 613.2 L257 612.7 L257.4 612.2 L257.9 611.8 L258.3 611.4 L258.7 611 L259.7 610.2 L260.7 609.7 L261.7 609.3 L262.6 609 L263.6 608.9 L264.6 608.9 L265.6 609.1 L266.6 609.3 L267.6 609.7 L268.5 610.2 L269.5 610.8 L270.5 611.6 L271.5 612.4 L272.5 613.3 L273.5 614.3 L274.4 615.4 L275.4 616.6 L276.4 617.8 L277.4 619.1 L278.4 620.5 L279.4 621.9 L280.3 623.3 L281.3 624.7 L282.3 626.2 L283.3 627.6 L284.3 629 L285.3 630.4 L286.3 631.8 L287.2 633 L288.2 634.2 L289.2 635.3 L290.2 636.3 L291.2 637.2 L292.2 637.9 L293.1 638.6 L294.1 639.3 L295.1 639.8 L296.1 640.3 L297.1 640.8 L298.1 641.2 L299 641.6 L300 642 L301 642.3 L302 642.6 L303 642.8 L304 643 L304.9 643.1 L305.9 643.1 L306.9 643 L307.9 642.9 L308.9 642.7 L309.9 642.4 L310.9 642.1 L311.8 641.7 L312.8 641.4 L313.8 641 L314.8 640.5 L315.8 640.1 L316.8 639.6 L317.7 639.2 L318.7 638.8 L319.7 638.4 L320.7 638 L321.7 637.6 L322.7 637.2 L323.6 636.9 L324.6 636.5 L325.6 636.2 L326.6 635.9 L327.6 635.6 L328.6 635.4 L329.5 635.1 L330.5 634.9 L331.5 634.7 L332.5 634.5 L333.5 634.3 L334.5 634.2 L335.5 634.1 L336.4 634 L337.4 633.9 L338.4 633.9 L339.4 633.9 L340.4 633.9 L341.4 633.9 L342.3 633.9 L343.3 633.9 L344.3 634 L345.3 634 L346.3 634.1 L347.3 634.1 L348.2 634.2 L349.2 634.2 L350.2 634.3 L351.2 634.3 L352.2 634.4 L353.2 634.4 L354.1 634.4 L355.1 634.4 L356.1 634.4 L357.1 634.4 L358.1 634.3 L359.1 634.3 L360.1 634.2 L361 634.2 L362 634.1 L363 634 L364 633.9 L365 633.8 L366 633.7 L366.9 633.6 L367.9 633.4 L368.9 633.3 L369.9 633.1 L370.9 633 L371.9 632.8 L372.8 632.7 L373.8 632.5 L374.8 632.3 L375.8 632.2 L376.8 632 L377.8 631.9 L378.7 631.7 L379.7 631.6 L380.7 631.5 L381.7 631.5 L382.7 631.4 L383.7 631.4 L384.7 631.4 L385.6 631.4 L386.6 631.5 L387.6 631.6 L388.6 631.7 L389.6 631.9 L390.6 632.1 L391.5 632.4 L392.5 632.6 L393.5 632.9 L394.5 633.2 L395.5 633.5 L396.5 633.9 L397.4 634.2 L398.4 634.6 L399.4 634.9 L400.4 635.3 L401.4 635.7 L402.4 636.1 L403.3 636.4 L404.3 636.8 L405.3 637.1 L406.3 637.4 L407.3 637.8 L408.3 638.1 L409.3 638.3 L410.2 638.6 L411.2 638.8 L412.2 639.1 L413.2 639.2 L414.2 639.4 L415.2 639.5 L416.1 639.6 L417.1 639.7 L418.1 639.7 L419.1 639.6 L420.1 639.6 L421.1 639.5 L422 639.4 L423 639.3 L424 639.1 L425 638.9 L426 638.7 L427 638.5 L427.9 638.3 L428.9 638 L429.9 637.8 L430.9 637.5 L431.9 637.2 L432.9 637 L433.9 636.7 L434.8 636.4 L435.8 636.2 L436.8 635.9 L437.8 635.7 L438.8 635.4 L439.8 635.2 L440.7 635 L441.7 634.7 L442.7 634.5 L443.7 634.4 L444.7 634.2 L445.7 634 L446.6 633.9 L447.6 633.8 L448.6 633.7 L449.6 633.6 L450.6 633.5 L451.6 633.5 L452.5 633.5 L453.5 633.5 L454.5 633.5 L455.5 633.6 L456.5 633.7 L457.5 633.7 L458.5 633.8 L459.4 633.9 L460.4 634.1 L461.4 634.2 L462.4 634.3 L463.4 634.5 L464.4 634.6 L465.3 634.8 L466.3 635 L467.3 635.1 L468.3 635.3 L469.3 635.5 L470.3 635.7 L471.2 635.9 L472.2 636 L473.2 636.2 L474.2 636.4 L475.2 636.5 L476.2 636.7 L477.2 636.8 L478.1 637 L479.1 637.1 L480.1 637.2 L481.1 637.3 L482.1 637.4 L483.1 637.5 L484 637.5 L485 637.6 L486 637.6 L487 637.6 L488 637.6 L489 637.5 L489.9 637.5 L490.9 637.4 L491.9 637.3 L492.9 637.3 L493.9 637.2 L494.9 637 L495.8 636.9 L496.8 636.8 L497.8 636.7 L498.8 636.5 L499.8 636.4 L500.8 636.2 L501.8 636.1 L502.7 635.9 L503.7 635.8 L504.7 635.6 L505.7 635.5 L506.7 635.3 L507.7 635.2 L508.6 635 L509.6 634.9 L510.6 634.8 L511.6 634.6 L512.6 634.5 L513.6 634.4 L514.5 634.3 L515.5 634.2 L516.5 634.2 L517.5 634.1 L518.5 634.1 L519.5 634.1 L520.4 634.1 L521.4 634.1 L522.4 634.1 L523.4 634.1 L524.4 634.1 L525.4 634.2 L526.4 634.3 L527.3 634.3 L528.3 634.4 L529.3 634.5 L530.3 634.6 L531.3 634.7 L532.3 634.8 L533.2 634.9 L534.2 635 L535.2 635.1 L536.2 635.2 L537.2 635.3 L538.2 635.4 L539.1 635.5 L540.1 635.6 L541.1 635.7 L542.1 635.8 L543.1 635.9 L544.1 635.9 L545 636 L546 636.1 L547 636.2 L548 636.2 L549 636.2 L550 636.3 L551 636.3 L551.9 636.3 L552.9 636.3 L553.9 636.3 L554.9 636.3 L555.9 636.2 L556.9 636.2 L557.8 636.2 L558.8 636.1 L559.8 636 L560.8 636 L561.8 635.9 L562.8 635.8 L563.7 635.8 L564.7 635.7 L565.7 635.6 L566.7 635.5 L567.7 635.4 L568.7 635.3 L569.6 635.2 L570.6 635.2 L571.6 635.1 L572.6 635 L573.6 634.9 L574.6 634.8 L575.6 634.8 L576.5 634.7 L577.5 634.6 L578.5 634.6 L579.5 634.5 L580.5 634.5 L581.5 634.4 L582.4 634.4 L583.4 634.4 L584.4 634.4 L585.4 634.3 L586.4 634.3 L587.4 634.4 L588.3 634.4 L589.3 634.4 L590.3 634.4 L591.3 634.5 L592.3 634.5 L593.3 634.5 L594.2 634.6 L595.2 634.6 L596.2 634.7 L597.2 634.8 L598.2 634.8 L599.2 634.9 L600.2 634.9 L601.1 635 L602.1 635.1 L603.1 635.1 L604.1 635.2 L605.1 635.3 L606.1 635.4 L607 635.4 L608 635.5 L609 635.6 L610 635.6 L611 635.7 L612 635.7 L612.9 635.8 L613.9 635.8 L614.9 635.9 L615.9 635.9 L616.9 636 L617.9 636 L618.8 636 L619.8 636.1 L620.8 636.1 L621.8 636.1 L622.8 636.2 L623.8 636.2 L624.8 636.2 L625.7 636.2 L626.7 636.2 L627.7 636.2 L628.7 636.2 L629.7 636.2 L630.7 636.2 L631.6 636.2 L632.6 636.2 L633.6 636.2 L634.6 636.2 L635.6 636.2 L636.6 636.2 L637.5 636.2 L638.5 636.2 L639.5 636.1 L640.5 636.1 L641.5 636.1 L642.5 636.1 L643.4 636.1 L644.4 636 L645.4 636 L646.4 636 L647.4 635.9 L648.4 635.9 L649.4 635.9 L650.3 635.8 L651.3 635.8 L652.3 635.8 L653.3 635.7 L654.3 635.7 L655.3 635.7 L656.2 635.6 L657.2 635.6 L658.2 635.5 L659.2 635.5 L660.2 635.4 L661.2 635.4 L662.1 635.4 L663.1 635.3 L664.1 635.3 L665.1 635.2 L666.1 635.2 L667.1 635.1 L668 635.1 L669 635 L670 635 L671 634.9" stroke="#007d00"/>
<path d="M82 635.2 L82.4 635.6 L82.8 636 L83.3 636.4 L83.7 637 L84.1 637.6 L84.5 638.3 L85 639.2 L85.4 640.2 L85.8 641.4 L86.2 642.8 L86.6 644.4 L87.1 646.1 L87.5 647.9 L87.9 649.8 L88.3 651.7 L88.7 653.7 L89.2 655.8 L89.6 657.8 L90 659.9 L90.4 661.9 L90.9 663.8 L91.3 665.7 L91.7 667.6 L92.1 669.4 L92.5 671.3 L93 673.1 L93.4 675 L93.8 677 L94.2 679 L94.7 681.1 L95.1 683.3 L95.5 685.7 L95.9 688.2 L96.3 690.9 L96.8 693.7 L97.2 696.6 L97.6 699.7 L98 702.9 L98.4 706.2 L98.9 709.5 L99.3 712.8 L99.7 716.2 L100.1 719.5 L100.6 722.8 L101 726.1 L101.4 729.3 L101.8 732.3 L102.2 735.3 L102.7 738.1 L103.1 740.7 L103.5 743.1 L103.9 745.3 L104.4 747.3 L104.8 749 L105.2 750.6 L105.6 752 L106 753.2 L106.5 754.4 L106.9 755.4 L107.3 756.3 L107.7 757.2 L108.1 758 L108.6 758.6 L109 759.2 L109.4 759.7 L109.8 760.1 L110.3 760.3 L110.7 760.4 L111.1 760.3 L111.5 760.2 L111.9 759.9 L112.4 759.4 L112.8 758.9 L113.2 758.4 L113.6 757.7 L114.1 757 L114.5 756.3 L114.9 755.5 L115.3 754.7 L115.7 753.9 L116.2 753.1 L116.6 752.3 L117 751.4 L117.4 750.5 L117.8 749.5 L118.3 748.5 L118.7 747.4 L119.1 746.2 L119.5 745 L120 743.7 L120.4 742.2 L120.8 740.8 L121.2 739.2 L121.6 737.6 L122.1 735.9 L122.5 734.3 L122.9 732.6 L123.3 730.9 L123.8 729.2 L124.2 727.5 L124.6 725.8 L125 724.2 L125.4 722.6 L125.9 721 L126.3 719.4 L126.7 717.9 L127.1 716.4 L127.5 714.9 L128 713.5 L128.4 712.1 L128.8 710.7 L129.2 709.2 L129.7 707.8 L130.1 706.3 L130.5 704.7 L130.9 703.1 L131.3 701.4 L131.8 699.6 L132.2 697.7 L132.6 695.8 L133 693.8 L133.4 691.7 L133.9 689.7 L134.3 687.8 L134.7 685.8 L135.1 684 L135.6 682.3 L136 680.7 L136.4 679.2 L136.8 677.8 L137.2 676.4 L137.7 675.1 L138.1 673.9 L138.5 672.8 L138.9 671.7 L139.4 670.6 L139.8 669.6 L140.2 668.7 L140.6 667.7 L141 666.8 L141.5 665.9 L141.9 665.1 L142.3 664.3 L142.7 663.5 L143.1 662.8 L143.6 662.1 L144 661.5 L144.4 660.9 L144.8 660.3 L145.3 659.7 L145.7 659.2 L146.1 658.7 L146.5 658.2 L146.9 657.8 L147.4 657.3 L147.8 656.9 L148.2 656.5 L148.6 656.1 L149.1 655.7 L149.5 655.3 L149.9 654.9 L150.3 654.6 L150.7 654.2 L151.2 653.9 L151.6 653.6 L152 653.3 L152.4 653.1 L152.8 652.8 L153.3 652.6 L153.7 652.4 L154.1 652.2 L154.5 652 L155 651.9 L155.4 651.7 L155.8 651.5 L156.2 651.4 L156.6 651.3 L157.1 651.1 L157.5 651 L157.9 650.8 L158.3 650.6 L158.8 650.5 L159.2 650.3 L159.6 650.1 L160 649.9 L160.4 649.8 L160.9 649.6 L161.3 649.4 L161.7 649.2 L162.1 649 L162.5 648.8 L163 648.6 L163.4 648.4 L163.8 648.2 L164.2 648 L164.7 647.9 L165.1 647.7 L165.5 647.5 L165.9 647.4 L166.3 647.2 L166.8 647.1 L167.2 646.9 L167.6 646.7 L168 646.6 L168.5 646.4 L168.9 646.2 L169.3 646 L169.7 645.8 L170.1 645.5 L170.6 645.3 L171 645 L171.4 644.8 L171.8 644.5 L172.2 644.2 L172.7 643.9 L173.1 643.6 L173.5 643.3 L173.9 643 L174.4 642.7 L174.8 642.3 L175.2 642 L175.6 641.7 L176 641.4 L176.5 641.1 L176.9 640.8 L177.3 640.5 L177.7 640.2 L178.2 639.9 L178.6 639.6 L179 639.3 L179.4 639.1 L179.8 638.8 L180.3 638.6 L180.7 638.4 L181.1 638.2 L181.5 638 L181.9 637.8 L182.4 637.6 L182.8 637.5 L183.2 637.3 L183.6 637.2 L184.1 637 L184.5 636.9 L184.9 636.7 L185.3 636.6 L185.7 636.4 L186.2 636.3 L186.6 636.1 L187 636 L187.4 635.8 L187.9 635.7 L188.3 635.5 L188.7 635.4 L189.1 635.2 L189.5 635.1 L190 634.9 L190.4 634.8 L190.8 634.6 L191.2 634.5 L191.6 634.3 L192.1 634.2 L192.5 634 L192.9 633.9 L193.3 633.8 L193.8 633.6 L194.2 633.5 L194.6 633.3 L195 633.2 L195.4 633.1 L195.9 633 L196.3 632.9 L196.7 632.8 L197.1 632.7 L197.6 632.6 L198 632.5 L198.4 632.4 L198.8 632.4 L199.2 632.3 L199.7 632.3 L200.1 632.2 L200.5 632.2 L200.9 632.1 L201.3 632.1 L201.8 632.1 L202.2 632 L202.6 632 L203 632 L203.5 631.9 L203.9 631.9 L204.3 631.9 L204.7 631.8 L205.1 631.8 L205.6 631.8 L206 631.7 L206.4 631.7 L206.8 631.7 L207.3 631.6 L207.7 631.6 L208.1 631.6 L208.5 631.6 L208.9 631.5 L209.4 631.5 L209.8 631.5 L210.2 631.5 L210.6 631.5 L211 631.5 L211.5 631.5 L211.9 631.6 L212.3 631.6 L212.7 631.6 L213.2 631.7 L213.6 631.7 L214 631.7 L214.4 631.8 L214.8 631.8 L215.3 631.8 L215.7 631.9 L216.1 631.9 L216.5 631.9 L216.9 632 L217.4 632 L217.8 632 L218.2 632 L218.6 632 L219.1 632 L219.5 632 L219.9 632 L220.3 632 L220.7 631.9 L221.2 631.9 L221.6 631.9 L222 631.8 L222.4 631.8 L222.9 631.7 L223.3 631.7 L223.7 631.6 L224.1 631.6 L224.5 631.6 L225 631.5 L225.4 631.5 L225.8 631.5 L226.2 631.5 L226.6 631.5 L227.1 631.5 L227.5 631.5 L227.9 631.5 L228.3 631.5 L228.8 631.5 L229.2 631.5 L229.6 631.5 L230 631.5 L230.4 631.6 L230.9 631.6 L231.3 631.6 L231.7 631.6 L232.1 631.7 L232.6 631.7 L233 631.7 L233.4 631.8 L233.8 631.8 L234.2 631.9 L234.7 631.9 L235.1 632 L235.5 632 L235.9 632.1 L236.3 632.1 L236.8 632.2 L237.2 632.2 L237.6 632.3 L238 632.4 L238.5 632.4 L238.9 632.5 L239.3 632.5 L239.7 632.6 L240.1 632.7 L240.6 632.7 L241 632.8 L241.4 632.9 L241.8 632.9 L242.3 633 L242.7 633.1 L243.1 633.1 L243.5 633.2 L243.9 633.3 L244.4 633.4 L244.8 633.4 L245.2 633.5 L245.6 633.6 L246 633.6 L246.5 633.7 L246.9 633.7 L247.3 633.8 L247.7 633.9 L248.2 633.9 L248.6 634 L249 634.1 L249.4 634.1 L249.8 634.2 L250.3 634.2 L250.7 634.3 L251.1 634.3 L251.5 634.4 L252 634.4 L252.4 634.5 L252.8 634.5 L253.2 634.6 L253.6 634.6 L254.1 634.7 L254.5 634.7 L254.9 634.8 L255.3 634.8 L255.7 634.9 L256.2 634.9 L256.6 635 L257 635 L257.4 635.1 L257.9 635.1 L258.3 635.1 L258.7 635.2 L259.7 635.3 L260.7 635.4 L261.7 635.4 L262.6 635.5 L263.6 635.6 L264.6 635.7 L265.6 635.8 L266.6 635.8 L267.6 635.9 L268.5 636 L269.5 636 L270.5 636.1 L271.5 636.1 L272.5 636.2 L273.5 636.3 L274.4 636.3 L275.4 636.4 L276.4 636.4 L277.4 636.5 L278.4 636.5 L279.4 636.6 L280.3 636.6 L281.3 636.7 L282.3 636.8 L283.3 636.8 L284.3 636.9 L285.3 636.9 L286.3 637 L287.2 637 L288.2 637.1 L289.2 637.1 L290.2 637.1 L291.2 637.2 L292.2 637.2 L293.1 637.3 L294.1 637.3 L295.1 637.4 L296.1 637.4 L297.1 637.5 L298.1 637.5 L299 637.6 L300 637.7 L301 637.7 L302 637.8 L303 637.8 L304 637.9 L304.9 637.9 L305.9 638 L306.9 638 L307.9 638.1 L308.9 638.2 L309.9 638.2 L310.9 638.3 L311.8 638.3 L312.8 638.4 L313.8 638.5 L314.8 638.5 L315.8 638.6 L316.8 638.6 L317.7 638.6 L318.7 638.6 L319.7 638.7 L320.7 638.7 L321.7 638.6 L322.7 638.6 L323.6 638.6 L324.6 638.6 L325.6 638.5 L326.6 638.5 L327.6 638.5 L328.6 638.4 L329.5 638.4 L330.5 638.3 L331.5 638.3 L332.5 638.2 L333.5 638.2 L334.5 638.1 L335.5 638 L336.4 638 L337.4 637.9 L338.4 637.9 L339.4 637.9 L340.4 637.8 L341.4 637.8 L342.3 637.7 L343.3 637.7 L344.3 637.6 L345.3 637.6 L346.3 637.6 L347.3 637.5 L348.2 637.5 L349.2 637.5 L350.2 637.4 L351.2 637.4 L352.2 637.4 L353.2 637.3 L354.1 637.3 L355.1 637.3 L356.1 637.3 L357.1 637.2 L358.1 637.2 L359.1 637.2 L360.1 637.2 L361 637.1 L362 637.1 L363 637.1 L364 637.1 L365 637 L366 637 L366.9 637 L367.9 637 L368.9 636.9 L369.9 636.9 L370.9 636.9 L371.9 636.9 L372.8 636.9 L373.8 636.8 L374.8 636.8 L375.8 636.8 L376.8 636.8 L377.8 636.8 L378.7 636.7 L379.7 636.7 L380.7 636.7 L381.7 636.7 L382.7 636.7 L383.7 636.7 L384.7 636.6 L385.6 636.6 L386.6 636.6 L387.6 636.6 L388.6 636.6 L389.6 636.6 L390.6 636.5 L391.5 636.5 L392.5 636.5 L393.5 636.5 L394.5 636.5 L395.5 636.5 L396.5 636.5 L397.4 636.4 L398.4 636.4 L399.4 636.4 L400.4 636.4 L401.4 636.4 L402.4 636.4 L403.3 636.4 L404.3 636.3 L405.3 636.3 L406.3 636.3 L407.3 636.3 L408.3 636.3 L409.3 636.3 L410.2 636.3 L411.2 636.2 L412.2 636.2 L413.2 636.2 L414.2 636.2 L415.2 636.2 L416.1 636.2 L417.1 636.2 L418.1 636.2 L419.1 636.2 L420.1 636.1 L421.1 636.1 L422 636.1 L423 636.1 L424 636.1 L425 636.1 L426 636.1 L427 636.1 L427.9 636.1 L428.9 636 L429.9 636 L430.9 636 L431.9 636 L432.9 636 L433.9 636 L434.8 636 L435.8 636 L436.8 636 L437.8 636 L438.8 636 L439.8 635.9 L440.7 635.9 L441.7 635.9 L442.7 635.9 L443.7 635.9 L444.7 635.9 L445.7 635.9 L446.6 635.9 L447.6 635.9 L448.6 635.9 L449.6 635.9 L450.6 635.9 L451.6 635.8 L452.5 635.8 L453.5 635.8 L454.5 635.8 L455.5 635.8 L456.5 635.8 L457.5 635.8 L458.5 635.8 L459.4 635.8 L460.4 635.8 L461.4 635.8 L462.4 635.8 L463.4 635.8 L464.4 635.7 L465.3 635.7 L466.3 635.7 L467.3 635.7 L468.3 635.7 L469.3 635.7 L470.3 635.7 L471.2 635.7 L472.2 635.7 L473.2 635.7 L474.2 635.7 L475.2 635.7 L476.2 635.7 L477.2 635.7 L478.1 635.7 L479.1 635.6 L480.1 635.6 L481.1 635.6 L482.1 635.6 L483.1 635.6 L484 635.6 L485 635.6 L486 635.6 L487 635.6 L488 635.6 L489 635.6 L489.9 635.6 L490.9 635.6 L491.9 635.6 L492.9 635.6 L493.9 635.6 L494.9 635.6 L495.8 635.6 L496.8 635.5 L497.8 635.5 L498.8 635.5 L499.8 635.5 L500.8 635.5 L501.8 635.5 L502.7 635.5 L503.7 635.5 L504.7 635.5 L505.7 635.5 L506.7 635.5 L507.7 635.5 L508.6 635.5 L509.6 635.5 L510.6 635.5 L511.6 635.5 L512.6 635.5 L513.6 635.5 L514.5 635.5 L515.5 635.5 L516.5 635.5 L517.5 635.5 L518.5 635.5 L519.5 635.4 L520.4 635.4 L521.4 635.4 L522.4 635.4 L523.4 635.4 L524.4 635.4 L525.4 635.4 L526.4 635.4 L527.3 635.4 L528.3 635.4 L529.3 635.4 L530.3 635.4 L531.3 635.4 L532.3 635.4 L533.2 635.4 L534.2 635.4 L535.2 635.4 L536.2 635.4 L537.2 635.4 L538.2 635.4 L539.1 635.4 L540.1 635.4 L541.1 635.4 L542.1 635.4 L543.1 635.4 L544.1 635.4 L545 635.4 L546 635.4 L547 635.4 L548 635.4 L549 635.3 L550 635.3 L551 635.3 L551.9 635.3 L552.9 635.3 L553.9 635.3 L554.9 635.3 L555.9 635.3 L556.9 635.3 L557.8 635.3 L558.8 635.3 L559.8 635.3 L560.8 635.3 L561.8 635.3 L562.8 635.3 L563.7 635.3 L564.7 635.3 L565.7 635.3 L566.7 635.3 L567.7 635.3 L568.7 635.3 L569.6 635.3 L570.6 635.3 L571.6 635.3 L572.6 635.3 L573.6 635.3 L574.6 635.3 L575.6 635.3 L576.5 635.3 L577.5 635.3 L578.5 635.3 L579.5 635.3 L580.5 635.3 L581.5 635.3 L582.4 635.3 L583.4 635.3 L584.4 635.3 L585.4 635.3 L586.4 635.3 L587.4 635.3 L588.3 635.3 L589.3 635.3 L590.3 635.3 L591.3 635.3 L592.3 635.3 L593.3 635.3 L594.2 635.3 L595.2 635.3 L596.2 635.3 L597.2 635.3 L598.2 635.3 L599.2 635.3 L600.2 635.2 L601.1 635.2 L602.1 635.2 L603.1 635.2 L604.1 635.2 L605.1 635.2 L606.1 635.2 L607 635.2 L608 635.2 L609 635.2 L610 635.2 L611 635.2 L612 635.2 L612.9 635.2 L613.9 635.2 L614.9 635.2 L615.9 635.2 L616.9 635.2 L617.9 635.2 L618.8 635.2 L619.8 635.2 L620.8 635.2 L621.8 635.2 L622.8 635.2 L623.8 635.2 L624.8 635.2 L625.7 635.2 L626.7 635.2 L627.7 635.2 L628.7 635.2 L629.7 635.2 L630.7 635.2 L631.6 635.2 L632.6 635.2 L633.6 635.2 L634.6 635.2 L635.6 635.2 L636.6 635.2 L637.5 635.2 L638.5 635.2 L639.5 635.2 L640.5 635.2 L641.5 635.2 L642.5 635.2 L643.4 635.2 L644.4 635.2 L645.4 635.2 L646.4 635.2 L647.4 635.2 L648.4 635.2 L649.4 635.2 L650.3 635.2 L651.3 635.2 L652.3 635.2 L653.3 635.2 L654.3 635.2 L655.3 635.2 L656.2 635.2 L657.2 635.2 L658.2 635.2 L659.2 635.2 L660.2 635.2 L661.2 635.2 L662.1 635.2 L663.1 635.2 L664.1 635.2 L665.1 635.2 L666.1 635.2 L667.1 635.2 L668 635.2 L669 635.2 L670 635.2 L671 635.2" stroke="#ffd500"/>
<path d="M82 635.2 L82.4 635.2 L82.8 635.3 L83.3 635.4 L83.7 635.6 L84.1 635.9 L84.5 636.3 L85 636.8 L85.4 637.5 L85.8 638.4 L86.2 639.5 L86.6 640.9 L87.1 642.4 L87.5 644.1 L87.9 646 L88.3 648 L88.7 650.1 L89.2 652.2 L89.6 654.4 L90 656.6 L90.4 658.8 L90.9 661 L91.3 663.1 L91.7 665.1 L92.1 667.1 L92.5 669 L93 670.9 L93.4 672.8 L93.8 674.6 L94.2 676.4 L94.7 678.3 L95.1 680.2 L95.5 682.1 L95.9 684.1 L96.3 686.1 L96.8 688.2 L97.2 690.4 L97.6 692.7 L98 695.1 L98.4 697.6 L98.9 700.1 L99.3 702.8 L99.7 705.5 L100.1 708.2 L100.6 711.1 L101 713.9 L101.4 716.8 L101.8 719.6 L102.2 722.5 L102.7 725.4 L103.1 728.2 L103.5 731 L103.9 733.7 L104.4 736.3 L104.8 738.7 L105.2 741 L105.6 742.9 L106 744.6 L106.5 746 L106.9 747.2 L107.3 748.1 L107.7 748.9 L108.1 749.5 L108.6 750 L109 750.5 L109.4 750.9 L109.8 751.3 L110.3 751.7 L110.7 752 L111.1 752.3 L111.5 752.5 L111.9 752.6 L112.4 752.5 L112.8 752.4 L113.2 752.1 L113.6 751.8 L114.1 751.4 L114.5 751 L114.9 750.5 L115.3 750.1 L115.7 749.6 L116.2 749 L116.6 748.4 L117 747.7 L117.4 746.8 L117.8 745.8 L118.3 744.7 L118.7 743.4 L119.1 741.8 L119.5 740.2 L120 738.4 L120.4 736.5 L120.8 734.6 L121.2 732.6 L121.6 730.7 L122.1 728.8 L122.5 727.1 L122.9 725.4 L123.3 723.7 L123.8 722.1 L124.2 720.6 L124.6 719.1 L125 717.6 L125.4 716.1 L125.9 714.6 L126.3 713.1 L126.7 711.7 L127.1 710.2 L127.5 708.7 L128 707.2 L128.4 705.6 L128.8 704.1 L129.2 702.6 L129.7 701 L130.1 699.4 L130.5 697.9 L130.9 696.3 L131.3 694.7 L131.8 693.1 L132.2 691.5 L132.6 690 L133 688.4 L133.4 686.9 L133.9 685.3 L134.3 683.7 L134.7 682.1 L135.1 680.5 L135.6 678.8 L136 677.1 L136.4 675.3 L136.8 673.6 L137.2 671.8 L137.7 670.1 L138.1 668.4 L138.5 666.8 L138.9 665.2 L139.4 663.6 L139.8 662.2 L140.2 660.9 L140.6 659.6 L141 658.4 L141.5 657.3 L141.9 656.2 L142.3 655.2 L142.7 654.3 L143.1 653.4 L143.6 652.5 L144 651.7 L144.4 651 L144.8 650.3 L145.3 649.6 L145.7 649 L146.1 648.4 L146.5 647.8 L146.9 647.3 L147.4 646.8 L147.8 646.4 L148.2 645.9 L148.6 645.5 L149.1 645.2 L149.5 644.8 L149.9 644.5 L150.3 644.2 L150.7 643.9 L151.2 643.7 L151.6 643.4 L152 643.2 L152.4 643 L152.8 642.9 L153.3 642.7 L153.7 642.5 L154.1 642.4 L154.5 642.2 L155 642.1 L155.4 642 L155.8 641.9 L156.2 641.8 L156.6 641.7 L157.1 641.6 L157.5 641.5 L157.9 641.4 L158.3 641.3 L158.8 641.3 L159.2 641.2 L159.6 641.1 L160 641 L160.4 641 L160.9 640.9 L161.3 640.8 L161.7 640.8 L162.1 640.7 L162.5 640.6 L163 640.6 L163.4 640.5 L163.8 640.5 L164.2 640.4 L164.7 640.4 L165.1 640.4 L165.5 640.3 L165.9 640.3 L166.3 640.3 L166.8 640.2 L167.2 640.2 L167.6 640.2 L168 640.1 L168.5 640.1 L168.9 640.1 L169.3 640.1 L169.7 640.1 L170.1 640 L170.6 640 L171 640 L171.4 640 L171.8 640 L172.2 640 L172.7 639.9 L173.1 639.9 L173.5 639.9 L173.9 639.9 L174.4 639.9 L174.8 639.9 L175.2 639.9 L175.6 639.9 L176 639.9 L176.5 639.9 L176.9 639.9 L177.3 639.8 L177.7 639.8 L178.2 639.9 L178.6 639.9 L179 639.9 L179.4 639.9 L179.8 639.9 L180.3 639.9 L180.7 639.9 L181.1 640 L181.5 640 L181.9 640 L182.4 640.1 L182.8 640.1 L183.2 640.2 L183.6 640.2 L184.1 640.3 L184.5 640.3 L184.9 640.4 L185.3 640.4 L185.7 640.5 L186.2 640.5 L186.6 640.6 L187 640.6 L187.4 640.7 L187.9 640.7 L188.3 640.7 L188.7 640.8 L189.1 640.8 L189.5 640.9 L190 640.9 L190.4 640.9 L190.8 641 L191.2 641 L191.6 641 L192.1 641.1 L192.5 641.1 L192.9 641.1 L193.3 641.1 L193.8 641.2 L194.2 641.2 L194.6 641.2 L195 641.2 L195.4 641.2 L195.9 641.3 L196.3 641.3 L196.7 641.3 L197.1 641.3 L197.6 641.3 L198 641.4 L198.4 641.4 L198.8 641.4 L199.2 641.4 L199.7 641.5 L200.1 641.5 L200.5 641.5 L200.9 641.5 L201.3 641.5 L201.8 641.6 L202.2 641.6 L202.6 641.6 L203 641.6 L203.5 641.6 L203.9 641.7 L204.3 641.7 L204.7 641.7 L205.1 641.7 L205.6 641.7 L206 641.8 L206.4 641.8 L206.8 641.8 L207.3 641.8 L207.7 641.8 L208.1 641.8 L208.5 641.8 L208.9 641.8 L209.4 641.9 L209.8 641.9 L210.2 641.9 L210.6 641.9 L211 641.9 L211.5 641.9 L211.9 641.9 L212.3 641.9 L212.7 641.9 L213.2 641.9 L213.6 641.9 L214 641.9 L214.4 641.9 L214.8 641.9 L215.3 641.9 L215.7 641.9 L216.1 641.9 L216.5 641.9 L216.9 641.9 L217.4 641.9 L217.8 641.9 L218.2 641.9 L218.6 641.9 L219.1 641.9 L219.5 641.9 L219.9 641.9 L220.3 641.9 L220.7 641.9 L221.2 641.9 L221.6 641.9 L222 641.9 L222.4 641.9 L222.9 641.9 L223.3 641.9 L223.7 641.9 L224.1 641.9 L224.5 641.9 L225 641.9 L225.4 641.9 L225.8 641.9 L226.2 641.9 L226.6 641.9 L227.1 641.9 L227.5 641.9 L227.9 641.9 L228.3 641.8 L228.8 641.8 L229.2 641.8 L229.6 641.8 L230 641.8 L230.4 641.8 L230.9 641.8 L231.3 641.8 L231.7 641.8 L232.1 641.8 L232.6 641.8 L233 641.8 L233.4 641.8 L233.8 641.8 L234.2 641.8 L234.7 641.8 L235.1 641.8 L235.5 641.8 L235.9 641.8 L236.3 641.7 L236.8 641.7 L237.2 641.7 L237.6 641.7 L238 641.7 L238.5 641.7 L238.9 641.7 L239.3 641.7 L239.7 641.7 L240.1 641.7 L240.6 641.7 L241 641.7 L241.4 641.7 L241.8 641.7 L242.3 641.7 L242.7 641.7 L243.1 641.7 L243.5 641.7 L243.9 641.7 L244.4 641.7 L244.8 641.7 L245.2 641.7 L245.6 641.7 L246 641.7 L246.5 641.8 L246.9 641.8 L247.3 641.8 L247.7 641.8 L248.2 641.8 L248.6 641.8 L249 641.8 L249.4 641.8 L249.8 641.8 L250.3 641.8 L250.7 641.8 L251.1 641.8 L251.5 641.8 L252 641.8 L252.4 641.8 L252.8 641.8 L253.2 641.8 L253.6 641.8 L254.1 641.8 L254.5 641.8 L254.9 641.8 L255.3 641.8 L255.7 641.8 L256.2 641.8 L256.6 641.8 L257 641.8 L257.4 641.8 L257.9 641.8 L258.3 641.8 L258.7 641.8 L259.7 641.8 L260.7 641.8 L261.7 641.8 L262.6 641.7 L263.6 641.7 L264.6 641.7 L265.6 641.6 L266.6 641.6 L267.6 641.6 L268.5 641.5 L269.5 641.5 L270.5 641.4 L271.5 641.4 L272.5 641.3 L273.5 641.3 L274.4 641.2 L275.4 641.2 L276.4 641.1 L277.4 641.1 L278.4 641 L279.4 641 L280.3 640.9 L281.3 640.9 L282.3 640.9 L283.3 640.8 L284.3 640.8 L285.3 640.7 L286.3 640.7 L287.2 640.7 L288.2 640.6 L289.2 640.6 L290.2 640.6 L291.2 640.5 L292.2 640.5 L293.1 640.5 L294.1 640.4 L295.1 640.4 L296.1 640.4 L297.1 640.4 L298.1 640.3 L299 640.3 L300 640.3 L301 640.2 L302 640.2 L303 640.2 L304 640.1 L304.9 640.1 L305.9 640.1 L306.9 640 L307.9 640 L308.9 640 L309.9 639.9 L310.9 639.9 L311.8 639.9 L312.8 639.8 L313.8 639.8 L314.8 639.8 L315.8 639.7 L316.8 639.7 L317.7 639.7 L318.7 639.7 L319.7 639.6 L320.7 639.6 L321.7 639.6 L322.7 639.6 L323.6 639.6 L324.6 639.5 L325.6 639.5 L326.6 639.5 L327.6 639.5 L328.6 639.5 L329.5 639.5 L330.5 639.5 L331.5 639.5 L332.5 639.5 L333.5 639.5 L334.5 639.5 L335.5 639.4 L336.4 639.4 L337.4 639.4 L338.4 639.4 L339.4 639.4 L340.4 639.4 L341.4 639.4 L342.3 639.4 L343.3 639.4 L344.3 639.4 L345.3 639.4 L346.3 639.4 L347.3 639.4 L348.2 639.4 L349.2 639.4 L350.2 639.4 L351.2 639.4 L352.2 639.4 L353.2 639.4 L354.1 639.4 L355.1 639.4 L356.1 639.4 L357.1 639.4 L358.1 639.4 L359.1 639.4 L360.1 639.3 L361 639.3 L362 639.3 L363 639.3 L364 639.3 L365 639.3 L366 639.3 L366.9 639.3 L367.9 639.2 L368.9 639.2 L369.9 639.2 L370.9 639.2 L371.9 639.2 L372.8 639.2 L373.8 639.2 L374.8 639.1 L375.8 639.1 L376.8 639.1 L377.8 639.1 L378.7 639.1 L379.7 639 L380.7 639 L381.7 639 L382.7 639 L383.7 639 L384.7 639 L385.6 638.9 L386.6 638.9 L387.6 638.9 L388.6 638.9 L389.6 638.9 L390.6 638.8 L391.5 638.8 L392.5 638.8 L393.5 638.8 L394.5 638.8 L395.5 638.8 L396.5 638.7 L397.4 638.7 L398.4 638.7 L399.4 638.7 L400.4 638.7 L401.4 638.7 L402.4 638.7 L403.3 638.6 L404.3 638.6 L405.3 638.6 L406.3 638.6 L407.3 638.6 L408.3 638.6 L409.3 638.5 L410.2 638.5 L411.2 638.5 L412.2 638.5 L413.2 638.5 L414.2 638.5 L415.2 638.5 L416.1 638.4 L417.1 638.4 L418.1 638.4 L419.1 638.4 L420.1 638.4 L421.1 638.4 L422 638.4 L423 638.4 L424 638.3 L425 638.3 L426 638.3 L427 638.3 L427.9 638.3 L428.9 638.3 L429.9 638.3 L430.9 638.2 L431.9 638.2 L432.9 638.2 L433.9 638.2 L434.8 638.2 L435.8 638.2 L436.8 638.2 L437.8 638.2 L438.8 638.1 L439.8 638.1 L440.7 638.1 L441.7 638.1 L442.7 638.1 L443.7 638.1 L444.7 638.1 L445.7 638.1 L446.6 638 L447.6 638 L448.6 638 L449.6 638 L450.6 638 L451.6 638 L452.5 638 L453.5 638 L454.5 637.9 L455.5 637.9 L456.5 637.9 L457.5 637.9 L458.5 637.9 L459.4 637.9 L460.4 637.9 L461.4 637.9 L462.4 637.8 L463.4 637.8 L464.4 637.8 L465.3 637.8 L466.3 637.8 L467.3 637.8 L468.3 637.8 L469.3 637.8 L470.3 637.7 L471.2 637.7 L472.2 637.7 L473.2 637.7 L474.2 637.7 L475.2 637.7 L476.2 637.7 L477.2 637.6 L478.1 637.6 L479.1 637.6 L480.1 637.6 L481.1 637.6 L482.1 637.6 L483.1 637.6 L484 637.5 L485 637.5 L486 637.5 L487 637.5 L488 637.5 L489 637.5 L489.9 637.4 L490.9 637.4 L491.9 637.4 L492.9 637.4 L493.9 637.4 L494.9 637.4 L495.8 637.3 L496.8 637.3 L497.8 637.3 L498.8 637.3 L499.8 637.3 L500.8 637.3 L501.8 637.2 L502.7 637.2 L503.7 637.2 L504.7 637.2 L505.7 637.2 L506.7 637.2 L507.7 637.1 L508.6 637.1 L509.6 637.1 L510.6 637.1 L511.6 637.1 L512.6 637 L513.6 637 L514.5 637 L515.5 637 L516.5 637 L517.5 636.9 L518.5 636.9 L519.5 636.9 L520.4 636.9 L521.4 636.9 L522.4 636.8 L523.4 636.8 L524.4 636.8 L525.4 636.8 L526.4 636.8 L527.3 636.8 L528.3 636.7 L529.3 636.7 L530.3 636.7 L531.3 636.7 L532.3 636.7 L533.2 636.6 L534.2 636.6 L535.2 636.6 L536.2 636.6 L537.2 636.6 L538.2 636.5 L539.1 636.5 L540.1 636.5 L541.1 636.5 L542.1 636.5 L543.1 636.5 L544.1 636.4 L545 636.4 L546 636.4 L547 636.4 L548 636.4 L549 636.4 L550 636.3 L551 636.3 L551.9 636.3 L552.9 636.3 L553.9 636.3 L554.9 636.3 L555.9 636.2 L556.9 636.2 L557.8 636.2 L558.8 636.2 L559.8 636.2 L560.8 636.2 L561.8 636.2 L562.8 636.1 L563.7 636.1 L564.7 636.1 L565.7 636.1 L566.7 636.1 L567.7 636.1 L568.7 636.1 L569.6 636.1 L570.6 636 L571.6 636 L572.6 636 L573.6 636 L574.6 636 L575.6 636 L576.5 636 L577.5 636 L578.5 636 L579.5 635.9 L580.5 635.9 L581.5 635.9 L582.4 635.9 L583.4 635.9 L584.4 635.9 L585.4 635.9 L586.4 635.9 L587.4 635.9 L588.3 635.9 L589.3 635.8 L590.3 635.8 L591.3 635.8 L592.3 635.8 L593.3 635.8 L594.2 635.8 L595.2 635.8 L596.2 635.8 L597.2 635.8 L598.2 635.8 L599.2 635.8 L600.2 635.8 L601.1 635.8 L602.1 635.7 L603.1 635.7 L604.1 635.7 L605.1 635.7 L606.1 635.7 L607 635.7 L608 635.7 L609 635.7 L610 635.7 L611 635.7 L612 635.7 L612.9 635.7 L613.9 635.7 L614.9 635.7 L615.9 635.7 L616.9 635.7 L617.9 635.7 L618.8 635.6 L619.8 635.6 L620.8 635.6 L621.8 635.6 L622.8 635.6 L623.8 635.6 L624.8 635.6 L625.7 635.6 L626.7 635.6 L627.7 635.6 L628.7 635.6 L629.7 635.6 L630.7 635.6 L631.6 635.6 L632.6 635.6 L633.6 635.6 L634.6 635.6 L635.6 635.6 L636.6 635.6 L637.5 635.6 L638.5 635.6 L639.5 635.6 L640.5 635.6 L641.5 635.6 L642.5 635.5 L643.4 635.5 L644.4 635.5 L645.4 635.5 L646.4 635.5 L647.4 635.5 L648.4 635.5 L649.4 635.5 L650.3 635.5 L651.3 635.5 L652.3 635.5 L653.3 635.5 L654.3 635.5 L655.3 635.5 L656.2 635.5 L657.2 635.5 L658.2 635.5 L659.2 635.5 L660.2 635.5 L661.2 635.5 L662.1 635.5 L663.1 635.5 L664.1 635.5 L665.1 635.5 L666.1 635.5 L667.1 635.5 L668 635.5 L669 635.5 L670 635.5 L671 635.5" stroke="#ff00ff"/>
<path d="M82 635.2 L82.4 635.5 L82.8 635.9 L83.3 636.2 L83.7 636.6 L84.1 636.9 L84.5 637.3 L85 637.7 L85.4 638.1 L85.8 638.5 L86.2 639 L86.6 639.5 L87.1 640 L87.5 640.5 L87.9 641.1 L88.3 641.8 L88.7 642.4 L89.2 643.2 L89.6 643.9 L90 644.8 L90.4 645.7 L90.9 646.7 L91.3 647.7 L91.7 648.8 L92.1 650 L92.5 651.2 L93 652.5 L93.4 653.9 L93.8 655.3 L94.2 656.7 L94.7 658.3 L95.1 659.9 L95.5 661.5 L95.9 663.2 L96.3 664.9 L96.8 666.7 L97.2 668.6 L97.6 670.4 L98 672.4 L98.4 674.3 L98.9 676.4 L99.3 678.4 L99.7 680.5 L100.1 682.7 L100.6 684.9 L101 687.1 L101.4 689.4 L101.8 691.7 L102.2 694 L102.7 696.3 L103.1 698.5 L103.5 700.8 L103.9 702.9 L104.4 704.9 L104.8 706.8 L105.2 708.7 L105.6 710.6 L106 712.5 L106.5 714.3 L106.9 716.2 L107.3 718.2 L107.7 720.3 L108.1 722.5 L108.6 724.8 L109 727.2 L109.4 729.7 L109.8 732.2 L110.3 734.6 L110.7 737.1 L111.1 739.4 L111.5 741.7 L111.9 743.7 L112.4 745.6 L112.8 747.4 L113.2 748.9 L113.6 750.4 L114.1 751.7 L114.5 752.8 L114.9 753.9 L115.3 754.9 L115.7 755.8 L116.2 756.7 L116.6 757.5 L117 758.2 L117.4 759 L117.8 759.7 L118.3 760.4 L118.7 761 L119.1 761.6 L119.5 762.1 L120 762.6 L120.4 763.1 L120.8 763.5 L121.2 763.8 L121.6 764.1 L122.1 764.3 L122.5 764.4 L122.9 764.4 L123.3 764.4 L123.8 764.3 L124.2 764.2 L124.6 763.9 L125 763.6 L125.4 763.2 L125.9 762.7 L126.3 762.2 L126.7 761.5 L127.1 760.8 L127.5 760 L128 759 L128.4 758 L128.8 756.9 L129.2 755.8 L129.7 754.5 L130.1 753.2 L130.5 751.7 L130.9 750.3 L131.3 748.7 L131.8 747.1 L132.2 745.4 L132.6 743.6 L133 741.8 L133.4 740 L133.9 738.1 L134.3 736.2 L134.7 734.4 L135.1 732.6 L135.6 730.9 L136 729.2 L136.4 727.7 L136.8 726.3 L137.2 724.9 L137.7 723.6 L138.1 722.4 L138.5 721.1 L138.9 719.9 L139.4 718.7 L139.8 717.4 L140.2 716.1 L140.6 714.7 L141 713.2 L141.5 711.8 L141.9 710.2 L142.3 708.7 L142.7 707.2 L143.1 705.6 L143.6 704.1 L144 702.5 L144.4 701 L144.8 699.4 L145.3 697.8 L145.7 696.3 L146.1 694.6 L146.5 693 L146.9 691.3 L147.4 689.6 L147.8 687.8 L148.2 686 L148.6 684.1 L149.1 682.2 L149.5 680.3 L149.9 678.3 L150.3 676.3 L150.7 674.3 L151.2 672.3 L151.6 670.3 L152 668.4 L152.4 666.5 L152.8 664.7 L153.3 662.9 L153.7 661.2 L154.1 659.5 L154.5 657.9 L155 656.3 L155.4 654.7 L155.8 653.2 L156.2 651.8 L156.6 650.3 L157.1 648.9 L157.5 647.6 L157.9 646.3 L158.3 645 L158.8 643.7 L159.2 642.5 L159.6 641.4 L160 640.3 L160.4 639.2 L160.9 638.2 L161.3 637.3 L161.7 636.4 L162.1 635.5 L162.5 634.7 L163 634 L163.4 633.3 L163.8 632.7 L164.2 632 L164.7 631.5 L165.1 630.9 L165.5 630.4 L165.9 629.9 L166.3 629.5 L166.8 629 L167.2 628.6 L167.6 628.2 L168 627.9 L168.5 627.6 L168.9 627.3 L169.3 627 L169.7 626.8 L170.1 626.6 L170.6 626.4 L171 626.3 L171.4 626.2 L171.8 626.1 L172.2 626 L172.7 626 L173.1 626.1 L173.5 626.1 L173.9 626.2 L174.4 626.4 L174.8 626.5 L175.2 626.7 L175.6 626.9 L176 627.1 L176.5 627.3 L176.9 627.5 L177.3 627.7 L177.7 627.9 L178.2 628.2 L178.6 628.4 L179 628.6 L179.4 628.8 L179.8 629 L180.3 629.3 L180.7 629.5 L181.1 629.8 L181.5 630.1 L181.9 630.4 L182.4 630.8 L182.8 631.2 L183.2 631.7 L183.6 632.1 L184.1 632.6 L184.5 633.2 L184.9 633.7 L185.3 634.2 L185.7 634.8 L186.2 635.4 L186.6 635.9 L187 636.5 L187.4 637.1 L187.9 637.6 L188.3 638.2 L188.7 638.7 L189.1 639.3 L189.5 639.8 L190 640.4 L190.4 640.9 L190.8 641.5 L191.2 642 L191.6 642.5 L192.1 643 L192.5 643.5 L192.9 643.9 L193.3 644.4 L193.8 644.8 L194.2 645.3 L194.6 645.7 L195 646.1 L195.4 646.5 L195.9 646.9 L196.3 647.3 L196.7 647.7 L197.1 648 L197.6 648.4 L198 648.7 L198.4 649.1 L198.8 649.4 L199.2 649.7 L199.7 650 L200.1 650.3 L200.5 650.6 L200.9 650.8 L201.3 651.1 L201.8 651.3 L202.2 651.6 L202.6 651.8 L203 652 L203.5 652.2 L203.9 652.4 L204.3 652.6 L204.7 652.7 L205.1 652.9 L205.6 653 L206 653.2 L206.4 653.3 L206.8 653.4 L207.3 653.5 L207.7 653.6 L208.1 653.6 L208.5 653.7 L208.9 653.7 L209.4 653.7 L209.8 653.7 L210.2 653.7 L210.6 653.7 L211 653.7 L211.5 653.6 L211.9 653.6 L212.3 653.5 L212.7 653.4 L213.2 653.3 L213.6 653.2 L214 653.1 L214.4 652.9 L214.8 652.8 L215.3 652.6 L215.7 652.4 L216.1 652.3 L216.5 652.1 L216.9 651.8 L217.4 651.6 L217.8 651.4 L218.2 651.2 L218.6 650.9 L219.1 650.7 L219.5 650.4 L219.9 650.2 L220.3 649.9 L220.7 649.6 L221.2 649.4 L221.6 649.1 L222 648.8 L222.4 648.5 L222.9 648.2 L223.3 647.9 L223.7 647.6 L224.1 647.3 L224.5 647 L225 646.7 L225.4 646.4 L225.8 646.1 L226.2 645.8 L226.6 645.4 L227.1 645.1 L227.5 644.8 L227.9 644.5 L228.3 644.1 L228.8 643.8 L229.2 643.4 L229.6 643.1 L230 642.8 L230.4 642.4 L230.9 642.1 L231.3 641.8 L231.7 641.4 L232.1 641.1 L232.6 640.8 L233 640.4 L233.4 640.1 L233.8 639.8 L234.2 639.5 L234.7 639.2 L235.1 639 L235.5 638.7 L235.9 638.5 L236.3 638.2 L236.8 638 L237.2 637.8 L237.6 637.6 L238 637.4 L238.5 637.2 L238.9 637.1 L239.3 636.9 L239.7 636.8 L240.1 636.6 L240.6 636.5 L241 636.4 L241.4 636.3 L241.8 636.1 L242.3 636 L242.7 635.9 L243.1 635.9 L243.5 635.8 L243.9 635.7 L244.4 635.6 L244.8 635.5 L245.2 635.5 L245.6 635.4 L246 635.3 L246.5 635.3 L246.9 635.2 L247.3 635.2 L247.7 635.1 L248.2 635.1 L248.6 635 L249 635 L249.4 635 L249.8 635 L250.3 634.9 L250.7 634.9 L251.1 634.9 L251.5 634.9 L252 634.9 L252.4 634.8 L252.8 634.8 L253.2 634.8 L253.6 634.8 L254.1 634.8 L254.5 634.8 L254.9 634.9 L255.3 634.9 L255.7 634.9 L256.2 634.9 L256.6 634.9 L257 634.9 L257.4 634.9 L257.9 635 L258.3 635 L258.7 635 L259.7 635.1 L260.7 635.2 L261.7 635.2 L262.6 635.3 L263.6 635.4 L264.6 635.4 L265.6 635.5 L266.6 635.6 L267.6 635.6 L268.5 635.7 L269.5 635.7 L270.5 635.8 L271.5 635.8 L272.5 635.9 L273.5 635.9 L274.4 636 L275.4 636 L276.4 636.1 L277.4 636.1 L278.4 636.1 L279.4 636.2 L280.3 636.2 L281.3 636.2 L282.3 636.3 L283.3 636.3 L284.3 636.3 L285.3 636.4 L286.3 636.4 L287.2 636.4 L288.2 636.4 L289.2 636.5 L290.2 636.5 L291.2 636.5 L292.2 636.5 L293.1 636.5 L294.1 636.6 L295.1 636.6 L296.1 636.6 L297.1 636.6 L298.1 636.6 L299 636.6 L300 636.6 L301 636.6 L302 636.6 L303 636.6 L304 636.6 L304.9 636.6 L305.9 636.6 L306.9 636.6 L307.9 636.6 L308.9 636.6 L309.9 636.6 L310.9 636.5 L311.8 636.5 L312.8 636.5 L313.8 636.5 L314.8 636.5 L315.8 636.4 L316.8 636.4 L317.7 636.4 L318.7 636.4 L319.7 636.3 L320.7 636.3 L321.7 636.3 L322.7 636.2 L323.6 636.2 L324.6 636.2 L325.6 636.2 L326.6 636.1 L327.6 636.1 L328.6 636.1 L329.5 636 L330.5 636 L331.5 636 L332.5 635.9 L333.5 635.9 L334.5 635.9 L335.5 635.8 L336.4 635.8 L337.4 635.8 L338.4 635.7 L339.4 635.7 L340.4 635.7 L341.4 635.7 L342.3 635.6 L343.3 635.6 L344.3 635.6 L345.3 635.6 L346.3 635.6 L347.3 635.5 L348.2 635.5 L349.2 635.5 L350.2 635.5 L351.2 635.5 L352.2 635.5 L353.2 635.5 L354.1 635.5 L355.1 635.5 L356.1 635.5 L357.1 635.5 L358.1 635.5 L359.1 635.5 L360.1 635.5 L361 635.5 L362 635.5 L363 635.5 L364 635.5 L365 635.5 L366 635.5 L366.9 635.6 L367.9 635.6 L368.9 635.6 L369.9 635.6 L370.9 635.6 L371.9 635.6 L372.8 635.6 L373.8 635.7 L374.8 635.7 L375.8 635.7 L376.8 635.7 L377.8 635.7 L378.7 635.7 L379.7 635.8 L380.7 635.8 L381.7 635.8 L382.7 635.8 L383.7 635.8 L384.7 635.8 L385.6 635.8 L386.6 635.9 L387.6 635.9 L388.6 635.9 L389.6 635.9 L390.6 635.9 L391.5 635.9 L392.5 635.9 L393.5 635.9 L394.5 635.9 L395.5 635.9 L396.5 635.9 L397.4 635.9 L398.4 635.9 L399.4 635.9 L400.4 635.9 L401.4 635.9 L402.4 635.8 L403.3 635.8 L404.3 635.8 L405.3 635.8 L406.3 635.8 L407.3 635.8 L408.3 635.8 L409.3 635.8 L410.2 635.7 L411.2 635.7 L412.2 635.7 L413.2 635.7 L414.2 635.7 L415.2 635.6 L416.1 635.6 L417.1 635.6 L418.1 635.6 L419.1 635.6 L420.1 635.5 L421.1 635.5 L422 635.5 L423 635.5 L424 635.5 L425 635.4 L426 635.4 L427 635.4 L427.9 635.4 L428.9 635.3 L429.9 635.3 L430.9 635.3 L431.9 635.3 L432.9 635.3 L433.9 635.2 L434.8 635.2 L435.8 635.2 L436.8 635.2 L437.8 635.1 L438.8 635.1 L439.8 635.1 L440.7 635.1 L441.7 635.1 L442.7 635 L443.7 635 L444.7 635 L445.7 635 L446.6 635 L447.6 635 L448.6 634.9 L449.6 634.9 L450.6 634.9 L451.6 634.9 L452.5 634.9 L453.5 634.8 L454.5 634.8 L455.5 634.8 L456.5 634.8 L457.5 634.8 L458.5 634.8 L459.4 634.7 L460.4 634.7 L461.4 634.7 L462.4 634.7 L463.4 634.7 L464.4 634.7 L465.3 634.7 L466.3 634.6 L467.3 634.6 L468.3 634.6 L469.3 634.6 L470.3 634.6 L471.2 634.6 L472.2 634.6 L473.2 634.6 L474.2 634.5 L475.2 634.5 L476.2 634.5 L477.2 634.5 L478.1 634.5 L479.1 634.5 L480.1 634.5 L481.1 634.5 L482.1 634.5 L483.1 634.4 L484 634.4 L485 634.4 L486 634.4 L487 634.4 L488 634.4 L489 634.4 L489.9 634.4 L490.9 634.4 L491.9 634.4 L492.9 634.4 L493.9 634.4 L494.9 634.3 L495.8 634.3 L496.8 634.3 L497.8 634.3 L498.8 634.3 L499.8 634.3 L500.8 634.3 L501.8 634.3 L502.7 634.3 L503.7 634.3 L504.7 634.3 L505.7 634.3 L506.7 634.3 L507.7 634.3 L508.6 634.3 L509.6 634.3 L510.6 634.3 L511.6 634.2 L512.6 634.2 L513.6 634.2 L514.5 634.2 L515.5 634.2 L516.5 634.2 L517.5 634.2 L518.5 634.2 L519.5 634.2 L520.4 634.2 L521.4 634.2 L522.4 634.2 L523.4 634.2 L524.4 634.2 L525.4 634.2 L526.4 634.2 L527.3 634.2 L528.3 634.2 L529.3 634.2 L530.3 634.2 L531.3 634.2 L532.3 634.2 L533.2 634.2 L534.2 634.2 L535.2 634.2 L536.2 634.2 L537.2 634.2 L538.2 634.2 L539.1 634.2 L540.1 634.2 L541.1 634.2 L542.1 634.2 L543.1 634.2 L544.1 634.2 L545 634.2 L546 634.2 L547 634.2 L548 634.2 L549 634.2 L550 634.2 L551 634.2 L551.9 634.2 L552.9 634.2 L553.9 634.2 L554.9 634.2 L555.9 634.2 L556.9 634.2 L557.8 634.2 L558.8 634.2 L559.8 634.2 L560.8 634.3 L561.8 634.3 L562.8 634.3 L563.7 634.3 L564.7 634.3 L565.7 634.3 L566.7 634.3 L567.7 634.3 L568.7 634.3 L569.6 634.3 L570.6 634.3 L571.6 634.3 L572.6 634.3 L573.6 634.3 L574.6 634.3 L575.6 634.3 L576.5 634.3 L577.5 634.3 L578.5 634.3 L579.5 634.3 L580.5 634.4 L581.5 634.4 L582.4 634.4 L583.4 634.4 L584.4 634.4 L585.4 634.4 L586.4 634.4 L587.4 634.4 L588.3 634.4 L589.3 634.4 L590.3 634.4 L591.3 634.4 L592.3 634.4 L593.3 634.4 L594.2 634.4 L595.2 634.5 L596.2 634.5 L597.2 634.5 L598.2 634.5 L599.2 634.5 L600.2 634.5 L601.1 634.5 L602.1 634.5 L603.1 634.5 L604.1 634.5 L605.1 634.5 L606.1 634.5 L607 634.5 L608 634.6 L609 634.6 L610 634.6 L611 634.6 L612 634.6 L612.9 634.6 L613.9 634.6 L614.9 634.6 L615.9 634.6 L616.9 634.6 L617.9 634.6 L618.8 634.7 L619.8 634.7 L620.8 634.7 L621.8 634.7 L622.8 634.7 L623.8 634.7 L624.8 634.7 L625.7 634.7 L626.7 634.7 L627.7 634.7 L628.7 634.7 L629.7 634.8 L630.7 634.8 L631.6 634.8 L632.6 634.8 L633.6 634.8 L634.6 634.8 L635.6 634.8 L636.6 634.8 L637.5 634.8 L638.5 634.8 L639.5 634.9 L640.5 634.9 L641.5 634.9 L642.5 634.9 L643.4 634.9 L644.4 634.9 L645.4 634.9 L646.4 634.9 L647.4 634.9 L648.4 635 L649.4 635 L650.3 635 L651.3 635 L652.3 635 L653.3 635 L654.3 635 L655.3 635 L656.2 635 L657.2 635 L658.2 635.1 L659.2 635.1 L660.2 635.1 L661.2 635.1 L662.1 635.1 L663.1 635.1 L664.1 635.1 L665.1 635.1 L666.1 635.1 L667.1 635.2 L668 635.2 L669 635.2 L670 635.2 L671 635.2" stroke="#000000"/>
<path d="M82 635.2 L82.4 635.6 L82.8 636 L83.3 636.5 L83.7 637 L84.1 637.7 L84.5 638.4 L85 639.3 L85.4 640.3 L85.8 641.5 L86.2 642.8 L86.6 644.3 L87.1 645.8 L87.5 647.4 L87.9 649.1 L88.3 650.9 L88.7 652.7 L89.2 654.5 L89.6 656.4 L90 658.3 L90.4 660.1 L90.9 662 L91.3 663.8 L91.7 665.5 L92.1 667.3 L92.5 669.1 L93 670.9 L93.4 672.7 L93.8 674.5 L94.2 676.4 L94.7 678.4 L95.1 680.4 L95.5 682.6 L95.9 684.9 L96.3 687.2 L96.8 689.8 L97.2 692.4 L97.6 695.3 L98 698.2 L98.4 701.2 L98.9 704.3 L99.3 707.5 L99.7 710.7 L100.1 713.9 L100.6 717.2 L101 720.5 L101.4 723.7 L101.8 726.9 L102.2 730.1 L102.7 733.1 L103.1 736.1 L103.5 738.8 L103.9 741.4 L104.4 743.8 L104.8 745.8 L105.2 747.7 L105.6 749.3 L106 750.7 L106.5 751.9 L106.9 752.9 L107.3 753.8 L107.7 754.6 L108.1 755.3 L108.6 756 L109 756.5 L109.4 757.1 L109.8 757.5 L110.3 757.9 L110.7 758.2 L111.1 758.5 L111.5 758.7 L111.9 758.8 L112.4 758.9 L112.8 758.9 L113.2 758.8 L113.6 758.6 L114.1 758.4 L114.5 758 L114.9 757.7 L115.3 757.2 L115.7 756.6 L116.2 756 L116.6 755.4 L117 754.6 L117.4 753.8 L117.8 752.9 L118.3 752 L118.7 751 L119.1 749.9 L119.5 748.8 L120 747.6 L120.4 746.4 L120.8 745.1 L121.2 743.8 L121.6 742.4 L122.1 740.9 L122.5 739.5 L122.9 738 L123.3 736.5 L123.8 735 L124.2 733.5 L124.6 732 L125 730.6 L125.4 729.2 L125.9 727.8 L126.3 726.5 L126.7 725.2 L127.1 724 L127.5 722.8 L128 721.5 L128.4 720.3 L128.8 719.1 L129.2 717.9 L129.7 716.6 L130.1 715.3 L130.5 714 L130.9 712.7 L131.3 711.3 L131.8 709.9 L132.2 708.5 L132.6 707.1 L133 705.7 L133.4 704.3 L133.9 702.9 L134.3 701.5 L134.7 700.1 L135.1 698.7 L135.6 697.4 L136 696 L136.4 694.7 L136.8 693.4 L137.2 692.1 L137.7 690.9 L138.1 689.7 L138.5 688.6 L138.9 687.5 L139.4 686.4 L139.8 685.4 L140.2 684.4 L140.6 683.5 L141 682.6 L141.5 681.8 L141.9 680.9 L142.3 680.1 L142.7 679.4 L143.1 678.6 L143.6 677.9 L144 677.2 L144.4 676.4 L144.8 675.7 L145.3 675 L145.7 674.3 L146.1 673.7 L146.5 673 L146.9 672.3 L147.4 671.7 L147.8 671 L148.2 670.4 L148.6 669.8 L149.1 669.1 L149.5 668.5 L149.9 667.9 L150.3 667.3 L150.7 666.8 L151.2 666.2 L151.6 665.6 L152 665 L152.4 664.5 L152.8 663.9 L153.3 663.4 L153.7 662.9 L154.1 662.4 L154.5 661.8 L155 661.3 L155.4 660.8 L155.8 660.4 L156.2 659.9 L156.6 659.4 L157.1 658.9 L157.5 658.5 L157.9 658 L158.3 657.6 L158.8 657.2 L159.2 656.7 L159.6 656.3 L160 655.9 L160.4 655.5 L160.9 655.2 L161.3 654.8 L161.7 654.4 L162.1 654.1 L162.5 653.7 L163 653.4 L163.4 653.1 L163.8 652.7 L164.2 652.4 L164.7 652.1 L165.1 651.8 L165.5 651.5 L165.9 651.2 L166.3 651 L166.8 650.7 L167.2 650.4 L167.6 650.1 L168 649.9 L168.5 649.6 L168.9 649.3 L169.3 649.1 L169.7 648.8 L170.1 648.6 L170.6 648.3 L171 648.1 L171.4 647.8 L171.8 647.6 L172.2 647.3 L172.7 647.1 L173.1 646.8 L173.5 646.6 L173.9 646.3 L174.4 646.1 L174.8 645.9 L175.2 645.6 L175.6 645.4 L176 645.2 L176.5 644.9 L176.9 644.7 L177.3 644.5 L177.7 644.3 L178.2 644 L178.6 643.8 L179 643.6 L179.4 643.4 L179.8 643.2 L180.3 643 L180.7 642.8 L181.1 642.6 L181.5 642.4 L181.9 642.2 L182.4 642 L182.8 641.8 L183.2 641.6 L183.6 641.4 L184.1 641.2 L184.5 641 L184.9 640.9 L185.3 640.7 L185.7 640.5 L186.2 640.3 L186.6 640.2 L187 640 L187.4 639.8 L187.9 639.7 L188.3 639.5 L188.7 639.3 L189.1 639.2 L189.5 639 L190 638.8 L190.4 638.7 L190.8 638.5 L191.2 638.4 L191.6 638.2 L192.1 638 L192.5 637.9 L192.9 637.7 L193.3 637.6 L193.8 637.4 L194.2 637.2 L194.6 637.1 L195 636.9 L195.4 636.8 L195.9 636.6 L196.3 636.5 L196.7 636.4 L197.1 636.2 L197.6 636.1 L198 636 L198.4 635.8 L198.8 635.7 L199.2 635.6 L199.7 635.5 L200.1 635.4 L200.5 635.3 L200.9 635.2 L201.3 635.1 L201.8 635 L202.2 634.9 L202.6 634.8 L203 634.7 L203.5 634.6 L203.9 634.5 L204.3 634.4 L204.7 634.4 L205.1 634.3 L205.6 634.2 L206 634.2 L206.4 634.1 L206.8 634 L207.3 634 L207.7 633.9 L208.1 633.9 L208.5 633.8 L208.9 633.8 L209.4 633.7 L209.8 633.7 L210.2 633.7 L210.6 633.6 L211 633.6 L211.5 633.6 L211.9 633.6 L212.3 633.5 L212.7 633.5 L213.2 633.5 L213.6 633.5 L214 633.5 L214.4 633.5 L214.8 633.5 L215.3 633.5 L215.7 633.5 L216.1 633.4 L216.5 633.4 L216.9 633.4 L217.4 633.4 L217.8 633.4 L218.2 633.4 L218.6 633.4 L219.1 633.4 L219.5 633.4 L219.9 633.4 L220.3 633.4 L220.7 633.4 L221.2 633.4 L221.6 633.4 L222 633.3 L222.4 633.3 L222.9 633.3 L223.3 633.3 L223.7 633.3 L224.1 633.2 L224.5 633.2 L225 633.2 L225.4 633.2 L225.8 633.2 L226.2 633.1 L226.6 633.1 L227.1 633.1 L227.5 633.1 L227.9 633.1 L228.3 633.1 L228.8 633 L229.2 633 L229.6 633 L230 633 L230.4 633 L230.9 633 L231.3 633 L231.7 633 L232.1 633 L232.6 633.1 L233 633.1 L233.4 633.1 L233.8 633.1 L234.2 633.1 L234.7 633.1 L235.1 633.2 L235.5 633.2 L235.9 633.2 L236.3 633.2 L236.8 633.3 L237.2 633.3 L237.6 633.3 L238 633.3 L238.5 633.4 L238.9 633.4 L239.3 633.4 L239.7 633.5 L240.1 633.5 L240.6 633.5 L241 633.6 L241.4 633.6 L241.8 633.6 L242.3 633.6 L242.7 633.7 L243.1 633.7 L243.5 633.7 L243.9 633.7 L244.4 633.8 L244.8 633.8 L245.2 633.8 L245.6 633.9 L246 633.9 L246.5 633.9 L246.9 633.9 L247.3 634 L247.7 634 L248.2 634 L248.6 634 L249 634 L249.4 634.1 L249.8 634.1 L250.3 634.1 L250.7 634.1 L251.1 634.1 L251.5 634.2 L252 634.2 L252.4 634.2 L252.8 634.2 L253.2 634.2 L253.6 634.3 L254.1 634.3 L254.5 634.3 L254.9 634.3 L255.3 634.3 L255.7 634.4 L256.2 634.4 L256.6 634.4 L257 634.4 L257.4 634.4 L257.9 634.4 L258.3 634.5 L258.7 634.5 L259.7 634.5 L260.7 634.5 L261.7 634.6 L262.6 634.6 L263.6 634.7 L264.6 634.7 L265.6 634.7 L266.6 634.8 L267.6 634.8 L268.5 634.8 L269.5 634.9 L270.5 634.9 L271.5 635 L272.5 635 L273.5 635 L274.4 635.1 L275.4 635.1 L276.4 635.1 L277.4 635.2 L278.4 635.2 L279.4 635.2 L280.3 635.3 L281.3 635.3 L282.3 635.3 L283.3 635.3 L284.3 635.4 L285.3 635.4 L286.3 635.4 L287.2 635.5 L288.2 635.5 L289.2 635.5 L290.2 635.5 L291.2 635.5 L292.2 635.6 L293.1 635.6 L294.1 635.6 L295.1 635.6 L296.1 635.6 L297.1 635.6 L298.1 635.7 L299 635.7 L300 635.7 L301 635.7 L302 635.7 L303 635.7 L304 635.8 L304.9 635.8 L305.9 635.8 L306.9 635.8 L307.9 635.8 L308.9 635.9 L309.9 635.9 L310.9 635.9 L311.8 635.9 L312.8 636 L313.8 636 L314.8 636 L315.8 636 L316.8 636 L317.7 636 L318.7 636 L319.7 636 L320.7 635.9 L321.7 635.9 L322.7 635.9 L323.6 635.8 L324.6 635.7 L325.6 635.7 L326.6 635.6 L327.6 635.5 L328.6 635.5 L329.5 635.4 L330.5 635.3 L331.5 635.2 L332.5 635.2 L333.5 635.1 L334.5 635 L335.5 634.9 L336.4 634.8 L337.4 634.8 L338.4 634.7 L339.4 634.6 L340.4 634.6 L341.4 634.5 L342.3 634.4 L343.3 634.4 L344.3 634.3 L345.3 634.3 L346.3 634.2 L347.3 634.1 L348.2 634.1 L349.2 634 L350.2 634 L351.2 633.9 L352.2 633.9 L353.2 633.9 L354.1 633.8 L355.1 633.8 L356.1 633.7 L357.1 633.7 L358.1 633.7 L359.1 633.6 L360.1 633.6 L361 633.6 L362 633.6 L363 633.5 L364 633.5 L365 633.5 L366 633.5 L366.9 633.4 L367.9 633.4 L368.9 633.4 L369.9 633.4 L370.9 633.3 L371.9 633.3 L372.8 633.3 L373.8 633.3 L374.8 633.3 L375.8 633.3 L376.8 633.2 L377.8 633.2 L378.7 633.2 L379.7 633.2 L380.7 633.2 L381.7 633.2 L382.7 633.1 L383.7 633.1 L384.7 633.1 L385.6 633.1 L386.6 633.1 L387.6 633.1 L388.6 633 L389.6 633 L390.6 633 L391.5 633 L392.5 633 L393.5 632.9 L394.5 632.9 L395.5 632.9 L396.5 632.9 L397.4 632.9 L398.4 632.9 L399.4 632.8 L400.4 632.8 L401.4 632.8 L402.4 632.8 L403.3 632.8 L404.3 632.8 L405.3 632.8 L406.3 632.8 L407.3 632.7 L408.3 632.7 L409.3 632.7 L410.2 632.7 L411.2 632.7 L412.2 632.8 L413.2 632.8 L414.2 632.8 L415.2 632.8 L416.1 632.8 L417.1 632.8 L418.1 632.8 L419.1 632.8 L420.1 632.8 L421.1 632.9 L422 632.9 L423 632.9 L424 632.9 L425 632.9 L426 633 L427 633 L427.9 633 L428.9 633 L429.9 633.1 L430.9 633.1 L431.9 633.1 L432.9 633.1 L433.9 633.2 L434.8 633.2 L435.8 633.2 L436.8 633.3 L437.8 633.3 L438.8 633.3 L439.8 633.3 L440.7 633.4 L441.7 633.4 L442.7 633.4 L443.7 633.5 L444.7 633.5 L445.7 633.5 L446.6 633.6 L447.6 633.6 L448.6 633.6 L449.6 633.6 L450.6 633.7 L451.6 633.7 L452.5 633.7 L453.5 633.8 L454.5 633.8 L455.5 633.8 L456.5 633.8 L457.5 633.9 L458.5 633.9 L459.4 633.9 L460.4 633.9 L461.4 634 L462.4 634 L463.4 634 L464.4 634 L465.3 634.1 L466.3 634.1 L467.3 634.1 L468.3 634.1 L469.3 634.2 L470.3 634.2 L471.2 634.2 L472.2 634.2 L473.2 634.2 L474.2 634.3 L475.2 634.3 L476.2 634.3 L477.2 634.3 L478.1 634.4 L479.1 634.4 L480.1 634.4 L481.1 634.4 L482.1 634.4 L483.1 634.5 L484 634.5 L485 634.5 L486 634.5 L487 634.5 L488 634.5 L489 634.6 L489.9 634.6 L490.9 634.6 L491.9 634.6 L492.9 634.6 L493.9 634.6 L494.9 634.7 L495.8 634.7 L496.8 634.7 L497.8 634.7 L498.8 634.7 L499.8 634.7 L500.8 634.8 L501.8 634.8 L502.7 634.8 L503.7 634.8 L504.7 634.8 L505.7 634.8 L506.7 634.8 L507.7 634.9 L508.6 634.9 L509.6 634.9 L510.6 634.9 L511.6 634.9 L512.6 634.9 L513.6 634.9 L514.5 635 L515.5 635 L516.5 635 L517.5 635 L518.5 635 L519.5 635 L520.4 635 L521.4 635 L522.4 635 L523.4 635.1 L524.4 635.1 L525.4 635.1 L526.4 635.1 L527.3 635.1 L528.3 635.1 L529.3 635.1 L530.3 635.1 L531.3 635.1 L532.3 635.1 L533.2 635.2 L534.2 635.2 L535.2 635.2 L536.2 635.2 L537.2 635.2 L538.2 635.2 L539.1 635.2 L540.1 635.2 L541.1 635.2 L542.1 635.2 L543.1 635.2 L544.1 635.2 L545 635.2 L546 635.2 L547 635.3 L548 635.3 L549 635.3 L550 635.3 L551 635.3 L551.9 635.3 L552.9 635.3 L553.9 635.3 L554.9 635.3 L555.9 635.3 L556.9 635.3 L557.8 635.3 L558.8 635.3 L559.8 635.3 L560.8 635.3 L561.8 635.3 L562.8 635.3 L563.7 635.3 L564.7 635.3 L565.7 635.3 L566.7 635.4 L567.7 635.4 L568.7 635.4 L569.6 635.4 L570.6 635.4 L571.6 635.4 L572.6 635.4 L573.6 635.4 L574.6 635.4 L575.6 635.4 L576.5 635.4 L577.5 635.4 L578.5 635.4 L579.5 635.4 L580.5 635.4 L581.5 635.4 L582.4 635.4 L583.4 635.4 L584.4 635.4 L585.4 635.4 L586.4 635.4 L587.4 635.4 L588.3 635.4 L589.3 635.4 L590.3 635.4 L591.3 635.4 L592.3 635.4 L593.3 635.4 L594.2 635.4 L595.2 635.4 L596.2 635.4 L597.2 635.4 L598.2 635.4 L599.2 635.4 L600.2 635.4 L601.1 635.4 L602.1 635.4 L603.1 635.4 L604.1 635.4 L605.1 635.4 L606.1 635.4 L607 635.4 L608 635.4 L609 635.4 L610 635.4 L611 635.4 L612 635.4 L612.9 635.4 L613.9 635.4 L614.9 635.4 L615.9 635.4 L616.9 635.4 L617.9 635.4 L618.8 635.4 L619.8 635.4 L620.8 635.4 L621.8 635.4 L622.8 635.4 L623.8 635.4 L624.8 635.4 L625.7 635.4 L626.7 635.4 L627.7 635.3 L628.7 635.3 L629.7 635.3 L630.7 635.3 L631.6 635.3 L632.6 635.3 L633.6 635.3 L634.6 635.3 L635.6 635.3 L636.6 635.3 L637.5 635.3 L638.5 635.3 L639.5 635.3 L640.5 635.3 L641.5 635.3 L642.5 635.3 L643.4 635.3 L644.4 635.3 L645.4 635.3 L646.4 635.3 L647.4 635.3 L648.4 635.3 L649.4 635.3 L650.3 635.3 L651.3 635.3 L652.3 635.3 L653.3 635.3 L654.3 635.3 L655.3 635.3 L656.2 635.3 L657.2 635.3 L658.2 635.2 L659.2 635.2 L660.2 635.2 L661.2 635.2 L662.1 635.2 L663.1 635.2 L664.1 635.2 L665.1 635.2 L666.1 635.2 L667.1 635.2 L668 635.2 L669 635.2 L670 635.2 L671 635.2" stroke="#993300"/>
<path d="M82 635.2 L82.4 635.8 L82.8 636.4 L83.3 637.1 L83.7 637.8 L84.1 638.7 L84.5 639.7 L85 640.9 L85.4 642.2 L85.8 643.7 L86.2 645.3 L86.6 647.1 L87.1 649 L87.5 651.1 L87.9 653.3 L88.3 655.6 L88.7 657.8 L89.2 660.1 L89.6 662.3 L90 664.5 L90.4 666.5 L90.9 668.6 L91.3 670.6 L91.7 672.6 L92.1 674.6 L92.5 676.7 L93 678.8 L93.4 680.9 L93.8 683.2 L94.2 685.5 L94.7 688 L95.1 690.7 L95.5 693.4 L95.9 696.3 L96.3 699.2 L96.8 702.1 L97.2 704.9 L97.6 707.6 L98 710.2 L98.4 712.7 L98.9 715.2 L99.3 717.5 L99.7 719.7 L100.1 721.9 L100.6 723.9 L101 725.8 L101.4 727.6 L101.8 729.3 L102.2 730.9 L102.7 732.5 L103.1 733.9 L103.5 735.2 L103.9 736.4 L104.4 737.5 L104.8 738.5 L105.2 739.4 L105.6 740.2 L106 741 L106.5 741.6 L106.9 742.2 L107.3 742.6 L107.7 743 L108.1 743.3 L108.6 743.5 L109 743.6 L109.4 743.6 L109.8 743.5 L110.3 743.4 L110.7 743.1 L111.1 742.8 L111.5 742.4 L111.9 742 L112.4 741.4 L112.8 740.9 L113.2 740.2 L113.6 739.5 L114.1 738.8 L114.5 738 L114.9 737.1 L115.3 736.2 L115.7 735.3 L116.2 734.3 L116.6 733.4 L117 732.4 L117.4 731.4 L117.8 730.5 L118.3 729.5 L118.7 728.6 L119.1 727.7 L119.5 726.9 L120 726.1 L120.4 725.4 L120.8 724.7 L121.2 724 L121.6 723.4 L122.1 722.8 L122.5 722.1 L122.9 721.5 L123.3 720.9 L123.8 720.2 L124.2 719.6 L124.6 718.9 L125 718.2 L125.4 717.5 L125.9 716.8 L126.3 716 L126.7 715.3 L127.1 714.6 L127.5 713.9 L128 713.2 L128.4 712.5 L128.8 711.8 L129.2 711.2 L129.7 710.5 L130.1 709.9 L130.5 709.3 L130.9 708.8 L131.3 708.3 L131.8 707.8 L132.2 707.3 L132.6 706.8 L133 706.4 L133.4 706 L133.9 705.6 L134.3 705.3 L134.7 705 L135.1 704.7 L135.6 704.4 L136 704.1 L136.4 703.8 L136.8 703.5 L137.2 703.2 L137.7 702.8 L138.1 702.4 L138.5 702 L138.9 701.5 L139.4 701 L139.8 700.4 L140.2 699.7 L140.6 699 L141 698.1 L141.5 697.3 L141.9 696.4 L142.3 695.5 L142.7 694.6 L143.1 693.7 L143.6 692.8 L144 692 L144.4 691.1 L144.8 690.3 L145.3 689.6 L145.7 688.9 L146.1 688.2 L146.5 687.5 L146.9 686.9 L147.4 686.2 L147.8 685.6 L148.2 685 L148.6 684.4 L149.1 683.9 L149.5 683.3 L149.9 682.7 L150.3 682.2 L150.7 681.6 L151.2 681.1 L151.6 680.5 L152 680 L152.4 679.4 L152.8 678.8 L153.3 678.3 L153.7 677.7 L154.1 677.1 L154.5 676.4 L155 675.8 L155.4 675.2 L155.8 674.6 L156.2 673.9 L156.6 673.3 L157.1 672.7 L157.5 672 L157.9 671.4 L158.3 670.7 L158.8 670.1 L159.2 669.4 L159.6 668.8 L160 668.1 L160.4 667.5 L160.9 666.8 L161.3 666.2 L161.7 665.5 L162.1 664.9 L162.5 664.3 L163 663.7 L163.4 663 L163.8 662.4 L164.2 661.8 L164.7 661.2 L165.1 660.7 L165.5 660.1 L165.9 659.5 L166.3 659 L166.8 658.4 L167.2 657.9 L167.6 657.4 L168 656.9 L168.5 656.4 L168.9 656 L169.3 655.5 L169.7 655.1 L170.1 654.7 L170.6 654.3 L171 653.9 L171.4 653.5 L171.8 653.1 L172.2 652.8 L172.7 652.5 L173.1 652.2 L173.5 651.8 L173.9 651.5 L174.4 651.2 L174.8 650.9 L175.2 650.6 L175.6 650.4 L176 650.1 L176.5 649.8 L176.9 649.5 L177.3 649.2 L177.7 648.9 L178.2 648.6 L178.6 648.3 L179 648 L179.4 647.7 L179.8 647.3 L180.3 647 L180.7 646.6 L181.1 646.3 L181.5 645.9 L181.9 645.5 L182.4 645.1 L182.8 644.7 L183.2 644.3 L183.6 643.9 L184.1 643.5 L184.5 643.2 L184.9 642.8 L185.3 642.4 L185.7 642 L186.2 641.7 L186.6 641.3 L187 641 L187.4 640.6 L187.9 640.3 L188.3 640 L188.7 639.7 L189.1 639.3 L189.5 639 L190 638.7 L190.4 638.4 L190.8 638.1 L191.2 637.9 L191.6 637.6 L192.1 637.3 L192.5 637 L192.9 636.8 L193.3 636.5 L193.8 636.2 L194.2 636 L194.6 635.7 L195 635.5 L195.4 635.2 L195.9 635 L196.3 634.7 L196.7 634.5 L197.1 634.3 L197.6 634 L198 633.8 L198.4 633.6 L198.8 633.4 L199.2 633.2 L199.7 633 L200.1 632.8 L200.5 632.6 L200.9 632.4 L201.3 632.2 L201.8 632 L202.2 631.9 L202.6 631.7 L203 631.5 L203.5 631.4 L203.9 631.2 L204.3 631.1 L204.7 630.9 L205.1 630.8 L205.6 630.7 L206 630.5 L206.4 630.4 L206.8 630.3 L207.3 630.2 L207.7 630.1 L208.1 630 L208.5 629.9 L208.9 629.8 L209.4 629.7 L209.8 629.6 L210.2 629.5 L210.6 629.4 L211 629.3 L211.5 629.2 L211.9 629.1 L212.3 629 L212.7 629 L213.2 628.9 L213.6 628.8 L214 628.8 L214.4 628.7 L214.8 628.6 L215.3 628.6 L215.7 628.5 L216.1 628.5 L216.5 628.5 L216.9 628.4 L217.4 628.4 L217.8 628.4 L218.2 628.3 L218.6 628.3 L219.1 628.3 L219.5 628.2 L219.9 628.2 L220.3 628.2 L220.7 628.2 L221.2 628.1 L221.6 628.1 L222 628.1 L222.4 628.1 L222.9 628 L223.3 628 L223.7 628 L224.1 628 L224.5 628 L225 628 L225.4 628 L225.8 628 L226.2 628 L226.6 628 L227.1 628.1 L227.5 628.1 L227.9 628.1 L228.3 628.1 L228.8 628.1 L229.2 628.2 L229.6 628.2 L230 628.2 L230.4 628.3 L230.9 628.3 L231.3 628.4 L231.7 628.4 L232.1 628.5 L232.6 628.5 L233 628.6 L233.4 628.6 L233.8 628.7 L234.2 628.7 L234.7 628.8 L235.1 628.8 L235.5 628.9 L235.9 629 L236.3 629 L236.8 629.1 L237.2 629.2 L237.6 629.2 L238 629.3 L238.5 629.3 L238.9 629.4 L239.3 629.5 L239.7 629.5 L240.1 629.6 L240.6 629.7 L241 629.7 L241.4 629.8 L241.8 629.9 L242.3 629.9 L242.7 630 L243.1 630.1 L243.5 630.1 L243.9 630.2 L244.4 630.2 L244.8 630.3 L245.2 630.4 L245.6 630.4 L246 630.5 L246.5 630.5 L246.9 630.6 L247.3 630.7 L247.7 630.7 L248.2 630.8 L248.6 630.8 L249 630.9 L249.4 630.9 L249.8 631 L250.3 631 L250.7 631.1 L251.1 631.1 L251.5 631.2 L252 631.2 L252.4 631.3 L252.8 631.3 L253.2 631.4 L253.6 631.4 L254.1 631.5 L254.5 631.5 L254.9 631.6 L255.3 631.6 L255.7 631.7 L256.2 631.7 L256.6 631.8 L257 631.8 L257.4 631.9 L257.9 631.9 L258.3 632 L258.7 632 L259.7 632.1 L260.7 632.2 L261.7 632.3 L262.6 632.4 L263.6 632.5 L264.6 632.6 L265.6 632.7 L266.6 632.8 L267.6 632.9 L268.5 632.9 L269.5 633 L270.5 633.1 L271.5 633.2 L272.5 633.3 L273.5 633.3 L274.4 633.4 L275.4 633.5 L276.4 633.6 L277.4 633.6 L278.4 633.7 L279.4 633.8 L280.3 633.8 L281.3 633.9 L282.3 634 L283.3 634 L284.3 634.1 L285.3 634.2 L286.3 634.2 L287.2 634.3 L288.2 634.3 L289.2 634.4 L290.2 634.4 L291.2 634.5 L292.2 634.6 L293.1 634.6 L294.1 634.7 L295.1 634.7 L296.1 634.8 L297.1 634.8 L298.1 634.9 L299 634.9 L300 634.9 L301 635 L302 635 L303 635 L304 635 L304.9 635 L305.9 635 L306.9 635 L307.9 635 L308.9 634.9 L309.9 634.9 L310.9 634.8 L311.8 634.8 L312.8 634.7 L313.8 634.6 L314.8 634.5 L315.8 634.4 L316.8 634.4 L317.7 634.3 L318.7 634.2 L319.7 634.1 L320.7 634 L321.7 633.9 L322.7 633.9 L323.6 633.8 L324.6 633.7 L325.6 633.7 L326.6 633.6 L327.6 633.5 L328.6 633.5 L329.5 633.4 L330.5 633.3 L331.5 633.3 L332.5 633.2 L333.5 633.1 L334.5 633.1 L335.5 633 L336.4 632.9 L337.4 632.9 L338.4 632.8 L339.4 632.7 L340.4 632.7 L341.4 632.6 L342.3 632.5 L343.3 632.4 L344.3 632.4 L345.3 632.3 L346.3 632.2 L347.3 632.1 L348.2 632.1 L349.2 632 L350.2 631.9 L351.2 631.9 L352.2 631.8 L353.2 631.8 L354.1 631.7 L355.1 631.6 L356.1 631.6 L357.1 631.5 L358.1 631.5 L359.1 631.4 L360.1 631.4 L361 631.3 L362 631.3 L363 631.2 L364 631.2 L365 631.1 L366 631.1 L366.9 631 L367.9 631 L368.9 630.9 L369.9 630.9 L370.9 630.8 L371.9 630.7 L372.8 630.7 L373.8 630.6 L374.8 630.6 L375.8 630.5 L376.8 630.4 L377.8 630.4 L378.7 630.3 L379.7 630.3 L380.7 630.2 L381.7 630.1 L382.7 630.1 L383.7 630 L384.7 629.9 L385.6 629.9 L386.6 629.8 L387.6 629.8 L388.6 629.7 L389.6 629.7 L390.6 629.6 L391.5 629.6 L392.5 629.5 L393.5 629.5 L394.5 629.5 L395.5 629.5 L396.5 629.4 L397.4 629.4 L398.4 629.4 L399.4 629.4 L400.4 629.4 L401.4 629.4 L402.4 629.4 L403.3 629.4 L404.3 629.4 L405.3 629.4 L406.3 629.4 L407.3 629.5 L408.3 629.5 L409.3 629.6 L410.2 629.6 L411.2 629.7 L412.2 629.7 L413.2 629.8 L414.2 629.8 L415.2 629.9 L416.1 629.9 L417.1 630 L418.1 630.1 L419.1 630.1 L420.1 630.2 L421.1 630.3 L422 630.3 L423 630.4 L424 630.5 L425 630.5 L426 630.6 L427 630.6 L427.9 630.7 L428.9 630.7 L429.9 630.8 L430.9 630.9 L431.9 630.9 L432.9 631 L433.9 631 L434.8 631.1 L435.8 631.1 L436.8 631.2 L437.8 631.2 L438.8 631.2 L439.8 631.3 L440.7 631.3 L441.7 631.4 L442.7 631.4 L443.7 631.5 L444.7 631.5 L445.7 631.6 L446.6 631.6 L447.6 631.7 L448.6 631.7 L449.6 631.8 L450.6 631.8 L451.6 631.8 L452.5 631.9 L453.5 631.9 L454.5 632 L455.5 632 L456.5 632.1 L457.5 632.1 L458.5 632.2 L459.4 632.2 L460.4 632.3 L461.4 632.3 L462.4 632.4 L463.4 632.4 L464.4 632.5 L465.3 632.5 L466.3 632.6 L467.3 632.6 L468.3 632.7 L469.3 632.8 L470.3 632.8 L471.2 632.9 L472.2 632.9 L473.2 633 L474.2 633.1 L475.2 633.1 L476.2 633.2 L477.2 633.3 L478.1 633.4 L479.1 633.4 L480.1 633.5 L481.1 633.6 L482.1 633.6 L483.1 633.7 L484 633.8 L485 633.9 L486 633.9 L487 634 L488 634.1 L489 634.2 L489.9 634.2 L490.9 634.3 L491.9 634.4 L492.9 634.5 L493.9 634.5 L494.9 634.6 L495.8 634.7 L496.8 634.8 L497.8 634.8 L498.8 634.9 L499.8 635 L500.8 635.1 L501.8 635.1 L502.7 635.2 L503.7 635.3 L504.7 635.4 L505.7 635.4 L506.7 635.5 L507.7 635.6 L508.6 635.7 L509.6 635.7 L510.6 635.8 L511.6 635.9 L512.6 636 L513.6 636 L514.5 636.1 L515.5 636.2 L516.5 636.2 L517.5 636.3 L518.5 636.3 L519.5 636.4 L520.4 636.5 L521.4 636.5 L522.4 636.6 L523.4 636.6 L524.4 636.6 L525.4 636.7 L526.4 636.7 L527.3 636.8 L528.3 636.8 L529.3 636.8 L530.3 636.8 L531.3 636.9 L532.3 636.9 L533.2 636.9 L534.2 636.9 L535.2 636.9 L536.2 636.9 L537.2 636.9 L538.2 636.9 L539.1 636.9 L540.1 636.9 L541.1 636.9 L542.1 636.9 L543.1 636.9 L544.1 636.9 L545 636.9 L546 636.8 L547 636.8 L548 636.8 L549 636.8 L550 636.8 L551 636.8 L551.9 636.8 L552.9 636.7 L553.9 636.7 L554.9 636.7 L555.9 636.7 L556.9 636.7 L557.8 636.7 L558.8 636.6 L559.8 636.6 L560.8 636.6 L561.8 636.6 L562.8 636.6 L563.7 636.6 L564.7 636.6 L565.7 636.5 L566.7 636.5 L567.7 636.5 L568.7 636.5 L569.6 636.5 L570.6 636.5 L571.6 636.5 L572.6 636.4 L573.6 636.4 L574.6 636.4 L575.6 636.4 L576.5 636.4 L577.5 636.4 L578.5 636.3 L579.5 636.3 L580.5 636.3 L581.5 636.3 L582.4 636.3 L583.4 636.3 L584.4 636.3 L585.4 636.2 L586.4 636.2 L587.4 636.2 L588.3 636.2 L589.3 636.2 L590.3 636.2 L591.3 636.2 L592.3 636.2 L593.3 636.1 L594.2 636.1 L595.2 636.1 L596.2 636.1 L597.2 636.1 L598.2 636.1 L599.2 636.1 L600.2 636 L601.1 636 L602.1 636 L603.1 636 L604.1 636 L605.1 636 L606.1 636 L607 636 L608 635.9 L609 635.9 L610 635.9 L611 635.9 L612 635.9 L612.9 635.9 L613.9 635.9 L614.9 635.9 L615.9 635.8 L616.9 635.8 L617.9 635.8 L618.8 635.8 L619.8 635.8 L620.8 635.8 L621.8 635.8 L622.8 635.8 L623.8 635.7 L624.8 635.7 L625.7 635.7 L626.7 635.7 L627.7 635.7 L628.7 635.7 L629.7 635.7 L630.7 635.7 L631.6 635.7 L632.6 635.6 L633.6 635.6 L634.6 635.6 L635.6 635.6 L636.6 635.6 L637.5 635.6 L638.5 635.6 L639.5 635.6 L640.5 635.5 L641.5 635.5 L642.5 635.5 L643.4 635.5 L644.4 635.5 L645.4 635.5 L646.4 635.5 L647.4 635.5 L648.4 635.5 L649.4 635.4 L650.3 635.4 L651.3 635.4 L652.3 635.4 L653.3 635.4 L654.3 635.4 L655.3 635.4 L656.2 635.4 L657.2 635.4 L658.2 635.3 L659.2 635.3 L660.2 635.3 L661.2 635.3 L662.1 635.3 L663.1 635.3 L664.1 635.3 L665.1 635.3 L666.1 635.3 L667.1 635.2 L668 635.2 L669 635.2 L670 635.2 L671 635.2" stroke="#0000ff"/>
<path d="M82 635.2 L82.4 635.5 L82.8 635.9 L83.3 636.2 L83.7 636.5 L84.1 636.9 L84.5 637.3 L85 637.8 L85.4 638.3 L85.8 638.8 L86.2 639.4 L86.6 640 L87.1 640.7 L87.5 641.5 L87.9 642.4 L88.3 643.3 L88.7 644.3 L89.2 645.5 L89.6 646.7 L90 648 L90.4 649.5 L90.9 651 L91.3 652.6 L91.7 654.3 L92.1 656.1 L92.5 657.9 L93 659.8 L93.4 661.7 L93.8 663.6 L94.2 665.5 L94.7 667.5 L95.1 669.5 L95.5 671.6 L95.9 673.6 L96.3 675.8 L96.8 678 L97.2 680.2 L97.6 682.5 L98 684.8 L98.4 687.2 L98.9 689.7 L99.3 692.2 L99.7 694.8 L100.1 697.4 L100.6 699.9 L101 702.2 L101.4 704.5 L101.8 706.6 L102.2 708.5 L102.7 710.4 L103.1 712.2 L103.5 713.8 L103.9 715.4 L104.4 717 L104.8 718.5 L105.2 719.9 L105.6 721.3 L106 722.7 L106.5 724 L106.9 725.2 L107.3 726.3 L107.7 727.3 L108.1 728.2 L108.6 729 L109 729.8 L109.4 730.4 L109.8 730.9 L110.3 731.4 L110.7 731.7 L111.1 732 L111.5 732.2 L111.9 732.3 L112.4 732.4 L112.8 732.4 L113.2 732.3 L113.6 732.2 L114.1 732 L114.5 731.8 L114.9 731.4 L115.3 731 L115.7 730.5 L116.2 729.9 L116.6 729.2 L117 728.4 L117.4 727.5 L117.8 726.6 L118.3 725.6 L118.7 724.5 L119.1 723.4 L119.5 722.2 L120 721 L120.4 719.8 L120.8 718.6 L121.2 717.4 L121.6 716.1 L122.1 714.9 L122.5 713.8 L122.9 712.6 L123.3 711.4 L123.8 710.3 L124.2 709.2 L124.6 708.1 L125 707 L125.4 706 L125.9 704.9 L126.3 703.8 L126.7 702.8 L127.1 701.7 L127.5 700.5 L128 699.3 L128.4 698.1 L128.8 696.9 L129.2 695.6 L129.7 694.2 L130.1 692.9 L130.5 691.6 L130.9 690.2 L131.3 688.9 L131.8 687.5 L132.2 686.2 L132.6 684.8 L133 683.5 L133.4 682.2 L133.9 680.9 L134.3 679.7 L134.7 678.4 L135.1 677.2 L135.6 676 L136 674.8 L136.4 673.6 L136.8 672.5 L137.2 671.4 L137.7 670.3 L138.1 669.3 L138.5 668.2 L138.9 667.2 L139.4 666.3 L139.8 665.4 L140.2 664.5 L140.6 663.6 L141 662.8 L141.5 662 L141.9 661.2 L142.3 660.5 L142.7 659.8 L143.1 659.2 L143.6 658.6 L144 658 L144.4 657.4 L144.8 656.9 L145.3 656.5 L145.7 656 L146.1 655.6 L146.5 655.2 L146.9 654.8 L147.4 654.5 L147.8 654.2 L148.2 653.9 L148.6 653.6 L149.1 653.3 L149.5 653 L149.9 652.8 L150.3 652.6 L150.7 652.4 L151.2 652.2 L151.6 652 L152 651.9 L152.4 651.7 L152.8 651.6 L153.3 651.5 L153.7 651.4 L154.1 651.3 L154.5 651.2 L155 651.2 L155.4 651.1 L155.8 651.1 L156.2 651 L156.6 651 L157.1 651 L157.5 651 L157.9 651 L158.3 651 L158.8 651 L159.2 651.1 L159.6 651.1 L160 651.1 L160.4 651.2 L160.9 651.2 L161.3 651.2 L161.7 651.3 L162.1 651.3 L162.5 651.4 L163 651.4 L163.4 651.5 L163.8 651.5 L164.2 651.6 L164.7 651.6 L165.1 651.7 L165.5 651.7 L165.9 651.7 L166.3 651.8 L166.8 651.8 L167.2 651.9 L167.6 651.9 L168 652 L168.5 652 L168.9 652.1 L169.3 652.1 L169.7 652.1 L170.1 652.2 L170.6 652.2 L171 652.2 L171.4 652.3 L171.8 652.3 L172.2 652.3 L172.7 652.3 L173.1 652.4 L173.5 652.4 L173.9 652.4 L174.4 652.4 L174.8 652.4 L175.2 652.4 L175.6 652.4 L176 652.4 L176.5 652.4 L176.9 652.4 L177.3 652.4 L177.7 652.4 L178.2 652.4 L178.6 652.4 L179 652.4 L179.4 652.4 L179.8 652.4 L180.3 652.4 L180.7 652.4 L181.1 652.4 L181.5 652.4 L181.9 652.4 L182.4 652.4 L182.8 652.4 L183.2 652.3 L183.6 652.3 L184.1 652.3 L184.5 652.3 L184.9 652.2 L185.3 652.2 L185.7 652.2 L186.2 652.1 L186.6 652.1 L187 652 L187.4 652 L187.9 651.9 L188.3 651.9 L188.7 651.8 L189.1 651.7 L189.5 651.7 L190 651.6 L190.4 651.5 L190.8 651.4 L191.2 651.4 L191.6 651.3 L192.1 651.2 L192.5 651.1 L192.9 651 L193.3 650.9 L193.8 650.8 L194.2 650.7 L194.6 650.7 L195 650.6 L195.4 650.5 L195.9 650.4 L196.3 650.3 L196.7 650.2 L197.1 650.2 L197.6 650.1 L198 650 L198.4 649.9 L198.8 649.9 L199.2 649.8 L199.7 649.7 L200.1 649.7 L200.5 649.6 L200.9 649.6 L201.3 649.5 L201.8 649.4 L202.2 649.4 L202.6 649.3 L203 649.3 L203.5 649.2 L203.9 649.1 L204.3 649.1 L204.7 649 L205.1 648.9 L205.6 648.9 L206 648.8 L206.4 648.7 L206.8 648.7 L207.3 648.6 L207.7 648.6 L208.1 648.5 L208.5 648.4 L208.9 648.4 L209.4 648.3 L209.8 648.3 L210.2 648.2 L210.6 648.2 L211 648.2 L211.5 648.1 L211.9 648.1 L212.3 648 L212.7 648 L213.2 648 L213.6 647.9 L214 647.9 L214.4 647.8 L214.8 647.8 L215.3 647.8 L215.7 647.7 L216.1 647.7 L216.5 647.6 L216.9 647.6 L217.4 647.5 L217.8 647.4 L218.2 647.4 L218.6 647.3 L219.1 647.3 L219.5 647.2 L219.9 647.2 L220.3 647.2 L220.7 647.1 L221.2 647.1 L221.6 647 L222 647 L222.4 647 L222.9 646.9 L223.3 646.9 L223.7 646.9 L224.1 646.9 L224.5 646.8 L225 646.8 L225.4 646.8 L225.8 646.8 L226.2 646.8 L226.6 646.7 L227.1 646.7 L227.5 646.7 L227.9 646.7 L228.3 646.7 L228.8 646.7 L229.2 646.6 L229.6 646.6 L230 646.6 L230.4 646.6 L230.9 646.6 L231.3 646.5 L231.7 646.5 L232.1 646.5 L232.6 646.5 L233 646.5 L233.4 646.4 L233.8 646.4 L234.2 646.4 L234.7 646.4 L235.1 646.3 L235.5 646.3 L235.9 646.3 L236.3 646.2 L236.8 646.2 L237.2 646.2 L237.6 646.1 L238 646.1 L238.5 646.1 L238.9 646.1 L239.3 646 L239.7 646 L240.1 646 L240.6 645.9 L241 645.9 L241.4 645.9 L241.8 645.8 L242.3 645.8 L242.7 645.7 L243.1 645.7 L243.5 645.7 L243.9 645.6 L244.4 645.6 L244.8 645.6 L245.2 645.5 L245.6 645.5 L246 645.4 L246.5 645.4 L246.9 645.4 L247.3 645.3 L247.7 645.3 L248.2 645.3 L248.6 645.2 L249 645.2 L249.4 645.1 L249.8 645.1 L250.3 645.1 L250.7 645 L251.1 645 L251.5 645 L252 644.9 L252.4 644.9 L252.8 644.9 L253.2 644.8 L253.6 644.8 L254.1 644.8 L254.5 644.7 L254.9 644.7 L255.3 644.7 L255.7 644.6 L256.2 644.6 L256.6 644.6 L257 644.5 L257.4 644.5 L257.9 644.5 L258.3 644.4 L258.7 644.4 L259.7 644.4 L260.7 644.3 L261.7 644.2 L262.6 644.2 L263.6 644.1 L264.6 644.1 L265.6 644 L266.6 643.9 L267.6 643.9 L268.5 643.8 L269.5 643.8 L270.5 643.7 L271.5 643.7 L272.5 643.6 L273.5 643.5 L274.4 643.5 L275.4 643.4 L276.4 643.4 L277.4 643.3 L278.4 643.3 L279.4 643.2 L280.3 643.2 L281.3 643.1 L282.3 643.1 L283.3 643 L284.3 643 L285.3 642.9 L286.3 642.9 L287.2 642.8 L288.2 642.8 L289.2 642.8 L290.2 642.7 L291.2 642.7 L292.2 642.6 L293.1 642.6 L294.1 642.5 L295.1 642.5 L296.1 642.4 L297.1 642.4 L298.1 642.3 L299 642.3 L300 642.2 L301 642.2 L302 642.1 L303 642.1 L304 642 L304.9 642 L305.9 641.9 L306.9 641.9 L307.9 641.8 L308.9 641.8 L309.9 641.7 L310.9 641.6 L311.8 641.6 L312.8 641.5 L313.8 641.4 L314.8 641.4 L315.8 641.3 L316.8 641.2 L317.7 641.2 L318.7 641.1 L319.7 641 L320.7 641 L321.7 640.9 L322.7 640.9 L323.6 640.8 L324.6 640.7 L325.6 640.7 L326.6 640.6 L327.6 640.5 L328.6 640.5 L329.5 640.4 L330.5 640.4 L331.5 640.3 L332.5 640.3 L333.5 640.2 L334.5 640.1 L335.5 640.1 L336.4 640 L337.4 640 L338.4 639.9 L339.4 639.9 L340.4 639.8 L341.4 639.8 L342.3 639.7 L343.3 639.7 L344.3 639.6 L345.3 639.6 L346.3 639.5 L347.3 639.5 L348.2 639.4 L349.2 639.4 L350.2 639.3 L351.2 639.3 L352.2 639.2 L353.2 639.2 L354.1 639.1 L355.1 639.1 L356.1 639 L357.1 639 L358.1 639 L359.1 638.9 L360.1 638.9 L361 638.8 L362 638.8 L363 638.7 L364 638.7 L365 638.7 L366 638.6 L366.9 638.6 L367.9 638.5 L368.9 638.5 L369.9 638.5 L370.9 638.4 L371.9 638.4 L372.8 638.3 L373.8 638.3 L374.8 638.3 L375.8 638.2 L376.8 638.2 L377.8 638.2 L378.7 638.1 L379.7 638.1 L380.7 638.1 L381.7 638 L382.7 638 L383.7 638 L384.7 637.9 L385.6 637.9 L386.6 637.8 L387.6 637.8 L388.6 637.8 L389.6 637.8 L390.6 637.7 L391.5 637.7 L392.5 637.7 L393.5 637.6 L394.5 637.6 L395.5 637.6 L396.5 637.5 L397.4 637.5 L398.4 637.5 L399.4 637.4 L400.4 637.4 L401.4 637.4 L402.4 637.4 L403.3 637.3 L404.3 637.3 L405.3 637.3 L406.3 637.2 L407.3 637.2 L408.3 637.2 L409.3 637.2 L410.2 637.1 L411.2 637.1 L412.2 637.1 L413.2 637.1 L414.2 637 L415.2 637 L416.1 637 L417.1 637 L418.1 636.9 L419.1 636.9 L420.1 636.9 L421.1 636.9 L422 636.8 L423 636.8 L424 636.8 L425 636.8 L426 636.7 L427 636.7 L427.9 636.7 L428.9 636.7 L429.9 636.7 L430.9 636.6 L431.9 636.6 L432.9 636.6 L433.9 636.6 L434.8 636.6 L435.8 636.6 L436.8 636.5 L437.8 636.5 L438.8 636.5 L439.8 636.5 L440.7 636.5 L441.7 636.4 L442.7 636.4 L443.7 636.4 L444.7 636.4 L445.7 636.4 L446.6 636.4 L447.6 636.4 L448.6 636.3 L449.6 636.3 L450.6 636.3 L451.6 636.3 L452.5 636.3 L453.5 636.3 L454.5 636.3 L455.5 636.2 L456.5 636.2 L457.5 636.2 L458.5 636.2 L459.4 636.2 L460.4 636.2 L461.4 636.2 L462.4 636.2 L463.4 636.2 L464.4 636.1 L465.3 636.1 L466.3 636.1 L467.3 636.1 L468.3 636.1 L469.3 636.1 L470.3 636.1 L471.2 636.1 L472.2 636.1 L473.2 636.1 L474.2 636 L475.2 636 L476.2 636 L477.2 636 L478.1 636 L479.1 636 L480.1 636 L481.1 636 L482.1 636 L483.1 636 L484 636 L485 636 L486 635.9 L487 635.9 L488 635.9 L489 635.9 L489.9 635.9 L490.9 635.9 L491.9 635.9 L492.9 635.9 L493.9 635.9 L494.9 635.9 L495.8 635.9 L496.8 635.9 L497.8 635.9 L498.8 635.8 L499.8 635.8 L500.8 635.8 L501.8 635.8 L502.7 635.8 L503.7 635.8 L504.7 635.8 L505.7 635.8 L506.7 635.8 L507.7 635.8 L508.6 635.8 L509.6 635.8 L510.6 635.8 L511.6 635.7 L512.6 635.7 L513.6 635.7 L514.5 635.7 L515.5 635.7 L516.5 635.7 L517.5 635.7 L518.5 635.7 L519.5 635.7 L520.4 635.7 L521.4 635.7 L522.4 635.7 L523.4 635.7 L524.4 635.7 L525.4 635.6 L526.4 635.6 L527.3 635.6 L528.3 635.6 L529.3 635.6 L530.3 635.6 L531.3 635.6 L532.3 635.6 L533.2 635.6 L534.2 635.6 L535.2 635.6 L536.2 635.6 L537.2 635.6 L538.2 635.6 L539.1 635.6 L540.1 635.5 L541.1 635.5 L542.1 635.5 L543.1 635.5 L544.1 635.5 L545 635.5 L546 635.5 L547 635.5 L548 635.5 L549 635.5 L550 635.5 L551 635.5 L551.9 635.5 L552.9 635.5 L553.9 635.5 L554.9 635.5 L555.9 635.5 L556.9 635.5 L557.8 635.4 L558.8 635.4 L559.8 635.4 L560.8 635.4 L561.8 635.4 L562.8 635.4 L563.7 635.4 L564.7 635.4 L565.7 635.4 L566.7 635.4 L567.7 635.4 L568.7 635.4 L569.6 635.4 L570.6 635.4 L571.6 635.4 L572.6 635.4 L573.6 635.4 L574.6 635.4 L575.6 635.4 L576.5 635.4 L577.5 635.4 L578.5 635.4 L579.5 635.4 L580.5 635.4 L581.5 635.3 L582.4 635.3 L583.4 635.3 L584.4 635.3 L585.4 635.3 L586.4 635.3 L587.4 635.3 L588.3 635.3 L589.3 635.3 L590.3 635.3 L591.3 635.3 L592.3 635.3 L593.3 635.3 L594.2 635.3 L595.2 635.3 L596.2 635.3 L597.2 635.3 L598.2 635.3 L599.2 635.3 L600.2 635.3 L601.1 635.3 L602.1 635.3 L603.1 635.3 L604.1 635.3 L605.1 635.3 L606.1 635.3 L607 635.3 L608 635.3 L609 635.3 L610 635.3 L611 635.3 L612 635.3 L612.9 635.3 L613.9 635.3 L614.9 635.3 L615.9 635.3 L616.9 635.3 L617.9 635.3 L618.8 635.3 L619.8 635.3 L620.8 635.3 L621.8 635.3 L622.8 635.3 L623.8 635.2 L624.8 635.2 L625.7 635.2 L626.7 635.2 L627.7 635.2 L628.7 635.2 L629.7 635.2 L630.7 635.2 L631.6 635.2 L632.6 635.2 L633.6 635.2 L634.6 635.2 L635.6 635.2 L636.6 635.2 L637.5 635.2 L638.5 635.2 L639.5 635.2 L640.5 635.2 L641.5 635.2 L642.5 635.2 L643.4 635.2 L644.4 635.2 L645.4 635.2 L646.4 635.2 L647.4 635.2 L648.4 635.2 L649.4 635.2 L650.3 635.2 L651.3 635.2 L652.3 635.2 L653.3 635.2 L654.3 635.2 L655.3 635.2 L656.2 635.2 L657.2 635.2 L658.2 635.2 L659.2 635.2 L660.2 635.2 L661.2 635.2 L662.1 635.2 L663.1 635.2 L664.1 635.2 L665.1 635.2 L666.1 635.2 L667.1 635.2 L668 635.2 L669 635.2 L670 635.2 L671 635.2" stroke="#ff0000"/>
<path d="M82 635.2 L82.4 635.6 L82.8 636.1 L83.3 636.5 L83.7 637.1 L84.1 637.7 L84.5 638.4 L85 639.3 L85.4 640.3 L85.8 641.4 L86.2 642.7 L86.6 644 L87.1 645.5 L87.5 647.1 L87.9 648.8 L88.3 650.7 L88.7 652.6 L89.2 654.5 L89.6 656.5 L90 658.4 L90.4 660.3 L90.9 662.2 L91.3 664 L91.7 665.8 L92.1 667.5 L92.5 669.2 L93 670.8 L93.4 672.6 L93.8 674.3 L94.2 676.2 L94.7 678.1 L95.1 680.2 L95.5 682.4 L95.9 684.8 L96.3 687.4 L96.8 690.2 L97.2 693.2 L97.6 696.4 L98 699.7 L98.4 703.1 L98.9 706.4 L99.3 709.7 L99.7 713 L100.1 716.3 L100.6 719.5 L101 722.8 L101.4 726 L101.8 729.1 L102.2 732.2 L102.7 735.2 L103.1 738 L103.5 740.7 L103.9 743.1 L104.4 745.2 L104.8 747.1 L105.2 748.7 L105.6 750.1 L106 751.3 L106.5 752.4 L106.9 753.3 L107.3 754.1 L107.7 754.7 L108.1 755.4 L108.6 755.9 L109 756.4 L109.4 756.9 L109.8 757.3 L110.3 757.6 L110.7 757.9 L111.1 758.1 L111.5 758.2 L111.9 758.2 L112.4 758.2 L112.8 758.1 L113.2 757.8 L113.6 757.5 L114.1 757.1 L114.5 756.7 L114.9 756.1 L115.3 755.5 L115.7 754.8 L116.2 754 L116.6 753.1 L117 752.2 L117.4 751.2 L117.8 750.1 L118.3 748.9 L118.7 747.7 L119.1 746.4 L119.5 745.1 L120 743.6 L120.4 742.2 L120.8 740.6 L121.2 739.1 L121.6 737.5 L122.1 735.8 L122.5 734.2 L122.9 732.5 L123.3 730.8 L123.8 729.2 L124.2 727.5 L124.6 725.9 L125 724.2 L125.4 722.6 L125.9 721 L126.3 719.4 L126.7 717.9 L127.1 716.4 L127.5 714.9 L128 713.5 L128.4 712 L128.8 710.6 L129.2 709.1 L129.7 707.7 L130.1 706.2 L130.5 704.6 L130.9 703 L131.3 701.4 L131.8 699.6 L132.2 697.8 L132.6 695.9 L133 694 L133.4 692 L133.9 689.9 L134.3 687.9 L134.7 685.9 L135.1 684 L135.6 682.2 L136 680.6 L136.4 679.1 L136.8 677.6 L137.2 676.3 L137.7 675 L138.1 673.9 L138.5 672.7 L138.9 671.7 L139.4 670.6 L139.8 669.6 L140.2 668.7 L140.6 667.7 L141 666.8 L141.5 666 L141.9 665.1 L142.3 664.3 L142.7 663.6 L143.1 662.8 L143.6 662.1 L144 661.5 L144.4 660.9 L144.8 660.3 L145.3 659.7 L145.7 659.2 L146.1 658.7 L146.5 658.2 L146.9 657.7 L147.4 657.3 L147.8 656.9 L148.2 656.5 L148.6 656.1 L149.1 655.7 L149.5 655.3 L149.9 654.9 L150.3 654.6 L150.7 654.3 L151.2 653.9 L151.6 653.6 L152 653.4 L152.4 653.1 L152.8 652.8 L153.3 652.6 L153.7 652.4 L154.1 652.1 L154.5 652 L155 651.8 L155.4 651.6 L155.8 651.4 L156.2 651.3 L156.6 651.1 L157.1 651 L157.5 650.9 L157.9 650.8 L158.3 650.7 L158.8 650.6 L159.2 650.4 L159.6 650.3 L160 650.2 L160.4 650.2 L160.9 650.1 L161.3 650 L161.7 649.9 L162.1 649.8 L162.5 649.7 L163 649.6 L163.4 649.5 L163.8 649.3 L164.2 649.2 L164.7 649.1 L165.1 649 L165.5 648.9 L165.9 648.8 L166.3 648.7 L166.8 648.6 L167.2 648.5 L167.6 648.4 L168 648.3 L168.5 648.2 L168.9 648.1 L169.3 648 L169.7 647.9 L170.1 647.7 L170.6 647.6 L171 647.5 L171.4 647.4 L171.8 647.3 L172.2 647.2 L172.7 647.1 L173.1 647 L173.5 646.9 L173.9 646.8 L174.4 646.7 L174.8 646.6 L175.2 646.5 L175.6 646.4 L176 646.3 L176.5 646.2 L176.9 646 L177.3 645.9 L177.7 645.8 L178.2 645.7 L178.6 645.6 L179 645.5 L179.4 645.3 L179.8 645.2 L180.3 645.1 L180.7 644.9 L181.1 644.8 L181.5 644.7 L181.9 644.5 L182.4 644.4 L182.8 644.2 L183.2 644.1 L183.6 643.9 L184.1 643.8 L184.5 643.6 L184.9 643.5 L185.3 643.3 L185.7 643.1 L186.2 643 L186.6 642.8 L187 642.6 L187.4 642.5 L187.9 642.3 L188.3 642.1 L188.7 642 L189.1 641.8 L189.5 641.6 L190 641.4 L190.4 641.3 L190.8 641.1 L191.2 640.9 L191.6 640.8 L192.1 640.6 L192.5 640.5 L192.9 640.3 L193.3 640.2 L193.8 640 L194.2 639.9 L194.6 639.8 L195 639.6 L195.4 639.5 L195.9 639.4 L196.3 639.3 L196.7 639.2 L197.1 639.1 L197.6 639 L198 638.9 L198.4 638.8 L198.8 638.7 L199.2 638.7 L199.7 638.6 L200.1 638.5 L200.5 638.5 L200.9 638.4 L201.3 638.4 L201.8 638.3 L202.2 638.3 L202.6 638.2 L203 638.2 L203.5 638.1 L203.9 638.1 L204.3 638 L204.7 638 L205.1 637.9 L205.6 637.9 L206 637.8 L206.4 637.8 L206.8 637.8 L207.3 637.7 L207.7 637.7 L208.1 637.7 L208.5 637.6 L208.9 637.6 L209.4 637.6 L209.8 637.5 L210.2 637.5 L210.6 637.5 L211 637.5 L211.5 637.4 L211.9 637.4 L212.3 637.4 L212.7 637.4 L213.2 637.4 L213.6 637.4 L214 637.4 L214.4 637.4 L214.8 637.4 L215.3 637.4 L215.7 637.4 L216.1 637.4 L216.5 637.4 L216.9 637.4 L217.4 637.4 L217.8 637.4 L218.2 637.4 L218.6 637.4 L219.1 637.4 L219.5 637.4 L219.9 637.4 L220.3 637.4 L220.7 637.4 L221.2 637.4 L221.6 637.4 L222 637.4 L222.4 637.4 L222.9 637.4 L223.3 637.4 L223.7 637.4 L224.1 637.4 L224.5 637.4 L225 637.4 L225.4 637.4 L225.8 637.5 L226.2 637.5 L226.6 637.5 L227.1 637.5 L227.5 637.5 L227.9 637.5 L228.3 637.5 L228.8 637.5 L229.2 637.5 L229.6 637.5 L230 637.5 L230.4 637.5 L230.9 637.5 L231.3 637.5 L231.7 637.5 L232.1 637.5 L232.6 637.5 L233 637.5 L233.4 637.5 L233.8 637.5 L234.2 637.5 L234.7 637.5 L235.1 637.5 L235.5 637.5 L235.9 637.5 L236.3 637.5 L236.8 637.5 L237.2 637.5 L237.6 637.5 L238 637.5 L238.5 637.5 L238.9 637.4 L239.3 637.4 L239.7 637.4 L240.1 637.4 L240.6 637.4 L241 637.4 L241.4 637.4 L241.8 637.4 L242.3 637.3 L242.7 637.3 L243.1 637.3 L243.5 637.3 L243.9 637.3 L244.4 637.2 L244.8 637.2 L245.2 637.2 L245.6 637.2 L246 637.2 L246.5 637.1 L246.9 637.1 L247.3 637.1 L247.7 637.1 L248.2 637 L248.6 637 L249 637 L249.4 637 L249.8 636.9 L250.3 636.9 L250.7 636.9 L251.1 636.9 L251.5 636.8 L252 636.8 L252.4 636.8 L252.8 636.8 L253.2 636.8 L253.6 636.8 L254.1 636.7 L254.5 636.7 L254.9 636.7 L255.3 636.7 L255.7 636.7 L256.2 636.7 L256.6 636.7 L257 636.7 L257.4 636.7 L257.9 636.7 L258.3 636.6 L258.7 636.6 L259.7 636.6 L260.7 636.6 L261.7 636.6 L262.6 636.7 L263.6 636.7 L264.6 636.7 L265.6 636.7 L266.6 636.7 L267.6 636.7 L268.5 636.8 L269.5 636.8 L270.5 636.8 L271.5 636.9 L272.5 636.9 L273.5 636.9 L274.4 637 L275.4 637 L276.4 637 L277.4 637.1 L278.4 637.1 L279.4 637.1 L280.3 637.1 L281.3 637.2 L282.3 637.2 L283.3 637.2 L284.3 637.3 L285.3 637.3 L286.3 637.3 L287.2 637.3 L288.2 637.4 L289.2 637.4 L290.2 637.4 L291.2 637.4 L292.2 637.4 L293.1 637.4 L294.1 637.4 L295.1 637.4 L296.1 637.4 L297.1 637.4 L298.1 637.4 L299 637.4 L300 637.4 L301 637.4 L302 637.4 L303 637.4 L304 637.3 L304.9 637.3 L305.9 637.3 L306.9 637.2 L307.9 637.2 L308.9 637.1 L309.9 637.1 L310.9 637 L311.8 637 L312.8 636.9 L313.8 636.8 L314.8 636.7 L315.8 636.7 L316.8 636.6 L317.7 636.5 L318.7 636.5 L319.7 636.4 L320.7 636.4 L321.7 636.3 L322.7 636.3 L323.6 636.2 L324.6 636.2 L325.6 636.1 L326.6 636.1 L327.6 636.1 L328.6 636 L329.5 636 L330.5 635.9 L331.5 635.9 L332.5 635.9 L333.5 635.9 L334.5 635.8 L335.5 635.8 L336.4 635.8 L337.4 635.8 L338.4 635.7 L339.4 635.7 L340.4 635.7 L341.4 635.7 L342.3 635.7 L343.3 635.6 L344.3 635.6 L345.3 635.6 L346.3 635.6 L347.3 635.6 L348.2 635.5 L349.2 635.5 L350.2 635.5 L351.2 635.5 L352.2 635.5 L353.2 635.5 L354.1 635.4 L355.1 635.4 L356.1 635.4 L357.1 635.4 L358.1 635.4 L359.1 635.3 L360.1 635.3 L361 635.3 L362 635.3 L363 635.2 L364 635.2 L365 635.2 L366 635.2 L366.9 635.2 L367.9 635.1 L368.9 635.1 L369.9 635.1 L370.9 635.1 L371.9 635 L372.8 635 L373.8 635 L374.8 635 L375.8 634.9 L376.8 634.9 L377.8 634.9 L378.7 634.9 L379.7 634.9 L380.7 634.8 L381.7 634.8 L382.7 634.8 L383.7 634.8 L384.7 634.8 L385.6 634.7 L386.6 634.7 L387.6 634.7 L388.6 634.7 L389.6 634.7 L390.6 634.6 L391.5 634.6 L392.5 634.6 L393.5 634.6 L394.5 634.6 L395.5 634.6 L396.5 634.5 L397.4 634.5 L398.4 634.5 L399.4 634.5 L400.4 634.5 L401.4 634.5 L402.4 634.5 L403.3 634.5 L404.3 634.4 L405.3 634.4 L406.3 634.4 L407.3 634.4 L408.3 634.4 L409.3 634.4 L410.2 634.4 L411.2 634.4 L412.2 634.4 L413.2 634.4 L414.2 634.4 L415.2 634.4 L416.1 634.4 L417.1 634.4 L418.1 634.4 L419.1 634.4 L420.1 634.4 L421.1 634.3 L422 634.3 L423 634.3 L424 634.3 L425 634.3 L426 634.3 L427 634.4 L427.9 634.4 L428.9 634.4 L429.9 634.4 L430.9 634.4 L431.9 634.4 L432.9 634.4 L433.9 634.4 L434.8 634.4 L435.8 634.4 L436.8 634.4 L437.8 634.4 L438.8 634.4 L439.8 634.4 L440.7 634.4 L441.7 634.4 L442.7 634.4 L443.7 634.5 L444.7 634.5 L445.7 634.5 L446.6 634.5 L447.6 634.5 L448.6 634.5 L449.6 634.5 L450.6 634.5 L451.6 634.5 L452.5 634.6 L453.5 634.6 L454.5 634.6 L455.5 634.6 L456.5 634.6 L457.5 634.6 L458.5 634.6 L459.4 634.7 L460.4 634.7 L461.4 634.7 L462.4 634.7 L463.4 634.7 L464.4 634.7 L465.3 634.7 L466.3 634.8 L467.3 634.8 L468.3 634.8 L469.3 634.8 L470.3 634.8 L471.2 634.8 L472.2 634.9 L473.2 634.9 L474.2 634.9 L475.2 634.9 L476.2 634.9 L477.2 634.9 L478.1 634.9 L479.1 635 L480.1 635 L481.1 635 L482.1 635 L483.1 635 L484 635 L485 635.1 L486 635.1 L487 635.1 L488 635.1 L489 635.1 L489.9 635.1 L490.9 635.2 L491.9 635.2 L492.9 635.2 L493.9 635.2 L494.9 635.2 L495.8 635.2 L496.8 635.2 L497.8 635.2 L498.8 635.3 L499.8 635.3 L500.8 635.3 L501.8 635.3 L502.7 635.3 L503.7 635.3 L504.7 635.3 L505.7 635.3 L506.7 635.4 L507.7 635.4 L508.6 635.4 L509.6 635.4 L510.6 635.4 L511.6 635.4 L512.6 635.4 L513.6 635.4 L514.5 635.4 L515.5 635.4 L516.5 635.5 L517.5 635.5 L518.5 635.5 L519.5 635.5 L520.4 635.5 L521.4 635.5 L522.4 635.5 L523.4 635.5 L524.4 635.5 L525.4 635.5 L526.4 635.5 L527.3 635.5 L528.3 635.6 L529.3 635.6 L530.3 635.6 L531.3 635.6 L532.3 635.6 L533.2 635.6 L534.2 635.6 L535.2 635.6 L536.2 635.6 L537.2 635.6 L538.2 635.6 L539.1 635.6 L540.1 635.6 L541.1 635.6 L542.1 635.6 L543.1 635.6 L544.1 635.6 L545 635.6 L546 635.6 L547 635.6 L548 635.6 L549 635.7 L550 635.7 L551 635.7 L551.9 635.7 L552.9 635.7 L553.9 635.7 L554.9 635.7 L555.9 635.7 L556.9 635.7 L557.8 635.7 L558.8 635.7 L559.8 635.7 L560.8 635.7 L561.8 635.7 L562.8 635.7 L563.7 635.7 L564.7 635.7 L565.7 635.7 L566.7 635.7 L567.7 635.7 L568.7 635.7 L569.6 635.7 L570.6 635.7 L571.6 635.7 L572.6 635.7 L573.6 635.7 L574.6 635.7 L575.6 635.7 L576.5 635.7 L577.5 635.7 L578.5 635.7 L579.5 635.7 L580.5 635.7 L581.5 635.7 L582.4 635.7 L583.4 635.7 L584.4 635.7 L585.4 635.7 L586.4 635.7 L587.4 635.7 L588.3 635.7 L589.3 635.7 L590.3 635.7 L591.3 635.6 L592.3 635.6 L593.3 635.6 L594.2 635.6 L595.2 635.6 L596.2 635.6 L597.2 635.6 L598.2 635.6 L599.2 635.6 L600.2 635.6 L601.1 635.6 L602.1 635.6 L603.1 635.6 L604.1 635.6 L605.1 635.6 L606.1 635.6 L607 635.6 L608 635.6 L609 635.6 L610 635.6 L611 635.6 L612 635.6 L612.9 635.6 L613.9 635.6 L614.9 635.6 L615.9 635.6 L616.9 635.5 L617.9 635.5 L618.8 635.5 L619.8 635.5 L620.8 635.5 L621.8 635.5 L622.8 635.5 L623.8 635.5 L624.8 635.5 L625.7 635.5 L626.7 635.5 L627.7 635.5 L628.7 635.5 L629.7 635.5 L630.7 635.5 L631.6 635.5 L632.6 635.5 L633.6 635.5 L634.6 635.4 L635.6 635.4 L636.6 635.4 L637.5 635.4 L638.5 635.4 L639.5 635.4 L640.5 635.4 L641.5 635.4 L642.5 635.4 L643.4 635.4 L644.4 635.4 L645.4 635.4 L646.4 635.4 L647.4 635.4 L648.4 635.4 L649.4 635.4 L650.3 635.3 L651.3 635.3 L652.3 635.3 L653.3 635.3 L654.3 635.3 L655.3 635.3 L656.2 635.3 L657.2 635.3 L658.2 635.3 L659.2 635.3 L660.2 635.3 L661.2 635.3 L662.1 635.3 L663.1 635.3 L664.1 635.2 L665.1 635.2 L666.1 635.2 L667.1 635.2 L668 635.2 L669 635.2 L670 635.2 L671 635.2" stroke="#6e4068"/>
<path d="M82 635.2 L82.4 635.4 L82.8 635.5 L83.3 635.7 L83.7 635.8 L84.1 636 L84.5 636.2 L85 636.3 L85.4 636.5 L85.8 636.7 L86.2 636.9 L86.6 637.1 L87.1 637.3 L87.5 637.5 L87.9 637.7 L88.3 638 L88.7 638.3 L89.2 638.5 L89.6 638.8 L90 639.1 L90.4 639.4 L90.9 639.8 L91.3 640.1 L91.7 640.5 L92.1 640.9 L92.5 641.2 L93 641.7 L93.4 642.1 L93.8 642.5 L94.2 643 L94.7 643.4 L95.1 643.9 L95.5 644.4 L95.9 644.9 L96.3 645.4 L96.8 645.9 L97.2 646.5 L97.6 647 L98 647.6 L98.4 648.2 L98.9 648.8 L99.3 649.4 L99.7 650.1 L100.1 650.7 L100.6 651.4 L101 652.1 L101.4 652.9 L101.8 653.7 L102.2 654.4 L102.7 655.3 L103.1 656.1 L103.5 657 L103.9 657.9 L104.4 658.9 L104.8 659.9 L105.2 660.9 L105.6 662 L106 663.1 L106.5 664.3 L106.9 665.5 L107.3 666.8 L107.7 668.1 L108.1 669.4 L108.6 670.8 L109 672.3 L109.4 673.8 L109.8 675.4 L110.3 677.1 L110.7 678.8 L111.1 680.5 L111.5 682.3 L111.9 684.2 L112.4 686.1 L112.8 688 L113.2 690 L113.6 692 L114.1 694 L114.5 696.1 L114.9 698.1 L115.3 700.2 L115.7 702.3 L116.2 704.3 L116.6 706.4 L117 708.4 L117.4 710.5 L117.8 712.5 L118.3 714.5 L118.7 716.5 L119.1 718.6 L119.5 720.7 L120 722.8 L120.4 724.9 L120.8 727 L121.2 729.1 L121.6 731.2 L122.1 733.3 L122.5 735.4 L122.9 737.4 L123.3 739.4 L123.8 741.3 L124.2 743.1 L124.6 744.9 L125 746.6 L125.4 748.2 L125.9 749.7 L126.3 751.2 L126.7 752.6 L127.1 753.9 L127.5 755.2 L128 756.5 L128.4 757.7 L128.8 758.9 L129.2 760 L129.7 761.1 L130.1 762.2 L130.5 763.3 L130.9 764.3 L131.3 765.3 L131.8 766.2 L132.2 767.1 L132.6 768 L133 768.9 L133.4 769.7 L133.9 770.5 L134.3 771.2 L134.7 771.9 L135.1 772.6 L135.6 773.3 L136 773.9 L136.4 774.4 L136.8 775 L137.2 775.5 L137.7 776 L138.1 776.4 L138.5 776.8 L138.9 777.2 L139.4 777.5 L139.8 777.8 L140.2 778.1 L140.6 778.4 L141 778.6 L141.5 778.7 L141.9 778.9 L142.3 778.9 L142.7 778.9 L143.1 778.8 L143.6 778.6 L144 778.4 L144.4 778.1 L144.8 777.8 L145.3 777.5 L145.7 777.1 L146.1 776.6 L146.5 776.2 L146.9 775.7 L147.4 775.2 L147.8 774.7 L148.2 774.1 L148.6 773.5 L149.1 772.9 L149.5 772.2 L149.9 771.5 L150.3 770.8 L150.7 770 L151.2 769.1 L151.6 768.2 L152 767.3 L152.4 766.3 L152.8 765.3 L153.3 764.1 L153.7 763 L154.1 761.8 L154.5 760.5 L155 759.1 L155.4 757.7 L155.8 756.2 L156.2 754.7 L156.6 753.1 L157.1 751.4 L157.5 749.7 L157.9 748 L158.3 746.1 L158.8 744.3 L159.2 742.3 L159.6 740.4 L160 738.4 L160.4 736.3 L160.9 734.2 L161.3 732 L161.7 729.9 L162.1 727.6 L162.5 725.4 L163 723.1 L163.4 720.7 L163.8 718.4 L164.2 716 L164.7 713.5 L165.1 711.1 L165.5 708.6 L165.9 706.1 L166.3 703.6 L166.8 701 L167.2 698.5 L167.6 695.9 L168 693.3 L168.5 690.7 L168.9 688.1 L169.3 685.4 L169.7 682.8 L170.1 680.1 L170.6 677.4 L171 674.8 L171.4 672.1 L171.8 669.5 L172.2 666.8 L172.7 664.2 L173.1 661.7 L173.5 659.1 L173.9 656.7 L174.4 654.2 L174.8 651.9 L175.2 649.5 L175.6 647.3 L176 645.1 L176.5 642.9 L176.9 640.8 L177.3 638.6 L177.7 636.6 L178.2 634.5 L178.6 632.5 L179 630.5 L179.4 628.6 L179.8 626.8 L180.3 625.1 L180.7 623.5 L181.1 621.9 L181.5 620.2 L181.9 618.4 L182.4 616.4 L182.8 614.4 L183.2 612.4 L183.6 610.3 L184.1 608.3 L184.5 606.2 L184.9 604.3 L185.3 602.4 L185.7 600.7 L186.2 599.1 L186.6 597.6 L187 596.2 L187.4 595 L187.9 593.8 L188.3 592.6 L188.7 591.6 L189.1 590.6 L189.5 589.6 L190 588.7 L190.4 587.8 L190.8 586.9 L191.2 586 L191.6 585.2 L192.1 584.4 L192.5 583.5 L192.9 582.8 L193.3 582 L193.8 581.2 L194.2 580.5 L194.6 579.8 L195 579.1 L195.4 578.4 L195.9 577.8 L196.3 577.2 L196.7 576.7 L197.1 576.3 L197.6 575.9 L198 575.6 L198.4 575.3 L198.8 575.1 L199.2 575 L199.7 574.8 L200.1 574.8 L200.5 574.7 L200.9 574.7 L201.3 574.8 L201.8 574.8 L202.2 574.8 L202.6 574.9 L203 575 L203.5 575.1 L203.9 575.2 L204.3 575.4 L204.7 575.6 L205.1 575.8 L205.6 576 L206 576.3 L206.4 576.7 L206.8 577.1 L207.3 577.5 L207.7 578 L208.1 578.5 L208.5 579 L208.9 579.6 L209.4 580.3 L209.8 580.9 L210.2 581.7 L210.6 582.4 L211 583.2 L211.5 584 L211.9 584.9 L212.3 585.7 L212.7 586.6 L213.2 587.6 L213.6 588.6 L214 589.5 L214.4 590.6 L214.8 591.6 L215.3 592.7 L215.7 593.8 L216.1 594.9 L216.5 596 L216.9 597.1 L217.4 598.3 L217.8 599.5 L218.2 600.6 L218.6 601.8 L219.1 603 L219.5 604.2 L219.9 605.5 L220.3 606.7 L220.7 607.9 L221.2 609.1 L221.6 610.3 L222 611.5 L222.4 612.8 L222.9 614 L223.3 615.2 L223.7 616.3 L224.1 617.5 L224.5 618.7 L225 619.9 L225.4 621.1 L225.8 622.3 L226.2 623.5 L226.6 624.7 L227.1 625.9 L227.5 627.1 L227.9 628.4 L228.3 629.6 L228.8 630.8 L229.2 632 L229.6 633.1 L230 634.3 L230.4 635.4 L230.9 636.5 L231.3 637.6 L231.7 638.6 L232.1 639.6 L232.6 640.6 L233 641.6 L233.4 642.5 L233.8 643.4 L234.2 644.4 L234.7 645.3 L235.1 646.2 L235.5 647 L235.9 647.9 L236.3 648.7 L236.8 649.5 L237.2 650.4 L237.6 651.1 L238 651.9 L238.5 652.6 L238.9 653.3 L239.3 654 L239.7 654.7 L240.1 655.3 L240.6 655.9 L241 656.4 L241.4 656.9 L241.8 657.5 L242.3 657.9 L242.7 658.4 L243.1 658.8 L243.5 659.2 L243.9 659.6 L244.4 660 L244.8 660.4 L245.2 660.7 L245.6 661 L246 661.3 L246.5 661.6 L246.9 661.9 L247.3 662.1 L247.7 662.3 L248.2 662.5 L248.6 662.6 L249 662.8 L249.4 662.8 L249.8 662.9 L250.3 662.9 L250.7 662.9 L251.1 662.8 L251.5 662.7 L252 662.6 L252.4 662.4 L252.8 662.2 L253.2 662 L253.6 661.8 L254.1 661.5 L254.5 661.2 L254.9 660.9 L255.3 660.6 L255.7 660.2 L256.2 659.9 L256.6 659.5 L257 659.1 L257.4 658.6 L257.9 658.2 L258.3 657.7 L258.7 657.2 L259.7 656 L260.7 654.6 L261.7 653.2 L262.6 651.6 L263.6 650 L264.6 648.4 L265.6 646.7 L266.6 645 L267.6 643.3 L268.5 641.5 L269.5 639.8 L270.5 638 L271.5 636.3 L272.5 634.5 L273.5 632.8 L274.4 631.2 L275.4 629.7 L276.4 628.4 L277.4 627.2 L278.4 626 L279.4 624.5 L280.3 622.6 L281.3 620.6 L282.3 618.8 L283.3 617.2 L284.3 615.9 L285.3 614.8 L286.3 613.9 L287.2 613.2 L288.2 612.7 L289.2 612.4 L290.2 612.2 L291.2 612.2 L292.2 612.2 L293.1 612.4 L294.1 612.6 L295.1 613 L296.1 613.3 L297.1 613.7 L298.1 614.2 L299 614.7 L300 615.3 L301 615.9 L302 616.6 L303 617.2 L304 618 L304.9 618.7 L305.9 619.5 L306.9 620.4 L307.9 621.2 L308.9 622.1 L309.9 623.1 L310.9 624.1 L311.8 625.1 L312.8 626.2 L313.8 627.4 L314.8 628.7 L315.8 630 L316.8 631.5 L317.7 633 L318.7 634.5 L319.7 636 L320.7 637.4 L321.7 638.9 L322.7 640.3 L323.6 641.6 L324.6 642.9 L325.6 644.2 L326.6 645.4 L327.6 646.5 L328.6 647.6 L329.5 648.6 L330.5 649.5 L331.5 650.3 L332.5 651 L333.5 651.7 L334.5 652.2 L335.5 652.7 L336.4 653.1 L337.4 653.4 L338.4 653.6 L339.4 653.7 L340.4 653.8 L341.4 653.8 L342.3 653.8 L343.3 653.6 L344.3 653.4 L345.3 653.2 L346.3 652.9 L347.3 652.5 L348.2 652.1 L349.2 651.7 L350.2 651.2 L351.2 650.7 L352.2 650.1 L353.2 649.5 L354.1 648.9 L355.1 648.2 L356.1 647.6 L357.1 646.9 L358.1 646.1 L359.1 645.3 L360.1 644.6 L361 643.7 L362 642.9 L363 642 L364 641.1 L365 640.2 L366 639.3 L366.9 638.4 L367.9 637.4 L368.9 636.5 L369.9 635.6 L370.9 634.7 L371.9 633.8 L372.8 633 L373.8 632.2 L374.8 631.5 L375.8 630.8 L376.8 630.1 L377.8 629.5 L378.7 628.9 L379.7 628.3 L380.7 627.8 L381.7 627.3 L382.7 626.9 L383.7 626.5 L384.7 626.1 L385.6 625.8 L386.6 625.6 L387.6 625.3 L388.6 625.1 L389.6 625 L390.6 624.8 L391.5 624.8 L392.5 624.7 L393.5 624.7 L394.5 624.7 L395.5 624.8 L396.5 625 L397.4 625.2 L398.4 625.4 L399.4 625.7 L400.4 626 L401.4 626.4 L402.4 626.9 L403.3 627.3 L404.3 627.8 L405.3 628.3 L406.3 628.8 L407.3 629.4 L408.3 630 L409.3 630.6 L410.2 631.1 L411.2 631.8 L412.2 632.4 L413.2 633 L414.2 633.6 L415.2 634.2 L416.1 634.8 L417.1 635.4 L418.1 636 L419.1 636.5 L420.1 637.1 L421.1 637.6 L422 638.1 L423 638.6 L424 639 L425 639.5 L426 639.9 L427 640.3 L427.9 640.6 L428.9 641 L429.9 641.3 L430.9 641.6 L431.9 641.9 L432.9 642.2 L433.9 642.4 L434.8 642.6 L435.8 642.8 L436.8 643 L437.8 643.1 L438.8 643.2 L439.8 643.3 L440.7 643.3 L441.7 643.3 L442.7 643.3 L443.7 643.2 L444.7 643.1 L445.7 642.9 L446.6 642.8 L447.6 642.6 L448.6 642.3 L449.6 642.1 L450.6 641.8 L451.6 641.4 L452.5 641.1 L453.5 640.7 L454.5 640.3 L455.5 639.9 L456.5 639.5 L457.5 639.1 L458.5 638.7 L459.4 638.2 L460.4 637.7 L461.4 637.3 L462.4 636.8 L463.4 636.3 L464.4 635.8 L465.3 635.2 L466.3 634.7 L467.3 634.2 L468.3 633.7 L469.3 633.2 L470.3 632.7 L471.2 632.3 L472.2 631.9 L473.2 631.5 L474.2 631.2 L475.2 630.8 L476.2 630.6 L477.2 630.3 L478.1 630.1 L479.1 629.8 L480.1 629.6 L481.1 629.5 L482.1 629.3 L483.1 629.2 L484 629.1 L485 629 L486 628.9 L487 628.9 L488 628.9 L489 628.9 L489.9 629 L490.9 629 L491.9 629.1 L492.9 629.3 L493.9 629.4 L494.9 629.6 L495.8 629.8 L496.8 630 L497.8 630.2 L498.8 630.5 L499.8 630.7 L500.8 631 L501.8 631.3 L502.7 631.6 L503.7 631.9 L504.7 632.3 L505.7 632.6 L506.7 632.9 L507.7 633.3 L508.6 633.6 L509.6 634 L510.6 634.3 L511.6 634.7 L512.6 635 L513.6 635.3 L514.5 635.7 L515.5 636 L516.5 636.4 L517.5 636.7 L518.5 637 L519.5 637.3 L520.4 637.6 L521.4 637.9 L522.4 638.2 L523.4 638.5 L524.4 638.7 L525.4 639 L526.4 639.2 L527.3 639.4 L528.3 639.6 L529.3 639.8 L530.3 640 L531.3 640.1 L532.3 640.3 L533.2 640.4 L534.2 640.5 L535.2 640.6 L536.2 640.6 L537.2 640.6 L538.2 640.6 L539.1 640.6 L540.1 640.6 L541.1 640.5 L542.1 640.4 L543.1 640.3 L544.1 640.2 L545 640 L546 639.9 L547 639.7 L548 639.5 L549 639.3 L550 639.1 L551 638.9 L551.9 638.6 L552.9 638.4 L553.9 638.1 L554.9 637.9 L555.9 637.6 L556.9 637.4 L557.8 637.1 L558.8 636.8 L559.8 636.6 L560.8 636.3 L561.8 636 L562.8 635.8 L563.7 635.5 L564.7 635.3 L565.7 635 L566.7 634.8 L567.7 634.6 L568.7 634.3 L569.6 634.1 L570.6 633.9 L571.6 633.7 L572.6 633.5 L573.6 633.4 L574.6 633.2 L575.6 633 L576.5 632.9 L577.5 632.7 L578.5 632.6 L579.5 632.5 L580.5 632.4 L581.5 632.3 L582.4 632.2 L583.4 632.1 L584.4 632.1 L585.4 632 L586.4 632 L587.4 632 L588.3 631.9 L589.3 631.9 L590.3 632 L591.3 632 L592.3 632 L593.3 632.1 L594.2 632.1 L595.2 632.2 L596.2 632.3 L597.2 632.3 L598.2 632.4 L599.2 632.5 L600.2 632.6 L601.1 632.8 L602.1 632.9 L603.1 633 L604.1 633.1 L605.1 633.3 L606.1 633.4 L607 633.6 L608 633.7 L609 633.9 L610 634 L611 634.2 L612 634.4 L612.9 634.5 L613.9 634.7 L614.9 634.8 L615.9 635 L616.9 635.2 L617.9 635.3 L618.8 635.5 L619.8 635.6 L620.8 635.8 L621.8 635.9 L622.8 636.1 L623.8 636.2 L624.8 636.4 L625.7 636.5 L626.7 636.6 L627.7 636.7 L628.7 636.8 L629.7 636.9 L630.7 637 L631.6 637.1 L632.6 637.2 L633.6 637.3 L634.6 637.3 L635.6 637.4 L636.6 637.4 L637.5 637.4 L638.5 637.4 L639.5 637.5 L640.5 637.4 L641.5 637.4 L642.5 637.4 L643.4 637.4 L644.4 637.3 L645.4 637.3 L646.4 637.2 L647.4 637.2 L648.4 637.1 L649.4 637 L650.3 636.9 L651.3 636.8 L652.3 636.7 L653.3 636.6 L654.3 636.5 L655.3 636.4 L656.2 636.3 L657.2 636.2 L658.2 636 L659.2 635.9 L660.2 635.8 L661.2 635.6 L662.1 635.5 L663.1 635.3 L664.1 635.2 L665.1 635 L666.1 634.9 L667.1 634.7 L668 634.6 L669 634.4 L670 634.3 L671 634.1" stroke="#00ff00"/>
<path d="M82 635.2 L82.4 635.4 L82.8 635.6 L83.3 635.8 L83.7 635.9 L84.1 636.1 L84.5 636.3 L85 636.5 L85.4 636.7 L85.8 636.9 L86.2 637.1 L86.6 637.2 L87.1 637.4 L87.5 637.6 L87.9 637.8 L88.3 638 L88.7 638.2 L89.2 638.4 L89.6 638.6 L90 638.7 L90.4 638.9 L90.9 639.1 L91.3 639.3 L91.7 639.5 L92.1 639.7 L92.5 639.9 L93 640.1 L93.4 640.3 L93.8 640.5 L94.2 640.7 L94.7 641 L95.1 641.2 L95.5 641.4 L95.9 641.6 L96.3 641.9 L96.8 642.1 L97.2 642.3 L97.6 642.6 L98 642.8 L98.4 643.1 L98.9 643.3 L99.3 643.6 L99.7 643.9 L100.1 644.2 L100.6 644.4 L101 644.7 L101.4 645 L101.8 645.3 L102.2 645.7 L102.7 646 L103.1 646.3 L103.5 646.7 L103.9 647 L104.4 647.4 L104.8 647.7 L105.2 648.1 L105.6 648.5 L106 648.9 L106.5 649.3 L106.9 649.7 L107.3 650.1 L107.7 650.5 L108.1 651 L108.6 651.4 L109 651.9 L109.4 652.4 L109.8 652.8 L110.3 653.3 L110.7 653.8 L111.1 654.3 L111.5 654.8 L111.9 655.3 L112.4 655.8 L112.8 656.3 L113.2 656.8 L113.6 657.4 L114.1 657.9 L114.5 658.4 L114.9 659 L115.3 659.5 L115.7 660.1 L116.2 660.6 L116.6 661.2 L117 661.8 L117.4 662.4 L117.8 663 L118.3 663.6 L118.7 664.2 L119.1 664.9 L119.5 665.5 L120 666.2 L120.4 666.9 L120.8 667.5 L121.2 668.2 L121.6 668.9 L122.1 669.6 L122.5 670.2 L122.9 670.9 L123.3 671.6 L123.8 672.2 L124.2 672.8 L124.6 673.5 L125 674.1 L125.4 674.7 L125.9 675.3 L126.3 675.8 L126.7 676.4 L127.1 677 L127.5 677.6 L128 678.1 L128.4 678.7 L128.8 679.3 L129.2 679.9 L129.7 680.4 L130.1 681 L130.5 681.6 L130.9 682.2 L131.3 682.8 L131.8 683.4 L132.2 684 L132.6 684.7 L133 685.3 L133.4 686 L133.9 686.6 L134.3 687.2 L134.7 687.8 L135.1 688.4 L135.6 689 L136 689.5 L136.4 689.9 L136.8 690.3 L137.2 690.7 L137.7 691 L138.1 691.3 L138.5 691.7 L138.9 692 L139.4 692.3 L139.8 692.7 L140.2 693 L140.6 693.5 L141 693.9 L141.5 694.4 L141.9 694.8 L142.3 695.3 L142.7 695.7 L143.1 696.2 L143.6 696.6 L144 697 L144.4 697.4 L144.8 697.7 L145.3 698 L145.7 698.2 L146.1 698.4 L146.5 698.6 L146.9 698.8 L147.4 699 L147.8 699.1 L148.2 699.2 L148.6 699.3 L149.1 699.3 L149.5 699.4 L149.9 699.4 L150.3 699.4 L150.7 699.4 L151.2 699.3 L151.6 699.3 L152 699.2 L152.4 699.2 L152.8 699.1 L153.3 699 L153.7 698.9 L154.1 698.8 L154.5 698.7 L155 698.5 L155.4 698.4 L155.8 698.2 L156.2 698 L156.6 697.9 L157.1 697.7 L157.5 697.5 L157.9 697.2 L158.3 697 L158.8 696.7 L159.2 696.5 L159.6 696.2 L160 695.9 L160.4 695.6 L160.9 695.3 L161.3 695 L161.7 694.7 L162.1 694.3 L162.5 693.9 L163 693.6 L163.4 693.2 L163.8 692.8 L164.2 692.4 L164.7 691.9 L165.1 691.5 L165.5 691 L165.9 690.6 L166.3 690.1 L166.8 689.6 L167.2 689.1 L167.6 688.6 L168 688 L168.5 687.5 L168.9 686.9 L169.3 686.4 L169.7 685.8 L170.1 685.2 L170.6 684.6 L171 684 L171.4 683.3 L171.8 682.7 L172.2 682 L172.7 681.4 L173.1 680.7 L173.5 680 L173.9 679.3 L174.4 678.6 L174.8 677.9 L175.2 677.1 L175.6 676.4 L176 675.6 L176.5 674.9 L176.9 674.1 L177.3 673.3 L177.7 672.5 L178.2 671.7 L178.6 670.9 L179 670.1 L179.4 669.3 L179.8 668.5 L180.3 667.6 L180.7 666.8 L181.1 666 L181.5 665.1 L181.9 664.3 L182.4 663.4 L182.8 662.6 L183.2 661.7 L183.6 660.9 L184.1 660.1 L184.5 659.2 L184.9 658.4 L185.3 657.6 L185.7 656.7 L186.2 655.9 L186.6 655.1 L187 654.2 L187.4 653.4 L187.9 652.6 L188.3 651.7 L188.7 650.9 L189.1 650.1 L189.5 649.3 L190 648.5 L190.4 647.7 L190.8 647 L191.2 646.2 L191.6 645.5 L192.1 644.8 L192.5 644.1 L192.9 643.4 L193.3 642.7 L193.8 642.1 L194.2 641.5 L194.6 640.9 L195 640.3 L195.4 639.7 L195.9 639.2 L196.3 638.7 L196.7 638.2 L197.1 637.7 L197.6 637.2 L198 636.8 L198.4 636.3 L198.8 635.9 L199.2 635.5 L199.7 635.2 L200.1 634.8 L200.5 634.5 L200.9 634.1 L201.3 633.8 L201.8 633.5 L202.2 633.3 L202.6 633 L203 632.8 L203.5 632.5 L203.9 632.3 L204.3 632.1 L204.7 631.9 L205.1 631.7 L205.6 631.6 L206 631.4 L206.4 631.3 L206.8 631.1 L207.3 631 L207.7 630.9 L208.1 630.8 L208.5 630.7 L208.9 630.6 L209.4 630.5 L209.8 630.5 L210.2 630.4 L210.6 630.3 L211 630.3 L211.5 630.2 L211.9 630.2 L212.3 630.1 L212.7 630.1 L213.2 630.1 L213.6 630 L214 630 L214.4 630 L214.8 630 L215.3 629.9 L215.7 629.9 L216.1 629.9 L216.5 629.9 L216.9 629.9 L217.4 629.9 L217.8 629.9 L218.2 629.9 L218.6 630 L219.1 630 L219.5 630.1 L219.9 630.2 L220.3 630.4 L220.7 630.5 L221.2 630.7 L221.6 630.9 L222 631.1 L222.4 631.3 L222.9 631.5 L223.3 631.7 L223.7 631.9 L224.1 632.1 L224.5 632.4 L225 632.6 L225.4 632.8 L225.8 633 L226.2 633.3 L226.6 633.5 L227.1 633.7 L227.5 634 L227.9 634.2 L228.3 634.5 L228.8 634.8 L229.2 635 L229.6 635.3 L230 635.6 L230.4 635.9 L230.9 636.2 L231.3 636.5 L231.7 636.9 L232.1 637.2 L232.6 637.5 L233 637.8 L233.4 638.2 L233.8 638.5 L234.2 638.8 L234.7 639.1 L235.1 639.4 L235.5 639.7 L235.9 639.9 L236.3 640.2 L236.8 640.5 L237.2 640.7 L237.6 640.9 L238 641.1 L238.5 641.3 L238.9 641.6 L239.3 641.7 L239.7 641.9 L240.1 642.1 L240.6 642.3 L241 642.5 L241.4 642.7 L241.8 642.8 L242.3 643 L242.7 643.2 L243.1 643.4 L243.5 643.5 L243.9 643.7 L244.4 643.9 L244.8 644.1 L245.2 644.2 L245.6 644.4 L246 644.6 L246.5 644.8 L246.9 644.9 L247.3 645.1 L247.7 645.3 L248.2 645.4 L248.6 645.6 L249 645.7 L249.4 645.9 L249.8 646 L250.3 646.2 L250.7 646.3 L251.1 646.4 L251.5 646.6 L252 646.7 L252.4 646.8 L252.8 646.9 L253.2 647 L253.6 647.1 L254.1 647.1 L254.5 647.2 L254.9 647.2 L255.3 647.3 L255.7 647.3 L256.2 647.3 L256.6 647.3 L257 647.3 L257.4 647.3 L257.9 647.2 L258.3 647.2 L258.7 647.1 L259.7 646.9 L260.7 646.7 L261.7 646.4 L262.6 646 L263.6 645.7 L264.6 645.3 L265.6 644.8 L266.6 644.3 L267.6 643.8 L268.5 643.3 L269.5 642.8 L270.5 642.2 L271.5 641.6 L272.5 641 L273.5 640.4 L274.4 639.8 L275.4 639.2 L276.4 638.6 L277.4 637.9 L278.4 637.3 L279.4 636.7 L280.3 636.1 L281.3 635.5 L282.3 634.9 L283.3 634.4 L284.3 633.8 L285.3 633.3 L286.3 632.8 L287.2 632.4 L288.2 631.9 L289.2 631.5 L290.2 631.1 L291.2 630.7 L292.2 630.4 L293.1 630 L294.1 629.7 L295.1 629.4 L296.1 629.2 L297.1 628.9 L298.1 628.7 L299 628.5 L300 628.3 L301 628.1 L302 627.9 L303 627.8 L304 627.7 L304.9 627.6 L305.9 627.5 L306.9 627.5 L307.9 627.4 L308.9 627.4 L309.9 627.4 L310.9 627.5 L311.8 627.6 L312.8 627.7 L313.8 627.8 L314.8 628 L315.8 628.3 L316.8 628.5 L317.7 628.9 L318.7 629.2 L319.7 629.6 L320.7 630 L321.7 630.4 L322.7 630.8 L323.6 631.2 L324.6 631.7 L325.6 632.1 L326.6 632.6 L327.6 633 L328.6 633.4 L329.5 633.8 L330.5 634.2 L331.5 634.6 L332.5 635 L333.5 635.4 L334.5 635.7 L335.5 636 L336.4 636.4 L337.4 636.7 L338.4 636.9 L339.4 637.2 L340.4 637.5 L341.4 637.7 L342.3 637.9 L343.3 638.2 L344.3 638.4 L345.3 638.6 L346.3 638.7 L347.3 638.9 L348.2 639.1 L349.2 639.2 L350.2 639.3 L351.2 639.5 L352.2 639.6 L353.2 639.7 L354.1 639.8 L355.1 639.9 L356.1 640 L357.1 640 L358.1 640.1 L359.1 640.1 L360.1 640.1 L361 640.1 L362 640.1 L363 640 L364 639.9 L365 639.9 L366 639.7 L366.9 639.6 L367.9 639.5 L368.9 639.4 L369.9 639.2 L370.9 639.1 L371.9 638.9 L372.8 638.7 L373.8 638.6 L374.8 638.4 L375.8 638.2 L376.8 638.1 L377.8 637.9 L378.7 637.7 L379.7 637.6 L380.7 637.4 L381.7 637.3 L382.7 637.1 L383.7 636.9 L384.7 636.7 L385.6 636.5 L386.6 636.3 L387.6 636 L388.6 635.7 L389.6 635.4 L390.6 635.1 L391.5 634.8 L392.5 634.4 L393.5 634.1 L394.5 633.8 L395.5 633.5 L396.5 633.3 L397.4 633.1 L398.4 632.9 L399.4 632.8 L400.4 632.7 L401.4 632.6 L402.4 632.5 L403.3 632.4 L404.3 632.4 L405.3 632.4 L406.3 632.4 L407.3 632.4 L408.3 632.4 L409.3 632.4 L410.2 632.5 L411.2 632.5 L412.2 632.5 L413.2 632.6 L414.2 632.6 L415.2 632.7 L416.1 632.7 L417.1 632.8 L418.1 632.9 L419.1 633 L420.1 633.1 L421.1 633.2 L422 633.3 L423 633.4 L424 633.5 L425 633.7 L426 633.8 L427 633.9 L427.9 634.1 L428.9 634.2 L429.9 634.3 L430.9 634.5 L431.9 634.6 L432.9 634.7 L433.9 634.8 L434.8 635 L435.8 635.1 L436.8 635.2 L437.8 635.3 L438.8 635.4 L439.8 635.5 L440.7 635.7 L441.7 635.8 L442.7 635.9 L443.7 636 L444.7 636.1 L445.7 636.2 L446.6 636.3 L447.6 636.5 L448.6 636.6 L449.6 636.7 L450.6 636.8 L451.6 636.9 L452.5 637 L453.5 637.1 L454.5 637.2 L455.5 637.3 L456.5 637.3 L457.5 637.4 L458.5 637.4 L459.4 637.5 L460.4 637.5 L461.4 637.6 L462.4 637.6 L463.4 637.6 L464.4 637.7 L465.3 637.7 L466.3 637.7 L467.3 637.7 L468.3 637.7 L469.3 637.7 L470.3 637.8 L471.2 637.8 L472.2 637.8 L473.2 637.8 L474.2 637.8 L475.2 637.8 L476.2 637.8 L477.2 637.8 L478.1 637.8 L479.1 637.8 L480.1 637.8 L481.1 637.7 L482.1 637.7 L483.1 637.6 L484 637.5 L485 637.4 L486 637.3 L487 637.2 L488 637.1 L489 637 L489.9 636.9 L490.9 636.7 L491.9 636.6 L492.9 636.5 L493.9 636.3 L494.9 636.2 L495.8 636.1 L496.8 636 L497.8 635.8 L498.8 635.7 L499.8 635.6 L500.8 635.4 L501.8 635.3 L502.7 635.2 L503.7 635.1 L504.7 635 L505.7 634.9 L506.7 634.8 L507.7 634.7 L508.6 634.6 L509.6 634.5 L510.6 634.4 L511.6 634.3 L512.6 634.2 L513.6 634.2 L514.5 634.1 L515.5 634 L516.5 634 L517.5 634 L518.5 633.9 L519.5 633.9 L520.4 633.9 L521.4 633.9 L522.4 633.8 L523.4 633.8 L524.4 633.8 L525.4 633.8 L526.4 633.8 L527.3 633.8 L528.3 633.9 L529.3 633.9 L530.3 633.9 L531.3 633.9 L532.3 633.9 L533.2 634 L534.2 634 L535.2 634 L536.2 634.1 L537.2 634.1 L538.2 634.2 L539.1 634.2 L540.1 634.2 L541.1 634.3 L542.1 634.3 L543.1 634.4 L544.1 634.4 L545 634.4 L546 634.5 L547 634.5 L548 634.6 L549 634.6 L550 634.6 L551 634.7 L551.9 634.7 L552.9 634.7 L553.9 634.8 L554.9 634.8 L555.9 634.8 L556.9 634.9 L557.8 634.9 L558.8 634.9 L559.8 634.9 L560.8 635 L561.8 635 L562.8 635 L563.7 635 L564.7 635 L565.7 635 L566.7 635 L567.7 635.1 L568.7 635.1 L569.6 635.1 L570.6 635.1 L571.6 635.1 L572.6 635.1 L573.6 635.1 L574.6 635.1 L575.6 635.1 L576.5 635.1 L577.5 635.1 L578.5 635.1 L579.5 635.1 L580.5 635.1 L581.5 635.1 L582.4 635.1 L583.4 635.1 L584.4 635.1 L585.4 635.1 L586.4 635.1 L587.4 635.1 L588.3 635.1 L589.3 635.1 L590.3 635.1 L591.3 635.1 L592.3 635.1 L593.3 635.1 L594.2 635.1 L595.2 635.1 L596.2 635 L597.2 635 L598.2 635 L599.2 635 L600.2 635 L601.1 635 L602.1 635 L603.1 635 L604.1 635 L605.1 635 L606.1 635 L607 635 L608 635 L609 634.9 L610 634.9 L611 634.9 L612 634.9 L612.9 634.9 L613.9 634.9 L614.9 634.9 L615.9 634.9 L616.9 634.9 L617.9 634.9 L618.8 634.9 L619.8 634.9 L620.8 634.9 L621.8 634.9 L622.8 634.9 L623.8 634.9 L624.8 634.9 L625.7 634.9 L626.7 634.9 L627.7 634.9 L628.7 634.9 L629.7 634.9 L630.7 634.9 L631.6 634.9 L632.6 634.9 L633.6 634.9 L634.6 634.9 L635.6 634.9 L636.6 634.9 L637.5 634.9 L638.5 634.9 L639.5 634.9 L640.5 634.9 L641.5 634.9 L642.5 634.9 L643.4 634.9 L644.4 634.9 L645.4 634.9 L646.4 634.9 L647.4 634.9 L648.4 634.9 L649.4 634.9 L650.3 634.9 L651.3 634.9 L652.3 635 L653.3 635 L654.3 635 L655.3 635 L656.2 635 L657.2 635 L658.2 635 L659.2 635 L660.2 635 L661.2 635 L662.1 635 L663.1 635 L664.1 635 L665.1 635 L666.1 635 L667.1 635 L668 635 L669 635.1 L670 635.1 L671 635.1" stroke="#00ffff"/>
</g>
<g stroke="#000" stroke-width="2">
<line x1="199.8" y1="851.9" x2="199.8" y2="845.4"/>
<line x1="199.8" y1="493.4" x2="199.8" y2="499.9"/>
<line x1="317.6" y1="851.9" x2="317.6" y2="845.4"/>
<line x1="317.6" y1="493.4" x2="317.6" y2="499.9"/>
<line x1="435.4" y1="851.9" x2="435.4" y2="845.4"/>
<line x1="435.4" y1="493.4" x2="435.4" y2="499.9"/>
<line x1="553.2" y1="851.9" x2="553.2" y2="845.4"/>
<line x1="553.2" y1="493.4" x2="553.2" y2="499.9"/>
<line x1="82" y1="526.48" x2="88.5" y2="526.48"/>
<line x1="671.2" y1="526.48" x2="664.7" y2="526.48"/>
<line x1="82" y1="580.84" x2="88.5" y2="580.84"/>
<line x1="671.2" y1="580.84" x2="664.7" y2="580.84"/>
<line x1="82" y1="635.2" x2="88.5" y2="635.2"/>
<line x1="671.2" y1="635.2" x2="664.7" y2="635.2"/>
<line x1="82" y1="689.56" x2="88.5" y2="689.56"/>
<line x1="671.2" y1="689.56" x2="664.7" y2="689.56"/>
<line x1="82" y1="743.92" x2="88.5" y2="743.92"/>
<line x1="671.2" y1="743.92" x2="664.7" y2="743.92"/>
<line x1="82" y1="798.28" x2="88.5" y2="798.28"/>
<line x1="671.2" y1="798.28" x2="664.7" y2="798.28"/>
</g>
<rect x="82" y="493.4" width="589.2" height="358.5" fill="none" stroke="#000" stroke-width="2"/>
<g font-family='"Liberation Serif", serif' fill="#000">
<text transform="translate(74.3,535.08) scale(1,1.1)" font-size="21.8" text-anchor="end">0.4</text>
<text transform="translate(74.3,589.44) scale(1,1.1)" font-size="21.8" text-anchor="end">0.2</text>
<text transform="translate(74.3,643.8) scale(1,1.1)" font-size="21.8" text-anchor="end">0</text>
<text transform="translate(74.3,698.16) scale(1,1.1)" font-size="21.8" text-anchor="end">-0.2</text>
<text transform="translate(74.3,752.52) scale(1,1.1)" font-size="21.8" text-anchor="end">-0.4</text>
<text transform="translate(74.3,806.88) scale(1,1.1)" font-size="21.8" text-anchor="end">-0.6</text>
<text transform="translate(82,879.2) scale(1,1.08)" font-size="20.8" text-anchor="middle">0</text>
<text transform="translate(199.8,879.2) scale(1,1.08)" font-size="20.8" text-anchor="middle">2</text>
<text transform="translate(317.6,879.2) scale(1,1.08)" font-size="20.8" text-anchor="middle">4</text>
<text transform="translate(435.4,879.2) scale(1,1.08)" font-size="20.8" text-anchor="middle">6</text>
<text transform="translate(553.2,879.2) scale(1,1.08)" font-size="20.8" text-anchor="middle">8</text>
<text transform="translate(671,879.2) scale(1,1.08)" font-size="20.8" text-anchor="middle">10</text>
<text transform="translate(377.1,907.7) scale(1,1.06)" font-size="24.5" text-anchor="middle">Time(s)</text>
<g transform="translate(24.4,730.0) rotate(-90)" font-size="24.6"><text transform="scale(1.216,1)" font-size="25.3">Δ</text><text x="19.9">f<tspan font-size="18.2" dy="11.9" dx="2">2</tspan><tspan dy="-11.9">(t)(Hz)</tspan></text></g>
<text x="376.3" y="945" font-size="16" text-anchor="middle">(b)</text>
</g>
<rect x="564" y="625.8" width="98" height="213" fill="#fff" stroke="#1a1a1a" stroke-width="1.5"/>
<g font-family='"Liberation Serif", serif' fill="#000">
<line x1="567.4" y1="637.6" x2="600.6" y2="637.6" stroke="#007d00" stroke-width="2.1"/>
<text transform="translate(607.6,644) scale(1,1.03)" font-size="18" text-anchor="start">SSA</text>
<line x1="567.4" y1="658.6" x2="600.6" y2="658.6" stroke="#ffd500" stroke-width="2.1"/>
<text transform="translate(607.6,665) scale(1,1.03)" font-size="18" text-anchor="start">WOA</text>
<line x1="567.4" y1="679.6" x2="600.6" y2="679.6" stroke="#ff00ff" stroke-width="2.1"/>
<text transform="translate(607.6,686) scale(1,1.03)" font-size="18" text-anchor="start">COA</text>
<line x1="567.4" y1="700.6" x2="600.6" y2="700.6" stroke="#000000" stroke-width="2.1"/>
<text transform="translate(607.6,707) scale(1,1.03)" font-size="18" text-anchor="start">SBOA</text>
<line x1="567.4" y1="721.6" x2="600.6" y2="721.6" stroke="#993300" stroke-width="2.1"/>
<text transform="translate(607.6,728) scale(1,1.03)" font-size="18" text-anchor="start">HOA</text>
<line x1="567.4" y1="742.6" x2="600.6" y2="742.6" stroke="#0000ff" stroke-width="2.1"/>
<text transform="translate(607.6,749) scale(1,1.03)" font-size="18" text-anchor="start">BBOA</text>
<line x1="567.4" y1="763.6" x2="600.6" y2="763.6" stroke="#ff0000" stroke-width="2.1"/>
<text transform="translate(607.6,770) scale(1,1.03)" font-size="18" text-anchor="start">TL</text>
<line x1="567.4" y1="784.6" x2="600.6" y2="784.6" stroke="#6e4068" stroke-width="2.1"/>
<text transform="translate(607.6,791) scale(1,1.03)" font-size="18" text-anchor="start">GTO</text>
<line x1="567.4" y1="805.6" x2="600.6" y2="805.6" stroke="#00ff00" stroke-width="2.1"/>
<text transform="translate(607.6,812) scale(1,1.03)" font-size="18" text-anchor="start">WHO</text>
<line x1="567.4" y1="826.6" x2="600.6" y2="826.6" stroke="#00ffff" stroke-width="2.1"/>
<text transform="translate(607.6,833) scale(1,1.03)" font-size="18" text-anchor="start">WaOA</text>
</g>
</g>
<g id="plotc">
<g stroke="#262626" stroke-opacity="0.15" stroke-width="1.9">
<line x1="108.2" y1="976.5" x2="108.2" y2="1318.5"/>
<line x1="168.35" y1="976.5" x2="168.35" y2="1318.5"/>
<line x1="228.5" y1="976.5" x2="228.5" y2="1318.5"/>
<line x1="288.65" y1="976.5" x2="288.65" y2="1318.5"/>
<line x1="348.8" y1="976.5" x2="348.8" y2="1318.5"/>
<line x1="408.95" y1="976.5" x2="408.95" y2="1318.5"/>
<line x1="469.1" y1="976.5" x2="469.1" y2="1318.5"/>
<line x1="529.25" y1="976.5" x2="529.25" y2="1318.5"/>
<line x1="589.4" y1="976.5" x2="589.4" y2="1318.5"/>
<line x1="649.55" y1="976.5" x2="649.55" y2="1318.5"/>
<line x1="82.3" y1="1269.64" x2="675.3" y2="1269.64"/>
<line x1="82.3" y1="1220.78" x2="675.3" y2="1220.78"/>
<line x1="82.3" y1="1171.92" x2="675.3" y2="1171.92"/>
<line x1="82.3" y1="1123.06" x2="675.3" y2="1123.06"/>
<line x1="82.3" y1="1074.2" x2="675.3" y2="1074.2"/>
<line x1="82.3" y1="1025.34" x2="675.3" y2="1025.34"/>
</g>
<rect x="96.1" y="1038.53" width="6.7" height="279.97" fill="#0000ff" stroke="#000" stroke-width="0.6"/>
<rect x="113.6" y="993.58" width="6.7" height="324.92" fill="#993300" stroke="#000" stroke-width="0.6"/>
<rect x="156.25" y="1113.78" width="6.7" height="204.72" fill="#0000ff" stroke="#000" stroke-width="0.6"/>
<rect x="173.75" y="1094.23" width="6.7" height="224.27" fill="#993300" stroke="#000" stroke-width="0.6"/>
<rect x="216.4" y="1150.42" width="6.7" height="168.08" fill="#0000ff" stroke="#000" stroke-width="0.6"/>
<rect x="233.9" y="1108.4" width="6.7" height="210.1" fill="#993300" stroke="#000" stroke-width="0.6"/>
<rect x="276.55" y="1100.1" width="6.7" height="218.4" fill="#0000ff" stroke="#000" stroke-width="0.6"/>
<rect x="294.05" y="1086.41" width="6.7" height="232.09" fill="#993300" stroke="#000" stroke-width="0.6"/>
<rect x="336.7" y="1038.53" width="6.7" height="279.97" fill="#0000ff" stroke="#000" stroke-width="0.6"/>
<rect x="354.2" y="1096.68" width="6.7" height="221.82" fill="#993300" stroke="#000" stroke-width="0.6"/>
<rect x="396.85" y="1141.63" width="6.7" height="176.87" fill="#0000ff" stroke="#000" stroke-width="0.6"/>
<rect x="414.35" y="1124.04" width="6.7" height="194.46" fill="#993300" stroke="#000" stroke-width="0.6"/>
<rect x="457" y="1160.68" width="6.7" height="157.82" fill="#0000ff" stroke="#000" stroke-width="0.6"/>
<rect x="474.5" y="1144.07" width="6.7" height="174.43" fill="#993300" stroke="#000" stroke-width="0.6"/>
<rect x="517.15" y="1219.31" width="6.7" height="99.19" fill="#0000ff" stroke="#000" stroke-width="0.6"/>
<rect x="534.65" y="1204.66" width="6.7" height="113.84" fill="#993300" stroke="#000" stroke-width="0.6"/>
<rect x="577.3" y="1088.37" width="6.7" height="230.13" fill="#0000ff" stroke="#000" stroke-width="0.6"/>
<rect x="594.8" y="1098.14" width="6.7" height="220.36" fill="#993300" stroke="#000" stroke-width="0.6"/>
<rect x="637.45" y="1099.61" width="6.7" height="218.89" fill="#0000ff" stroke="#000" stroke-width="0.6"/>
<rect x="654.95" y="1059.54" width="6.7" height="258.96" fill="#993300" stroke="#000" stroke-width="0.6"/>
<g stroke="#262626" stroke-width="1.7">
<line x1="108.2" y1="1318.5" x2="108.2" y2="1312.5"/>
<line x1="108.2" y1="976.5" x2="108.2" y2="982.5"/>
<line x1="168.35" y1="1318.5" x2="168.35" y2="1312.5"/>
<line x1="168.35" y1="976.5" x2="168.35" y2="982.5"/>
<line x1="228.5" y1="1318.5" x2="228.5" y2="1312.5"/>
<line x1="228.5" y1="976.5" x2="228.5" y2="982.5"/>
<line x1="288.65" y1="1318.5" x2="288.65" y2="1312.5"/>
<line x1="288.65" y1="976.5" x2="288.65" y2="982.5"/>
<line x1="348.8" y1="1318.5" x2="348.8" y2="1312.5"/>
<line x1="348.8" y1="976.5" x2="348.8" y2="982.5"/>
<line x1="408.95" y1="1318.5" x2="408.95" y2="1312.5"/>
<line x1="408.95" y1="976.5" x2="408.95" y2="982.5"/>
<line x1="469.1" y1="1318.5" x2="469.1" y2="1312.5"/>
<line x1="469.1" y1="976.5" x2="469.1" y2="982.5"/>
<line x1="529.25" y1="1318.5" x2="529.25" y2="1312.5"/>
<line x1="529.25" y1="976.5" x2="529.25" y2="982.5"/>
<line x1="589.4" y1="1318.5" x2="589.4" y2="1312.5"/>
<line x1="589.4" y1="976.5" x2="589.4" y2="982.5"/>
<line x1="649.55" y1="1318.5" x2="649.55" y2="1312.5"/>
<line x1="649.55" y1="976.5" x2="649.55" y2="982.5"/>
<line x1="82.3" y1="1269.64" x2="88.3" y2="1269.64"/>
<line x1="675.3" y1="1269.64" x2="669.3" y2="1269.64"/>
<line x1="82.3" y1="1220.78" x2="88.3" y2="1220.78"/>
<line x1="675.3" y1="1220.78" x2="669.3" y2="1220.78"/>
<line x1="82.3" y1="1171.92" x2="88.3" y2="1171.92"/>
<line x1="675.3" y1="1171.92" x2="669.3" y2="1171.92"/>
<line x1="82.3" y1="1123.06" x2="88.3" y2="1123.06"/>
<line x1="675.3" y1="1123.06" x2="669.3" y2="1123.06"/>
<line x1="82.3" y1="1074.2" x2="88.3" y2="1074.2"/>
<line x1="675.3" y1="1074.2" x2="669.3" y2="1074.2"/>
<line x1="82.3" y1="1025.34" x2="88.3" y2="1025.34"/>
<line x1="675.3" y1="1025.34" x2="669.3" y2="1025.34"/>
</g>
<rect x="82.3" y="976.5" width="593" height="342" fill="none" stroke="#262626" stroke-width="1.9"/>
<g font-family='"Liberation Serif", serif' fill="#262626">
<text transform="translate(75.8,1324) scale(1,1.03)" font-size="15.5" text-anchor="end">0</text>
<text transform="translate(75.8,1275.14) scale(1,1.03)" font-size="15.5" text-anchor="end">0.1</text>
<text transform="translate(75.8,1226.28) scale(1,1.03)" font-size="15.5" text-anchor="end">0.2</text>
<text transform="translate(75.8,1177.42) scale(1,1.03)" font-size="15.5" text-anchor="end">0.3</text>
<text transform="translate(75.8,1128.56) scale(1,1.03)" font-size="15.5" text-anchor="end">0.4</text>
<text transform="translate(75.8,1079.7) scale(1,1.03)" font-size="15.5" text-anchor="end">0.5</text>
<text transform="translate(75.8,1030.84) scale(1,1.03)" font-size="15.5" text-anchor="end">0.6</text>
<text transform="translate(75.8,981.98) scale(1,1.03)" font-size="15.5" text-anchor="end">0.7</text>
<text transform="translate(108.2,1339.8) scale(1,1.03)" font-size="15.5" text-anchor="middle">SSA</text>
<text transform="translate(168.35,1339.8) scale(1,1.03)" font-size="15.5" text-anchor="middle">WOA</text>
<text transform="translate(228.5,1339.8) scale(1,1.03)" font-size="15.5" text-anchor="middle">COA</text>
<text transform="translate(288.65,1339.8) scale(1,1.03)" font-size="15.5" text-anchor="middle">SBOA</text>
<text transform="translate(348.8,1339.8) scale(1,1.03)" font-size="15.5" text-anchor="middle">HOA</text>
<text transform="translate(408.95,1339.8) scale(1,1.03)" font-size="15.5" text-anchor="middle">BBOA</text>
<text transform="translate(469.1,1339.8) scale(1,1.03)" font-size="15.5" text-anchor="middle">TL</text>
<text transform="translate(529.25,1339.8) scale(1,1.03)" font-size="15.5" text-anchor="middle">WaOA</text>
<text transform="translate(589.4,1339.8) scale(1,1.03)" font-size="15.5" text-anchor="middle">GTO</text>
<text transform="translate(649.55,1339.8) scale(1,1.03)" font-size="15.5" text-anchor="middle">WHO</text>
<text transform="translate(378.7,1359.4) scale(1,1.03)" font-size="17.5" text-anchor="middle">Optimization Algorithms</text>
<g transform="translate(49.9,1168.4) rotate(-90)" font-size="17.5"><text transform="translate(2.6,0) scale(1.08,1)" font-size="20.3">Δ</text><text x="17.3 22.4 28.9 33.4">f(t)</text></g>
<line x1="37.9" y1="1168.4" x2="53.6" y2="1168.4" stroke="#262626" stroke-width="1" stroke-opacity="0.8"/>
<line x1="37.9" y1="1127.9" x2="53.6" y2="1127.9" stroke="#262626" stroke-width="1" stroke-opacity="0.55"/>
</g>
<rect x="587" y="986" width="78.3" height="35.4" fill="#fff" stroke="#262626" stroke-width="1.7"/>
<rect x="589.3" y="989.6" width="29.6" height="12.2" fill="#0000ff" stroke="#000" stroke-width="0.6"/>
<rect x="589.3" y="1005.6" width="29.6" height="12.2" fill="#993300" stroke="#000" stroke-width="0.6"/>
<g font-family='"Liberation Serif", serif' fill="#262626">
<text transform="translate(625.4,1001.2) scale(1,1.03)" font-size="13.2" text-anchor="start">Area 1</text>
<text transform="translate(625.4,1017.2) scale(1,1.03)" font-size="13.2" text-anchor="start">Area 2</text>
</g>
<g font-family='"Liberation Serif", serif' fill="#000"><text x="371.2" y="1391" font-size="16" text-anchor="middle">(c)</text></g>
</g>
</svg>
</body></html>
